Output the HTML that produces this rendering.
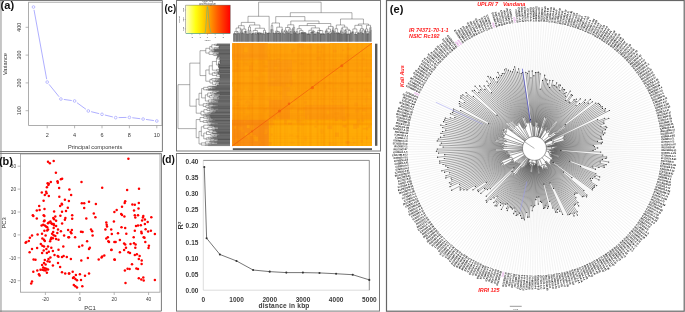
<!DOCTYPE html>
<html><head><meta charset="utf-8"><title>figure</title>
<style>
html,body{margin:0;padding:0;background:#fff;overflow:hidden;}
svg{display:block;will-change:transform;}
text{font-family:"Liberation Sans",sans-serif;}
</style></head>
<body>
<svg width="685" height="312" viewBox="0 0 685 312">
<rect width="685" height="312" fill="#fff"/>
<rect x="28.6" y="2.2" width="133.4" height="123.3" fill="none" stroke="#9a9a9a" stroke-width="0.8"/>
<line x1="25.6" y1="110.7" x2="28.6" y2="110.7" stroke="#9a9a9a" stroke-width="0.7"/>
<text x="0" y="0" transform="translate(20.8 110.7) rotate(-90)" font-size="5.4" fill="#383838" text-anchor="middle">100</text>
<line x1="25.6" y1="82.9" x2="28.6" y2="82.9" stroke="#9a9a9a" stroke-width="0.7"/>
<text x="0" y="0" transform="translate(20.8 82.9) rotate(-90)" font-size="5.4" fill="#383838" text-anchor="middle">200</text>
<line x1="25.6" y1="55.1" x2="28.6" y2="55.1" stroke="#9a9a9a" stroke-width="0.7"/>
<text x="0" y="0" transform="translate(20.8 55.1) rotate(-90)" font-size="5.4" fill="#383838" text-anchor="middle">300</text>
<line x1="25.6" y1="27.3" x2="28.6" y2="27.3" stroke="#9a9a9a" stroke-width="0.7"/>
<text x="0" y="0" transform="translate(20.8 27.3) rotate(-90)" font-size="5.4" fill="#383838" text-anchor="middle">400</text>
<line x1="47.2" y1="125.5" x2="47.2" y2="128.3" stroke="#9a9a9a" stroke-width="0.7"/>
<text x="47.2" y="136.6" font-size="5.5" fill="#383838" text-anchor="middle">2</text>
<line x1="74.6" y1="125.5" x2="74.6" y2="128.3" stroke="#9a9a9a" stroke-width="0.7"/>
<text x="74.6" y="136.6" font-size="5.5" fill="#383838" text-anchor="middle">4</text>
<line x1="102" y1="125.5" x2="102" y2="128.3" stroke="#9a9a9a" stroke-width="0.7"/>
<text x="102" y="136.6" font-size="5.5" fill="#383838" text-anchor="middle">6</text>
<line x1="129.4" y1="125.5" x2="129.4" y2="128.3" stroke="#9a9a9a" stroke-width="0.7"/>
<text x="129.4" y="136.6" font-size="5.5" fill="#383838" text-anchor="middle">8</text>
<line x1="156.8" y1="125.5" x2="156.8" y2="128.3" stroke="#9a9a9a" stroke-width="0.7"/>
<text x="156.8" y="136.6" font-size="5.5" fill="#383838" text-anchor="middle">10</text>
<text x="95.1" y="148.6" font-size="5.7" fill="#383838" text-anchor="middle">Principal components</text>
<text x="0" y="0" transform="translate(7.2 64.1) rotate(-90)" font-size="5.7" fill="#333" text-anchor="middle">Variance</text>
<line x1="34.02" y1="9.86" x2="46.68" y2="79.21" stroke="#8c8cff" stroke-width="0.7"/>
<line x1="49.02" y1="84.32" x2="59.08" y2="96.77" stroke="#8c8cff" stroke-width="0.7"/>
<line x1="63.77" y1="99.43" x2="71.73" y2="100.56" stroke="#8c8cff" stroke-width="0.7"/>
<line x1="76.94" y1="102.68" x2="85.96" y2="109.27" stroke="#8c8cff" stroke-width="0.7"/>
<line x1="91.12" y1="111.66" x2="99.18" y2="113.63" stroke="#8c8cff" stroke-width="0.7"/>
<line x1="104.82" y1="115" x2="112.88" y2="116.96" stroke="#8c8cff" stroke-width="0.7"/>
<line x1="118.6" y1="117.59" x2="126.5" y2="117.43" stroke="#8c8cff" stroke-width="0.7"/>
<line x1="132.28" y1="117.72" x2="140.22" y2="118.69" stroke="#8c8cff" stroke-width="0.7"/>
<line x1="145.97" y1="119.45" x2="153.93" y2="120.58" stroke="#8c8cff" stroke-width="0.7"/>
<circle cx="33.5" cy="7.01" r="1.35" fill="none" stroke="#8c8cff" stroke-width="0.55"/>
<circle cx="47.2" cy="82.07" r="1.35" fill="none" stroke="#8c8cff" stroke-width="0.55"/>
<circle cx="60.9" cy="99.02" r="1.35" fill="none" stroke="#8c8cff" stroke-width="0.55"/>
<circle cx="74.6" cy="100.97" r="1.35" fill="none" stroke="#8c8cff" stroke-width="0.55"/>
<circle cx="88.3" cy="110.98" r="1.35" fill="none" stroke="#8c8cff" stroke-width="0.55"/>
<circle cx="102" cy="114.31" r="1.35" fill="none" stroke="#8c8cff" stroke-width="0.55"/>
<circle cx="115.7" cy="117.65" r="1.35" fill="none" stroke="#8c8cff" stroke-width="0.55"/>
<circle cx="129.4" cy="117.37" r="1.35" fill="none" stroke="#8c8cff" stroke-width="0.55"/>
<circle cx="143.1" cy="119.04" r="1.35" fill="none" stroke="#8c8cff" stroke-width="0.55"/>
<circle cx="156.8" cy="120.99" r="1.35" fill="none" stroke="#8c8cff" stroke-width="0.55"/>
<rect x="20.5" y="154" width="139.5" height="138.2" fill="none" stroke="#9a9a9a" stroke-width="0.8"/>
<line x1="17.6" y1="166.2" x2="20.5" y2="166.2" stroke="#9a9a9a" stroke-width="0.7"/>
<text x="16.2" y="168.2" font-size="4.8" fill="#383838" text-anchor="end">30</text>
<line x1="17.6" y1="189.1" x2="20.5" y2="189.1" stroke="#9a9a9a" stroke-width="0.7"/>
<text x="16.2" y="191.1" font-size="4.8" fill="#383838" text-anchor="end">20</text>
<line x1="17.6" y1="212" x2="20.5" y2="212" stroke="#9a9a9a" stroke-width="0.7"/>
<text x="16.2" y="214" font-size="4.8" fill="#383838" text-anchor="end">10</text>
<line x1="17.6" y1="234.9" x2="20.5" y2="234.9" stroke="#9a9a9a" stroke-width="0.7"/>
<text x="16.2" y="236.9" font-size="4.8" fill="#383838" text-anchor="end">0</text>
<line x1="17.6" y1="257.8" x2="20.5" y2="257.8" stroke="#9a9a9a" stroke-width="0.7"/>
<text x="16.2" y="259.8" font-size="4.8" fill="#383838" text-anchor="end">-10</text>
<line x1="17.6" y1="280.7" x2="20.5" y2="280.7" stroke="#9a9a9a" stroke-width="0.7"/>
<text x="16.2" y="282.7" font-size="4.8" fill="#383838" text-anchor="end">-20</text>
<line x1="45.4" y1="292.2" x2="45.4" y2="295" stroke="#9a9a9a" stroke-width="0.7"/>
<text x="45.4" y="301" font-size="4.8" fill="#383838" text-anchor="middle">-20</text>
<line x1="79.8" y1="292.2" x2="79.8" y2="295" stroke="#9a9a9a" stroke-width="0.7"/>
<text x="79.8" y="301" font-size="4.8" fill="#383838" text-anchor="middle">0</text>
<line x1="114.2" y1="292.2" x2="114.2" y2="295" stroke="#9a9a9a" stroke-width="0.7"/>
<text x="114.2" y="301" font-size="4.8" fill="#383838" text-anchor="middle">20</text>
<line x1="148.6" y1="292.2" x2="148.6" y2="295" stroke="#9a9a9a" stroke-width="0.7"/>
<text x="148.6" y="301" font-size="4.8" fill="#383838" text-anchor="middle">40</text>
<text x="90.1" y="309.6" font-size="5.9" fill="#333" text-anchor="middle">PC1</text>
<text x="0" y="0" transform="translate(6.4 222.9) rotate(-90)" font-size="5.8" fill="#333" text-anchor="middle">PC3</text>
<g fill="#ff0000">
<circle cx="48" cy="161.7" r="1.25"/>
<circle cx="49.8" cy="163.3" r="1.25"/>
<circle cx="53.7" cy="161.1" r="1.25"/>
<circle cx="55.9" cy="172.8" r="1.25"/>
<circle cx="60.9" cy="179.2" r="1.25"/>
<circle cx="62.1" cy="178.8" r="1.25"/>
<circle cx="57.5" cy="181.2" r="1.25"/>
<circle cx="57.8" cy="182.8" r="1.25"/>
<circle cx="50.8" cy="182" r="1.25"/>
<circle cx="47.6" cy="183.2" r="1.25"/>
<circle cx="48.8" cy="183.8" r="1.25"/>
<circle cx="48.4" cy="184.9" r="1.25"/>
<circle cx="46.9" cy="187.2" r="1.25"/>
<circle cx="59.1" cy="188" r="1.25"/>
<circle cx="69.4" cy="189.6" r="1.25"/>
<circle cx="41.8" cy="192.6" r="1.25"/>
<circle cx="46.1" cy="191.8" r="1.25"/>
<circle cx="46.6" cy="193.3" r="1.25"/>
<circle cx="44.8" cy="194.9" r="1.25"/>
<circle cx="48.8" cy="196" r="1.25"/>
<circle cx="59.3" cy="196.8" r="1.25"/>
<circle cx="43.6" cy="200.8" r="1.25"/>
<circle cx="64.9" cy="199.8" r="1.25"/>
<circle cx="68.9" cy="201" r="1.25"/>
<circle cx="61.7" cy="203.7" r="1.25"/>
<circle cx="81.5" cy="181.9" r="1.25"/>
<circle cx="102.2" cy="187.7" r="1.25"/>
<circle cx="71.1" cy="195" r="1.25"/>
<circle cx="81.8" cy="203.2" r="1.25"/>
<circle cx="84.2" cy="203.2" r="1.25"/>
<circle cx="89" cy="201.8" r="1.25"/>
<circle cx="95.9" cy="204" r="1.25"/>
<circle cx="128.4" cy="158.8" r="1.25"/>
<circle cx="127.1" cy="190.1" r="1.25"/>
<circle cx="139" cy="188.8" r="1.25"/>
<circle cx="125.2" cy="201.3" r="1.25"/>
<circle cx="124.7" cy="202.9" r="1.25"/>
<circle cx="132.4" cy="204.5" r="1.25"/>
<circle cx="138.8" cy="202.9" r="1.25"/>
<circle cx="134.8" cy="204.8" r="1.25"/>
<circle cx="39.2" cy="206.1" r="1.25"/>
<circle cx="36.8" cy="210.4" r="1.25"/>
<circle cx="39.6" cy="209.9" r="1.25"/>
<circle cx="44.5" cy="209.1" r="1.25"/>
<circle cx="32.8" cy="215.2" r="1.25"/>
<circle cx="33.3" cy="216" r="1.25"/>
<circle cx="36.8" cy="218.6" r="1.25"/>
<circle cx="43.7" cy="215.2" r="1.25"/>
<circle cx="44.4" cy="216" r="1.25"/>
<circle cx="54.1" cy="211.4" r="1.25"/>
<circle cx="60.1" cy="205.9" r="1.25"/>
<circle cx="62" cy="204.5" r="1.25"/>
<circle cx="67.8" cy="207.7" r="1.25"/>
<circle cx="62" cy="211.7" r="1.25"/>
<circle cx="66" cy="210.9" r="1.25"/>
<circle cx="60.4" cy="215.7" r="1.25"/>
<circle cx="55.3" cy="216.5" r="1.25"/>
<circle cx="53.3" cy="218.1" r="1.25"/>
<circle cx="54.1" cy="219.2" r="1.25"/>
<circle cx="56.1" cy="220.8" r="1.25"/>
<circle cx="65.4" cy="218.1" r="1.25"/>
<circle cx="64.9" cy="219.7" r="1.25"/>
<circle cx="44.5" cy="220.5" r="1.25"/>
<circle cx="44" cy="221.2" r="1.25"/>
<circle cx="50.4" cy="221.6" r="1.25"/>
<circle cx="48.8" cy="222.4" r="1.25"/>
<circle cx="51.3" cy="223.2" r="1.25"/>
<circle cx="52.1" cy="224" r="1.25"/>
<circle cx="48" cy="223.2" r="1.25"/>
<circle cx="53.7" cy="224" r="1.25"/>
<circle cx="62.1" cy="223.6" r="1.25"/>
<circle cx="41.6" cy="225.6" r="1.25"/>
<circle cx="43.2" cy="224.8" r="1.25"/>
<circle cx="44.8" cy="225.6" r="1.25"/>
<circle cx="46.1" cy="226.4" r="1.25"/>
<circle cx="47.2" cy="227.2" r="1.25"/>
<circle cx="54.1" cy="225.3" r="1.25"/>
<circle cx="56.1" cy="226.1" r="1.25"/>
<circle cx="53.7" cy="228" r="1.25"/>
<circle cx="58" cy="229.6" r="1.25"/>
<circle cx="44.4" cy="230.8" r="1.25"/>
<circle cx="47.2" cy="230.4" r="1.25"/>
<circle cx="48" cy="229.6" r="1.25"/>
<circle cx="60.9" cy="231.3" r="1.25"/>
<circle cx="57.3" cy="232.9" r="1.25"/>
<circle cx="53.2" cy="232.1" r="1.25"/>
<circle cx="52.1" cy="233.7" r="1.25"/>
<circle cx="68.1" cy="230.1" r="1.25"/>
<circle cx="37.6" cy="234.5" r="1.25"/>
<circle cx="42" cy="233.7" r="1.25"/>
<circle cx="45.6" cy="235.6" r="1.25"/>
<circle cx="32" cy="235.6" r="1.25"/>
<circle cx="53.7" cy="235.3" r="1.25"/>
<circle cx="55.3" cy="236.1" r="1.25"/>
<circle cx="64.1" cy="235.6" r="1.25"/>
<circle cx="68.4" cy="237.2" r="1.25"/>
<circle cx="29.9" cy="237.7" r="1.25"/>
<circle cx="42.4" cy="238.5" r="1.25"/>
<circle cx="44" cy="239.7" r="1.25"/>
<circle cx="51.3" cy="237.7" r="1.25"/>
<circle cx="52.9" cy="238.2" r="1.25"/>
<circle cx="50.8" cy="239.3" r="1.25"/>
<circle cx="56.1" cy="238.9" r="1.25"/>
<circle cx="58.5" cy="239.7" r="1.25"/>
<circle cx="28.8" cy="240.9" r="1.25"/>
<circle cx="26.4" cy="242.1" r="1.25"/>
<circle cx="25.6" cy="242.8" r="1.25"/>
<circle cx="44.8" cy="240.9" r="1.25"/>
<circle cx="50.1" cy="241.3" r="1.25"/>
<circle cx="40.8" cy="244.1" r="1.25"/>
<circle cx="42.4" cy="245.7" r="1.25"/>
<circle cx="44" cy="246.5" r="1.25"/>
<circle cx="48" cy="246.5" r="1.25"/>
<circle cx="51.3" cy="247.8" r="1.25"/>
<circle cx="63.3" cy="246.5" r="1.25"/>
<circle cx="32" cy="248.9" r="1.25"/>
<circle cx="37.1" cy="248.1" r="1.25"/>
<circle cx="46.4" cy="248.9" r="1.25"/>
<circle cx="58.5" cy="249.7" r="1.25"/>
<circle cx="84.2" cy="208" r="1.25"/>
<circle cx="72.2" cy="215.2" r="1.25"/>
<circle cx="72.2" cy="218.8" r="1.25"/>
<circle cx="93.8" cy="213.6" r="1.25"/>
<circle cx="95.4" cy="217.3" r="1.25"/>
<circle cx="86.3" cy="218.4" r="1.25"/>
<circle cx="114.4" cy="212" r="1.25"/>
<circle cx="106.3" cy="222.4" r="1.25"/>
<circle cx="106.7" cy="224.8" r="1.25"/>
<circle cx="107" cy="226.4" r="1.25"/>
<circle cx="113.9" cy="221.6" r="1.25"/>
<circle cx="71.9" cy="230.1" r="1.25"/>
<circle cx="70.6" cy="232" r="1.25"/>
<circle cx="71.4" cy="233.2" r="1.25"/>
<circle cx="81" cy="231.7" r="1.25"/>
<circle cx="82.6" cy="232" r="1.25"/>
<circle cx="91" cy="229.6" r="1.25"/>
<circle cx="92.2" cy="231.3" r="1.25"/>
<circle cx="105.4" cy="229.6" r="1.25"/>
<circle cx="111.2" cy="229.6" r="1.25"/>
<circle cx="111.8" cy="234" r="1.25"/>
<circle cx="69" cy="237.3" r="1.25"/>
<circle cx="75.1" cy="237.2" r="1.25"/>
<circle cx="92.6" cy="235.6" r="1.25"/>
<circle cx="106.3" cy="238.5" r="1.25"/>
<circle cx="107.8" cy="237.2" r="1.25"/>
<circle cx="108.3" cy="241.3" r="1.25"/>
<circle cx="109" cy="242" r="1.25"/>
<circle cx="114.4" cy="242" r="1.25"/>
<circle cx="87.1" cy="241.2" r="1.25"/>
<circle cx="82.3" cy="245.4" r="1.25"/>
<circle cx="79.1" cy="246.8" r="1.25"/>
<circle cx="89.8" cy="247.8" r="1.25"/>
<circle cx="89" cy="248.9" r="1.25"/>
<circle cx="111.5" cy="249.7" r="1.25"/>
<circle cx="122" cy="206.7" r="1.25"/>
<circle cx="116.7" cy="209.9" r="1.25"/>
<circle cx="134" cy="210.4" r="1.25"/>
<circle cx="138.5" cy="208.5" r="1.25"/>
<circle cx="121.2" cy="214.1" r="1.25"/>
<circle cx="122" cy="214.9" r="1.25"/>
<circle cx="124.4" cy="216.5" r="1.25"/>
<circle cx="134.8" cy="215.2" r="1.25"/>
<circle cx="135.3" cy="217.6" r="1.25"/>
<circle cx="138" cy="215.2" r="1.25"/>
<circle cx="143.3" cy="216" r="1.25"/>
<circle cx="142.9" cy="217.6" r="1.25"/>
<circle cx="151.3" cy="217.3" r="1.25"/>
<circle cx="142.1" cy="220.5" r="1.25"/>
<circle cx="144.9" cy="219.6" r="1.25"/>
<circle cx="147.7" cy="222" r="1.25"/>
<circle cx="144.9" cy="224" r="1.25"/>
<circle cx="136" cy="226" r="1.25"/>
<circle cx="138" cy="225.6" r="1.25"/>
<circle cx="140.8" cy="225.2" r="1.25"/>
<circle cx="121.5" cy="227.2" r="1.25"/>
<circle cx="125.2" cy="228" r="1.25"/>
<circle cx="145.6" cy="229.3" r="1.25"/>
<circle cx="148.1" cy="231.6" r="1.25"/>
<circle cx="150.9" cy="230.8" r="1.25"/>
<circle cx="134.8" cy="230.8" r="1.25"/>
<circle cx="141.3" cy="231.7" r="1.25"/>
<circle cx="141.7" cy="233.2" r="1.25"/>
<circle cx="118" cy="233.2" r="1.25"/>
<circle cx="126.3" cy="233.7" r="1.25"/>
<circle cx="154.9" cy="234" r="1.25"/>
<circle cx="133.7" cy="237.2" r="1.25"/>
<circle cx="143.7" cy="237.2" r="1.25"/>
<circle cx="144.5" cy="237.8" r="1.25"/>
<circle cx="119.9" cy="240.1" r="1.25"/>
<circle cx="115.6" cy="242" r="1.25"/>
<circle cx="145.3" cy="242" r="1.25"/>
<circle cx="124.1" cy="243.6" r="1.25"/>
<circle cx="125.2" cy="244.4" r="1.25"/>
<circle cx="130.5" cy="244.1" r="1.25"/>
<circle cx="134" cy="243.3" r="1.25"/>
<circle cx="135.6" cy="244.6" r="1.25"/>
<circle cx="148.9" cy="245.7" r="1.25"/>
<circle cx="126" cy="247.8" r="1.25"/>
<circle cx="135.3" cy="247.8" r="1.25"/>
<circle cx="148.5" cy="248.1" r="1.25"/>
<circle cx="29.6" cy="252.2" r="1.25"/>
<circle cx="43.7" cy="250.6" r="1.25"/>
<circle cx="42.1" cy="253" r="1.25"/>
<circle cx="46.9" cy="253" r="1.25"/>
<circle cx="48.8" cy="251.7" r="1.25"/>
<circle cx="52.9" cy="251.1" r="1.25"/>
<circle cx="54.5" cy="254.9" r="1.25"/>
<circle cx="57.7" cy="255.9" r="1.25"/>
<circle cx="58.5" cy="256.7" r="1.25"/>
<circle cx="62" cy="257" r="1.25"/>
<circle cx="63.6" cy="255.9" r="1.25"/>
<circle cx="66.8" cy="257" r="1.25"/>
<circle cx="33.6" cy="259.4" r="1.25"/>
<circle cx="35.5" cy="259.7" r="1.25"/>
<circle cx="44.8" cy="259.9" r="1.25"/>
<circle cx="48.5" cy="259.1" r="1.25"/>
<circle cx="50.4" cy="257.5" r="1.25"/>
<circle cx="47.6" cy="261.3" r="1.25"/>
<circle cx="49.6" cy="261.8" r="1.25"/>
<circle cx="58" cy="263" r="1.25"/>
<circle cx="44" cy="263" r="1.25"/>
<circle cx="42.1" cy="265" r="1.25"/>
<circle cx="45.6" cy="264.6" r="1.25"/>
<circle cx="52.9" cy="265.5" r="1.25"/>
<circle cx="60.1" cy="267" r="1.25"/>
<circle cx="43.2" cy="267.4" r="1.25"/>
<circle cx="44.8" cy="268.2" r="1.25"/>
<circle cx="46.4" cy="268.7" r="1.25"/>
<circle cx="48" cy="269.4" r="1.25"/>
<circle cx="40.5" cy="269.8" r="1.25"/>
<circle cx="42.4" cy="269.8" r="1.25"/>
<circle cx="44" cy="270.3" r="1.25"/>
<circle cx="45.6" cy="270.6" r="1.25"/>
<circle cx="37.3" cy="270.6" r="1.25"/>
<circle cx="33.3" cy="271.8" r="1.25"/>
<circle cx="46.9" cy="272.7" r="1.25"/>
<circle cx="62" cy="272.2" r="1.25"/>
<circle cx="65.2" cy="273.5" r="1.25"/>
<circle cx="68.9" cy="273.4" r="1.25"/>
<circle cx="38.9" cy="274.3" r="1.25"/>
<circle cx="39.6" cy="275.4" r="1.25"/>
<circle cx="32" cy="281.5" r="1.25"/>
<circle cx="31.2" cy="283.5" r="1.25"/>
<circle cx="70.9" cy="259.1" r="1.25"/>
<circle cx="81.3" cy="260.5" r="1.25"/>
<circle cx="87.9" cy="258.1" r="1.25"/>
<circle cx="98.7" cy="259.4" r="1.25"/>
<circle cx="101.5" cy="257.5" r="1.25"/>
<circle cx="102.2" cy="256.5" r="1.25"/>
<circle cx="104.3" cy="255.4" r="1.25"/>
<circle cx="114.4" cy="259.4" r="1.25"/>
<circle cx="69.3" cy="273.5" r="1.25"/>
<circle cx="72.7" cy="271.8" r="1.25"/>
<circle cx="75.9" cy="275.1" r="1.25"/>
<circle cx="79.9" cy="274.3" r="1.25"/>
<circle cx="85" cy="275.8" r="1.25"/>
<circle cx="89" cy="273.5" r="1.25"/>
<circle cx="73" cy="277.9" r="1.25"/>
<circle cx="73.8" cy="277.2" r="1.25"/>
<circle cx="75.4" cy="279.1" r="1.25"/>
<circle cx="77" cy="280.3" r="1.25"/>
<circle cx="81" cy="279.9" r="1.25"/>
<circle cx="73.8" cy="285.1" r="1.25"/>
<circle cx="75.4" cy="286.3" r="1.25"/>
<circle cx="77" cy="287.5" r="1.25"/>
<circle cx="82.3" cy="286.3" r="1.25"/>
<circle cx="111.3" cy="250.1" r="1.25"/>
<circle cx="119.9" cy="252.2" r="1.25"/>
<circle cx="124.1" cy="250.1" r="1.25"/>
<circle cx="128.4" cy="252.2" r="1.25"/>
<circle cx="130" cy="253" r="1.25"/>
<circle cx="134.8" cy="254.9" r="1.25"/>
<circle cx="136.9" cy="254.3" r="1.25"/>
<circle cx="139.6" cy="255.9" r="1.25"/>
<circle cx="114.8" cy="259.7" r="1.25"/>
<circle cx="138.8" cy="259.1" r="1.25"/>
<circle cx="141.7" cy="260.5" r="1.25"/>
<circle cx="132" cy="264.2" r="1.25"/>
<circle cx="141.6" cy="263.9" r="1.25"/>
<circle cx="124.9" cy="270.6" r="1.25"/>
<circle cx="127.6" cy="268.7" r="1.25"/>
<circle cx="129.6" cy="269" r="1.25"/>
<circle cx="136.4" cy="268.6" r="1.25"/>
<circle cx="138" cy="269" r="1.25"/>
<circle cx="138.8" cy="278.3" r="1.25"/>
<circle cx="141.3" cy="279.5" r="1.25"/>
<circle cx="143.3" cy="277.5" r="1.25"/>
<circle cx="143.7" cy="280.6" r="1.25"/>
<circle cx="154.9" cy="279.9" r="1.25"/>
<circle cx="125.5" cy="283.1" r="1.25"/>
</g>
<defs><linearGradient id="ck" x1="0" x2="1" y1="0" y2="0"><stop offset="0" stop-color="#ffffc8"/><stop offset="0.22" stop-color="#ffff10"/><stop offset="0.38" stop-color="#ffd400"/><stop offset="0.55" stop-color="#ff9800"/><stop offset="0.72" stop-color="#ff5a00"/><stop offset="1" stop-color="#ff0000"/></linearGradient></defs>
<rect x="185.8" y="5.1" width="44.4" height="28.6" fill="url(#ck)" stroke="#555" stroke-width="0.4"/>
<polyline points="186,33.5 204.8,33.5 205.5,31 206.2,22 206.9,10 207.4,6.6 208,9 208.7,18 209.6,27 210.6,32 212,33.5 230,33.5" fill="none" stroke="#40b8a8" stroke-width="0.5"/>
<line x1="191.9" y1="33.7" x2="191.9" y2="35.2" stroke="#555" stroke-width="0.3"/>
<line x1="199.8" y1="33.7" x2="199.8" y2="35.2" stroke="#555" stroke-width="0.3"/>
<line x1="207.5" y1="33.7" x2="207.5" y2="35.2" stroke="#555" stroke-width="0.3"/>
<line x1="215.2" y1="33.7" x2="215.2" y2="35.2" stroke="#555" stroke-width="0.3"/>
<line x1="223.3" y1="33.7" x2="223.3" y2="35.2" stroke="#555" stroke-width="0.3"/>
<text x="191.9" y="37.8" font-size="2.5" fill="#444" text-anchor="middle">-2</text>
<text x="199.8" y="37.8" font-size="2.5" fill="#444" text-anchor="middle">-1</text>
<text x="207.5" y="37.8" font-size="2.5" fill="#444" text-anchor="middle">0</text>
<text x="215.2" y="37.8" font-size="2.5" fill="#444" text-anchor="middle">1</text>
<text x="223.3" y="37.8" font-size="2.5" fill="#444" text-anchor="middle">2</text>
<text x="207.5" y="40.6" font-size="2.5" fill="#444" text-anchor="middle">Value</text>
<line x1="184.6" y1="10" x2="185.8" y2="10" stroke="#555" stroke-width="0.3"/>
<text x="0" y="0" transform="translate(183.6 10) rotate(-90)" font-size="2.5" fill="#444" text-anchor="middle">300</text>
<line x1="184.6" y1="19.5" x2="185.8" y2="19.5" stroke="#555" stroke-width="0.3"/>
<text x="0" y="0" transform="translate(183.6 19.5) rotate(-90)" font-size="2.5" fill="#444" text-anchor="middle">200</text>
<line x1="184.6" y1="28.9" x2="185.8" y2="28.9" stroke="#555" stroke-width="0.3"/>
<text x="0" y="0" transform="translate(183.6 28.9) rotate(-90)" font-size="2.5" fill="#444" text-anchor="middle">100</text>
<text x="0" y="0" transform="translate(180 19.5) rotate(-90)" font-size="2.5" fill="#444" text-anchor="middle">Count</text>
<text x="207.5" y="2.4" font-size="2.6" fill="#444" text-anchor="middle">Color Key</text>
<text x="207.5" y="4.7" font-size="2.6" fill="#444" text-anchor="middle">and Histogram</text>
<rect x="232.2" y="43.2" width="139.8" height="102.8" fill="#fea10a"/>
<rect x="232.2" y="119.7" width="36.7" height="26.3" fill="#f98e12"/>
<rect x="232.2" y="43.2" width="35.6" height="16.5" fill="#fc9a10"/>
<rect x="267.8" y="59.7" width="24.2" height="26.6" fill="#fc9b10"/>
<rect x="282" y="86.3" width="8.3" height="13.7" fill="#fc9c10"/>
<rect x="268.9" y="100" width="21.1" height="19.7" fill="#fc960f"/>
<rect x="305" y="105" width="40" height="14.7" fill="#fd9c0e"/>
<rect x="268.9" y="119.7" width="103.1" height="26.3" fill="#ffab06"/>
<rect x="330" y="43.2" width="42" height="16.8" fill="#fea40a"/>
<g>
<rect x="276.5" y="58.25" width="3.78" height="1.75" fill="#fb980e" opacity="0.6"/>
<rect x="245.08" y="101.36" width="4.68" height="2.25" fill="#fb9a0c" opacity="0.6"/>
<rect x="291.52" y="50.17" width="1.82" height="2.99" fill="#fb980e" opacity="0.6"/>
<rect x="249.14" y="65.48" width="3.7" height="4.82" fill="#fb980e" opacity="0.6"/>
<rect x="312.3" y="48.15" width="2.27" height="3.45" fill="#fda40a" opacity="0.6"/>
<rect x="271.82" y="57.6" width="1.91" height="2.58" fill="#fda40a" opacity="0.6"/>
<rect x="246.3" y="100.21" width="2.16" height="1.84" fill="#fb9a0c" opacity="0.6"/>
<rect x="309.41" y="104.98" width="3.24" height="3.36" fill="#fc9c0e" opacity="0.6"/>
<rect x="295.89" y="135.36" width="2.77" height="2.37" fill="#fda40a" opacity="0.6"/>
<rect x="327.82" y="67.56" width="3.51" height="3.34" fill="#fc9c0e" opacity="0.6"/>
<rect x="331.99" y="71.94" width="4.93" height="1.91" fill="#fea60a" opacity="0.6"/>
<rect x="254.77" y="77.34" width="4.77" height="2.98" fill="#fb9a0c" opacity="0.6"/>
<rect x="336.79" y="100.39" width="4.56" height="2.6" fill="#fc9c0e" opacity="0.6"/>
<rect x="313.51" y="101.07" width="3.1" height="4.44" fill="#fc9c0e" opacity="0.6"/>
<rect x="297.06" y="109.48" width="1.71" height="3.96" fill="#fb980e" opacity="0.6"/>
<rect x="368.06" y="125.23" width="2.5" height="2.85" fill="#fc9c0e" opacity="0.6"/>
<rect x="235.29" y="89.28" width="2.09" height="1.91" fill="#fb9a0c" opacity="0.6"/>
<rect x="262.05" y="71.89" width="4.08" height="2.89" fill="#fea60a" opacity="0.6"/>
<rect x="243.22" y="88.03" width="3.42" height="4.59" fill="#fea60a" opacity="0.6"/>
<rect x="350.39" y="70.99" width="2.95" height="2.76" fill="#fea60a" opacity="0.6"/>
<rect x="363.22" y="58.26" width="2.12" height="2.31" fill="#fda40a" opacity="0.6"/>
<rect x="233.85" y="126.14" width="2.14" height="2.49" fill="#fda40a" opacity="0.6"/>
<rect x="289.51" y="80.05" width="3.48" height="4.84" fill="#fb980e" opacity="0.6"/>
<rect x="362.19" y="108.57" width="4.09" height="3.1" fill="#fb980e" opacity="0.6"/>
<rect x="285.88" y="83.02" width="1.86" height="3.72" fill="#fb9a0c" opacity="0.6"/>
<rect x="258.28" y="141.47" width="3.04" height="1.88" fill="#fb980e" opacity="0.6"/>
<rect x="239.39" y="43.22" width="2.03" height="1.86" fill="#fc9c0e" opacity="0.6"/>
<rect x="316.16" y="50.22" width="2.23" height="2.82" fill="#fc9c0e" opacity="0.6"/>
<rect x="362.91" y="103.31" width="3.16" height="1.9" fill="#fea60a" opacity="0.6"/>
<rect x="368.06" y="89.71" width="3.19" height="1.8" fill="#fb9a0c" opacity="0.6"/>
<rect x="334.76" y="117.09" width="3.18" height="3.92" fill="#fb980e" opacity="0.6"/>
<rect x="235.36" y="138.11" width="3.35" height="2.01" fill="#fb980e" opacity="0.6"/>
<rect x="357.26" y="118.86" width="2.54" height="3.75" fill="#fb9a0c" opacity="0.6"/>
<rect x="327.44" y="69.26" width="2.78" height="2.08" fill="#fda40a" opacity="0.6"/>
<rect x="305.06" y="120.95" width="2.65" height="2.28" fill="#fda40a" opacity="0.6"/>
<rect x="342.47" y="124.87" width="4.09" height="2.29" fill="#fb980e" opacity="0.6"/>
<rect x="299.61" y="116.15" width="4.96" height="4.27" fill="#fea60a" opacity="0.6"/>
<rect x="267.66" y="112.31" width="4.85" height="3.07" fill="#fc9c0e" opacity="0.6"/>
<rect x="362.84" y="79.59" width="2.27" height="2.29" fill="#fda40a" opacity="0.6"/>
<rect x="278.4" y="91.37" width="4.95" height="3.64" fill="#fb9a0c" opacity="0.6"/>
<rect x="297.79" y="108.37" width="4.3" height="1.8" fill="#fb9a0c" opacity="0.6"/>
<rect x="356.66" y="121.27" width="4.13" height="3.17" fill="#fda40a" opacity="0.6"/>
<rect x="291.56" y="106.66" width="1.8" height="4.81" fill="#fea60a" opacity="0.6"/>
<rect x="295.56" y="117.39" width="1.8" height="2.06" fill="#fda40a" opacity="0.6"/>
<rect x="235.97" y="102.16" width="3.13" height="3.8" fill="#fb980e" opacity="0.6"/>
<rect x="345.27" y="141.03" width="3.8" height="2.73" fill="#fb980e" opacity="0.6"/>
<rect x="307.21" y="45.34" width="4.3" height="4.04" fill="#fb9a0c" opacity="0.6"/>
<rect x="304.24" y="136.38" width="3.02" height="4.55" fill="#fda40a" opacity="0.6"/>
<rect x="236.03" y="64.44" width="3.25" height="4.17" fill="#fc9c0e" opacity="0.6"/>
<rect x="267.68" y="85.02" width="1.96" height="4.69" fill="#fc9c0e" opacity="0.6"/>
<rect x="355.01" y="109.31" width="4.35" height="3.31" fill="#fb980e" opacity="0.6"/>
<rect x="250.09" y="58.35" width="3.29" height="4.55" fill="#fda40a" opacity="0.6"/>
<rect x="315.45" y="120.65" width="2.02" height="2" fill="#fb980e" opacity="0.6"/>
<rect x="331.41" y="98.74" width="2.64" height="3.31" fill="#fb980e" opacity="0.6"/>
<rect x="298.2" y="120.69" width="4.59" height="1.7" fill="#fda40a" opacity="0.6"/>
<rect x="270.08" y="120.27" width="3.28" height="3.47" fill="#fb9a0c" opacity="0.6"/>
<rect x="292.84" y="104.33" width="3.27" height="3.29" fill="#fc9c0e" opacity="0.6"/>
<rect x="294.08" y="96.42" width="3.17" height="4.8" fill="#fb980e" opacity="0.6"/>
<rect x="352.11" y="137.23" width="2.41" height="3.46" fill="#fda40a" opacity="0.6"/>
<rect x="347.11" y="56.89" width="1.93" height="3.05" fill="#fb9a0c" opacity="0.6"/>
<rect x="324.01" y="85.95" width="2.24" height="2.56" fill="#fb9a0c" opacity="0.6"/>
<rect x="354.91" y="58.61" width="4.01" height="3.81" fill="#fda40a" opacity="0.6"/>
<rect x="266.83" y="56.9" width="3.14" height="4.11" fill="#fb9a0c" opacity="0.6"/>
<rect x="286.68" y="91.83" width="4.96" height="4.41" fill="#fda40a" opacity="0.6"/>
<rect x="328.83" y="142.41" width="2.91" height="2.97" fill="#fc9c0e" opacity="0.6"/>
<rect x="275.77" y="115.27" width="1.57" height="3.44" fill="#fea60a" opacity="0.6"/>
<rect x="328.39" y="81.56" width="3.31" height="2.53" fill="#fb9a0c" opacity="0.6"/>
<rect x="247.64" y="134.87" width="2.3" height="4.57" fill="#fb9a0c" opacity="0.6"/>
<rect x="268.53" y="47.15" width="4.23" height="2.45" fill="#fda40a" opacity="0.6"/>
<rect x="344.35" y="127.99" width="3.87" height="4.81" fill="#fea60a" opacity="0.6"/>
<rect x="252.63" y="134.93" width="3.5" height="3.95" fill="#fb9a0c" opacity="0.6"/>
<rect x="270.38" y="123" width="2.14" height="4.63" fill="#fc9c0e" opacity="0.6"/>
<rect x="360.57" y="106.52" width="4.31" height="1.79" fill="#fda40a" opacity="0.6"/>
<rect x="241.31" y="129.3" width="3.09" height="2.69" fill="#fb980e" opacity="0.6"/>
<rect x="289.35" y="134.56" width="3.68" height="1.65" fill="#fda40a" opacity="0.6"/>
<rect x="360.54" y="139.93" width="2.42" height="2.13" fill="#fc9c0e" opacity="0.6"/>
<rect x="318.2" y="96.2" width="2.22" height="3.06" fill="#fda40a" opacity="0.6"/>
<rect x="269.21" y="123.41" width="4.98" height="1.63" fill="#fb9a0c" opacity="0.6"/>
<rect x="332.49" y="98.19" width="2.16" height="3.16" fill="#fea60a" opacity="0.6"/>
<rect x="246.74" y="124.93" width="3.01" height="3.23" fill="#fea60a" opacity="0.6"/>
<rect x="364.94" y="73.92" width="2.25" height="2.3" fill="#fda40a" opacity="0.6"/>
<rect x="346.06" y="113.73" width="3.73" height="2.92" fill="#fc9c0e" opacity="0.6"/>
<rect x="366.52" y="126.73" width="1.55" height="3.69" fill="#fc9c0e" opacity="0.6"/>
<rect x="291.13" y="48.73" width="3.83" height="2.83" fill="#fb980e" opacity="0.6"/>
<rect x="323.93" y="71.34" width="2.35" height="2.53" fill="#fea60a" opacity="0.6"/>
<rect x="257.56" y="70.05" width="1.51" height="2.77" fill="#fc9c0e" opacity="0.6"/>
<rect x="365.25" y="97.8" width="2.36" height="4.88" fill="#fc9c0e" opacity="0.6"/>
<rect x="262" y="61.46" width="2.67" height="1.79" fill="#fc9c0e" opacity="0.6"/>
<rect x="300.98" y="63.26" width="3.27" height="1.52" fill="#fc9c0e" opacity="0.6"/>
<rect x="343.97" y="57.56" width="3.55" height="2.88" fill="#fc9c0e" opacity="0.6"/>
<rect x="273.82" y="66.43" width="3.55" height="3.35" fill="#fda40a" opacity="0.6"/>
<rect x="322.15" y="114.66" width="4.58" height="2.86" fill="#fc9c0e" opacity="0.6"/>
<rect x="330.79" y="92.52" width="2.49" height="3.67" fill="#fda40a" opacity="0.6"/>
<rect x="238.19" y="126.56" width="4.62" height="3.7" fill="#fb980e" opacity="0.6"/>
<rect x="251.26" y="95.47" width="3.27" height="4.42" fill="#fb9a0c" opacity="0.6"/>
<rect x="345.25" y="101.49" width="4.62" height="3.89" fill="#fda40a" opacity="0.6"/>
<rect x="243.84" y="47.38" width="3.73" height="4.86" fill="#fea60a" opacity="0.6"/>
<rect x="346.54" y="98.94" width="3.7" height="3.69" fill="#fda40a" opacity="0.6"/>
<rect x="299.14" y="43.53" width="4.29" height="4.12" fill="#fb980e" opacity="0.6"/>
<rect x="355.03" y="52.38" width="3.34" height="4.11" fill="#fea60a" opacity="0.6"/>
<rect x="266.7" y="50.63" width="2.43" height="4.05" fill="#fda40a" opacity="0.6"/>
<rect x="263.76" y="108.06" width="3.11" height="4.46" fill="#fb9a0c" opacity="0.6"/>
<rect x="297.73" y="111.43" width="4.18" height="3.66" fill="#fda40a" opacity="0.6"/>
<rect x="242.8" y="57.91" width="2.39" height="4.1" fill="#fc9c0e" opacity="0.6"/>
<rect x="317.17" y="56.52" width="3.19" height="3.2" fill="#fb9a0c" opacity="0.6"/>
<rect x="326.89" y="110.64" width="2.52" height="3.31" fill="#fea60a" opacity="0.6"/>
<rect x="295.93" y="119.76" width="4.98" height="3.42" fill="#fc9c0e" opacity="0.6"/>
<rect x="366.01" y="136.64" width="1.56" height="3.11" fill="#fb980e" opacity="0.6"/>
<rect x="364.64" y="88.06" width="2.44" height="2.23" fill="#fda40a" opacity="0.6"/>
<rect x="242.41" y="52.21" width="4.12" height="2.42" fill="#fc9c0e" opacity="0.6"/>
<rect x="250.34" y="125.06" width="3.28" height="4.6" fill="#fc9c0e" opacity="0.6"/>
<rect x="263.85" y="132.79" width="3.2" height="1.59" fill="#fb9a0c" opacity="0.6"/>
<rect x="362.15" y="111.22" width="2.92" height="4.05" fill="#fea60a" opacity="0.6"/>
<rect x="279.25" y="74.74" width="4.44" height="1.51" fill="#fc9c0e" opacity="0.6"/>
<rect x="346.99" y="55.18" width="4.74" height="4" fill="#fc9c0e" opacity="0.6"/>
<rect x="266.84" y="49.68" width="2.87" height="4.54" fill="#fb9a0c" opacity="0.6"/>
<rect x="281.55" y="85.92" width="2.46" height="1.67" fill="#fb9a0c" opacity="0.6"/>
<rect x="239.26" y="109.27" width="3.72" height="2.02" fill="#fc9c0e" opacity="0.6"/>
<rect x="291.88" y="74.7" width="4.21" height="4.25" fill="#fea60a" opacity="0.6"/>
<rect x="353.17" y="124.23" width="3.71" height="4.7" fill="#fb980e" opacity="0.6"/>
<rect x="307.33" y="115.01" width="1.67" height="4.06" fill="#fea60a" opacity="0.6"/>
<rect x="316.32" y="57.03" width="4.54" height="3.2" fill="#fb980e" opacity="0.6"/>
<rect x="249.62" y="90.32" width="2.7" height="2.54" fill="#fc9c0e" opacity="0.6"/>
<rect x="287.77" y="67.02" width="3.19" height="3.84" fill="#fb9a0c" opacity="0.6"/>
<rect x="255.09" y="59.33" width="2.23" height="4.67" fill="#fea60a" opacity="0.6"/>
<rect x="307.49" y="88.41" width="2.66" height="4.16" fill="#fea60a" opacity="0.6"/>
<rect x="251.3" y="62.4" width="1.82" height="2.7" fill="#fb9a0c" opacity="0.6"/>
<rect x="275.88" y="79.96" width="4.33" height="2.21" fill="#fb9a0c" opacity="0.6"/>
<rect x="334.75" y="84.4" width="2.95" height="3.33" fill="#fea60a" opacity="0.6"/>
<rect x="269.17" y="118.26" width="3.24" height="3.51" fill="#fc9c0e" opacity="0.6"/>
<rect x="249.42" y="93.44" width="3.7" height="4.52" fill="#fda40a" opacity="0.6"/>
<rect x="244.87" y="132.7" width="2.85" height="3.76" fill="#fea60a" opacity="0.6"/>
<rect x="362.7" y="127.9" width="4.56" height="1.58" fill="#fb9a0c" opacity="0.6"/>
<rect x="290.37" y="119.42" width="4.31" height="4.89" fill="#fea60a" opacity="0.6"/>
<rect x="232.22" y="82.27" width="4.74" height="4.39" fill="#fea60a" opacity="0.6"/>
<rect x="365.2" y="68" width="1.88" height="2.04" fill="#fb980e" opacity="0.6"/>
<rect x="365.15" y="54.07" width="4.39" height="3.95" fill="#fea60a" opacity="0.6"/>
<rect x="243.83" y="120.73" width="1.5" height="1.94" fill="#fb980e" opacity="0.6"/>
<rect x="358.05" y="107.62" width="2.56" height="1.95" fill="#fc9c0e" opacity="0.6"/>
<rect x="304.47" y="86.86" width="4.17" height="1.85" fill="#fc9c0e" opacity="0.6"/>
<rect x="303.94" y="101.37" width="2.86" height="2.28" fill="#fb980e" opacity="0.6"/>
<rect x="232.36" y="96.84" width="4.99" height="2.48" fill="#fc9c0e" opacity="0.6"/>
<rect x="320.38" y="131.4" width="3.16" height="2.32" fill="#fda40a" opacity="0.6"/>
<rect x="236.21" y="84.3" width="3.77" height="1.69" fill="#fda40a" opacity="0.6"/>
<rect x="300.37" y="110.51" width="2.97" height="2.4" fill="#fea60a" opacity="0.6"/>
<rect x="358.76" y="65.83" width="1.62" height="2.68" fill="#fea60a" opacity="0.6"/>
<rect x="281.77" y="82.76" width="1.52" height="2.52" fill="#fb980e" opacity="0.6"/>
<rect x="241.42" y="92.67" width="2.2" height="4.18" fill="#fda40a" opacity="0.6"/>
<rect x="263.77" y="65.3" width="4.16" height="2.53" fill="#fb980e" opacity="0.6"/>
<rect x="300.02" y="61.89" width="2.28" height="2.96" fill="#fb9a0c" opacity="0.6"/>
<rect x="361.99" y="57.81" width="2.88" height="2.25" fill="#fb980e" opacity="0.6"/>
<rect x="251.61" y="48.37" width="1.71" height="2.88" fill="#fc9c0e" opacity="0.6"/>
<rect x="332.44" y="142.75" width="4.76" height="2.65" fill="#fda40a" opacity="0.6"/>
<rect x="321.46" y="95.57" width="3.14" height="2.59" fill="#fea60a" opacity="0.6"/>
<rect x="346.99" y="141.5" width="3.05" height="1.88" fill="#fb9a0c" opacity="0.6"/>
<rect x="270.48" y="78.28" width="4.84" height="1.93" fill="#fda40a" opacity="0.6"/>
<rect x="284.2" y="119.92" width="2.58" height="4.31" fill="#fb9a0c" opacity="0.6"/>
<rect x="238.94" y="90.45" width="2.8" height="4.72" fill="#fda40a" opacity="0.6"/>
<rect x="276.43" y="116.78" width="3.16" height="3.71" fill="#fda40a" opacity="0.6"/>
<rect x="343.26" y="119.71" width="1.64" height="1.62" fill="#fb9a0c" opacity="0.6"/>
<rect x="342.1" y="49.39" width="2.18" height="1.72" fill="#fb980e" opacity="0.6"/>
<rect x="278.58" y="70.38" width="4.85" height="3.66" fill="#fc9c0e" opacity="0.6"/>
<rect x="334.31" y="112.02" width="4.73" height="2.54" fill="#fb980e" opacity="0.6"/>
<rect x="357.57" y="106.47" width="4.8" height="1.58" fill="#fda40a" opacity="0.6"/>
<rect x="246.87" y="114.61" width="3.13" height="4.22" fill="#fc9c0e" opacity="0.6"/>
<rect x="357.17" y="124.52" width="1.96" height="3.24" fill="#fb9a0c" opacity="0.6"/>
<rect x="341.99" y="116.9" width="4.38" height="4.2" fill="#fb980e" opacity="0.6"/>
<rect x="264.5" y="129.15" width="3.11" height="4.24" fill="#fb980e" opacity="0.6"/>
<rect x="243.01" y="62.89" width="4.14" height="2.37" fill="#fb9a0c" opacity="0.6"/>
<rect x="321.06" y="91.27" width="3.41" height="2.06" fill="#fea60a" opacity="0.6"/>
<rect x="353.06" y="141.78" width="2.43" height="1.79" fill="#fb9a0c" opacity="0.6"/>
<rect x="289.8" y="141.85" width="4.9" height="2.11" fill="#fda40a" opacity="0.6"/>
<rect x="289.22" y="105.11" width="3.86" height="4.12" fill="#fb9a0c" opacity="0.6"/>
<rect x="338.87" y="72.53" width="2.48" height="2.44" fill="#fc9c0e" opacity="0.6"/>
<rect x="333.17" y="63.08" width="2.37" height="2.36" fill="#fda40a" opacity="0.6"/>
<rect x="270.69" y="133.78" width="2.16" height="1.73" fill="#fc9c0e" opacity="0.6"/>
<rect x="367.97" y="93.83" width="2.31" height="4.33" fill="#fea60a" opacity="0.6"/>
<rect x="367.76" y="53.41" width="3.16" height="4.37" fill="#fea60a" opacity="0.6"/>
<rect x="357.29" y="47.23" width="2.53" height="1.92" fill="#fda40a" opacity="0.6"/>
<rect x="314.35" y="125.83" width="2.18" height="1.76" fill="#fb980e" opacity="0.6"/>
<rect x="350.69" y="88.02" width="2.41" height="4.22" fill="#fb9a0c" opacity="0.6"/>
<rect x="246.67" y="102.7" width="3.67" height="2.26" fill="#fc9c0e" opacity="0.6"/>
<rect x="278.71" y="47.61" width="5" height="1.63" fill="#fda40a" opacity="0.6"/>
<rect x="343.66" y="124.92" width="2.93" height="2.8" fill="#fb980e" opacity="0.6"/>
<rect x="274.91" y="63.5" width="4.28" height="3.42" fill="#fb9a0c" opacity="0.6"/>
<rect x="288.04" y="122.63" width="3.82" height="2.04" fill="#fb980e" opacity="0.6"/>
<rect x="244.67" y="59.54" width="3.93" height="2.93" fill="#fc9c0e" opacity="0.6"/>
<rect x="323.56" y="84.9" width="1.68" height="4.11" fill="#fc9c0e" opacity="0.6"/>
<rect x="288.85" y="45.02" width="4.18" height="4.31" fill="#fda40a" opacity="0.6"/>
<rect x="285.65" y="83.62" width="4.8" height="3.02" fill="#fda40a" opacity="0.6"/>
<rect x="290.17" y="125.07" width="2.92" height="4.59" fill="#fea60a" opacity="0.6"/>
<rect x="337.95" y="56.17" width="1.68" height="2" fill="#fea60a" opacity="0.6"/>
<rect x="244.38" y="105.3" width="2.8" height="3.27" fill="#fda40a" opacity="0.6"/>
<rect x="279.8" y="59.35" width="2.1" height="1.73" fill="#fea60a" opacity="0.6"/>
<rect x="299.3" y="123.52" width="4.88" height="2.19" fill="#fda40a" opacity="0.6"/>
<rect x="346.74" y="47.54" width="4.69" height="2.6" fill="#fb980e" opacity="0.6"/>
<rect x="358.9" y="81.91" width="4.66" height="3.67" fill="#fda40a" opacity="0.6"/>
<rect x="319.8" y="128.69" width="3.67" height="3.65" fill="#fda40a" opacity="0.6"/>
<rect x="345.63" y="61.46" width="2.26" height="2.9" fill="#fb980e" opacity="0.6"/>
<rect x="253.61" y="79.05" width="2.02" height="4.9" fill="#fda40a" opacity="0.6"/>
<rect x="237.82" y="99.32" width="4.15" height="1.63" fill="#fc9c0e" opacity="0.6"/>
<rect x="248.31" y="103.03" width="3.43" height="3.69" fill="#fc9c0e" opacity="0.6"/>
<rect x="320.99" y="73.96" width="2.37" height="2.86" fill="#fc9c0e" opacity="0.6"/>
<rect x="293.32" y="86.95" width="1.58" height="3.67" fill="#fea60a" opacity="0.6"/>
<rect x="295.85" y="87.79" width="3.67" height="4.37" fill="#fda40a" opacity="0.6"/>
<rect x="343.08" y="83.15" width="1.73" height="2.76" fill="#fc9c0e" opacity="0.6"/>
<rect x="244.75" y="87.31" width="3.29" height="1.64" fill="#fda40a" opacity="0.6"/>
<rect x="243.45" y="116.4" width="4.22" height="3.29" fill="#fb9a0c" opacity="0.6"/>
<rect x="335.08" y="132.51" width="3.78" height="4.24" fill="#fb9a0c" opacity="0.6"/>
<rect x="349.45" y="142.61" width="4.06" height="3.39" fill="#fda40a" opacity="0.6"/>
<rect x="250.21" y="131.59" width="2.51" height="4.34" fill="#fda40a" opacity="0.6"/>
<rect x="326.06" y="115.16" width="2.27" height="4.42" fill="#fb980e" opacity="0.6"/>
<rect x="335.65" y="59.04" width="4.64" height="2.46" fill="#fea60a" opacity="0.6"/>
<rect x="251.84" y="93.32" width="4.72" height="2.23" fill="#fc9c0e" opacity="0.6"/>
<rect x="316.45" y="66.89" width="2.8" height="2.2" fill="#fea60a" opacity="0.6"/>
<rect x="254.26" y="136.65" width="3.88" height="4.63" fill="#fda40a" opacity="0.6"/>
<rect x="340.56" y="69.58" width="4.19" height="1.67" fill="#fc9c0e" opacity="0.6"/>
<rect x="364.37" y="88.41" width="3.33" height="3.91" fill="#fb9a0c" opacity="0.6"/>
<rect x="266.68" y="96.66" width="4.5" height="4.08" fill="#fc9c0e" opacity="0.6"/>
<rect x="268.42" y="142.05" width="3.52" height="2.76" fill="#fb9a0c" opacity="0.6"/>
<rect x="292.7" y="60.84" width="4.1" height="1.67" fill="#fb980e" opacity="0.6"/>
<rect x="266.9" y="107" width="4.94" height="3.55" fill="#fc9c0e" opacity="0.6"/>
<rect x="332.48" y="117.76" width="2.28" height="2.52" fill="#fea60a" opacity="0.6"/>
<rect x="289.34" y="79.54" width="1.67" height="3.21" fill="#fb980e" opacity="0.6"/>
<rect x="321.55" y="45.42" width="1.51" height="2.74" fill="#fb9a0c" opacity="0.6"/>
<rect x="303.76" y="96.5" width="2.95" height="2.55" fill="#fda40a" opacity="0.6"/>
<rect x="260.13" y="105.47" width="3.16" height="1.97" fill="#fda40a" opacity="0.6"/>
<rect x="328.98" y="88.2" width="1.72" height="2.01" fill="#fc9c0e" opacity="0.6"/>
<rect x="287.19" y="69.57" width="1.54" height="3.76" fill="#fb980e" opacity="0.6"/>
<rect x="354.32" y="102.55" width="3.52" height="3.61" fill="#fb980e" opacity="0.6"/>
<rect x="332.55" y="68" width="4.66" height="1.65" fill="#fb980e" opacity="0.6"/>
<rect x="235.65" y="61.73" width="2.06" height="4.69" fill="#fb9a0c" opacity="0.6"/>
<rect x="233.89" y="98.18" width="4.79" height="2" fill="#fda40a" opacity="0.6"/>
<rect x="303.1" y="107.34" width="3.77" height="2.95" fill="#fb980e" opacity="0.6"/>
<rect x="256.09" y="74.08" width="2.55" height="1.67" fill="#fea60a" opacity="0.6"/>
<rect x="330.07" y="43.83" width="4.46" height="4.11" fill="#fea60a" opacity="0.6"/>
<rect x="243.21" y="108.62" width="2.11" height="4.99" fill="#fc9c0e" opacity="0.6"/>
<rect x="263.98" y="47.07" width="2.67" height="4.12" fill="#fc9c0e" opacity="0.6"/>
<rect x="329.56" y="69.75" width="3.44" height="3.03" fill="#fb980e" opacity="0.6"/>
<rect x="365.15" y="72.7" width="4.75" height="4.63" fill="#fb9a0c" opacity="0.6"/>
<rect x="352.59" y="44.72" width="2.41" height="2.33" fill="#fda40a" opacity="0.6"/>
<rect x="361.43" y="117.67" width="2.64" height="4.58" fill="#fc9c0e" opacity="0.6"/>
<rect x="314.45" y="81.07" width="4.48" height="4.73" fill="#fb980e" opacity="0.6"/>
<rect x="296.43" y="127" width="3.94" height="4.5" fill="#fea60a" opacity="0.6"/>
<rect x="362.94" y="66.54" width="4.6" height="4.26" fill="#fea60a" opacity="0.6"/>
<rect x="317.37" y="50.96" width="4.69" height="2.01" fill="#fb9a0c" opacity="0.6"/>
<rect x="247.51" y="105.27" width="2.07" height="4.92" fill="#fb9a0c" opacity="0.6"/>
<rect x="236.42" y="57.01" width="3.75" height="1.65" fill="#fb9a0c" opacity="0.6"/>
<rect x="332.99" y="49.76" width="3.57" height="2.77" fill="#fb980e" opacity="0.6"/>
<rect x="354.13" y="49.78" width="4.54" height="4.7" fill="#fea60a" opacity="0.6"/>
<rect x="246.85" y="63.73" width="1.89" height="1.62" fill="#fb9a0c" opacity="0.6"/>
<rect x="345.07" y="106.23" width="2.51" height="1.85" fill="#fb9a0c" opacity="0.6"/>
<rect x="340.54" y="107.7" width="2.53" height="2.68" fill="#fc9c0e" opacity="0.6"/>
<rect x="235.06" y="68.82" width="2.49" height="4.01" fill="#fc9c0e" opacity="0.6"/>
<rect x="356.73" y="119.97" width="3.61" height="3.17" fill="#fc9c0e" opacity="0.6"/>
<rect x="316.78" y="46.29" width="2.95" height="3.03" fill="#fb9a0c" opacity="0.6"/>
<rect x="279.64" y="113.53" width="3.38" height="2.26" fill="#fb9a0c" opacity="0.6"/>
<rect x="310.8" y="71.85" width="3.03" height="3.33" fill="#fc9c0e" opacity="0.6"/>
<rect x="336.47" y="140.79" width="1.52" height="3.22" fill="#fea60a" opacity="0.6"/>
<rect x="327.3" y="125.57" width="4.89" height="3.57" fill="#fb980e" opacity="0.6"/>
</g>
<g fill="#f07800">
<rect x="232.2" y="69.73" width="139.8" height="2.1" opacity="0.06"/>
<rect x="232.2" y="65.06" width="139.8" height="1.69" opacity="0.08"/>
<rect x="232.2" y="54.39" width="139.8" height="1.58" opacity="0.05"/>
<rect x="232.2" y="123.41" width="139.8" height="1.69" opacity="0.1"/>
<rect x="232.2" y="107.12" width="139.8" height="1.1" opacity="0.07"/>
<rect x="232.2" y="83.37" width="139.8" height="2.01" opacity="0.05"/>
<rect x="232.2" y="133.64" width="139.8" height="0.54" opacity="0.06"/>
<rect x="232.2" y="69.99" width="139.8" height="2.03" opacity="0.08"/>
<rect x="232.2" y="81.81" width="139.8" height="2" opacity="0.06"/>
<rect x="232.2" y="90.12" width="139.8" height="1.4" opacity="0.1"/>
<rect x="232.2" y="119.85" width="139.8" height="1.6" opacity="0.07"/>
<rect x="232.2" y="76.45" width="139.8" height="0.76" opacity="0.11"/>
<rect x="232.2" y="110.6" width="139.8" height="1.76" opacity="0.05"/>
<rect x="232.2" y="87.87" width="139.8" height="1.81" opacity="0.09"/>
<rect x="232.2" y="56.03" width="139.8" height="1.29" opacity="0.11"/>
<rect x="232.2" y="67.42" width="139.8" height="0.83" opacity="0.06"/>
<rect x="232.2" y="114.78" width="139.8" height="1.93" opacity="0.05"/>
<rect x="232.2" y="59.08" width="139.8" height="0.92" opacity="0.07"/>
<rect x="232.2" y="96.36" width="139.8" height="0.77" opacity="0.07"/>
<rect x="232.2" y="62.47" width="139.8" height="2.16" opacity="0.1"/>
<rect x="232.2" y="53.56" width="139.8" height="2.14" opacity="0.05"/>
<rect x="232.2" y="82.31" width="139.8" height="2.17" opacity="0.1"/>
<rect x="232.2" y="117.85" width="139.8" height="1.24" opacity="0.06"/>
<rect x="232.2" y="108.15" width="139.8" height="0.68" opacity="0.06"/>
<rect x="232.2" y="82.73" width="139.8" height="0.56" opacity="0.07"/>
<rect x="232.2" y="123.72" width="139.8" height="1.68" opacity="0.08"/>
<rect x="232.2" y="107.58" width="139.8" height="1.29" opacity="0.05"/>
<rect x="232.2" y="104.66" width="139.8" height="1.19" opacity="0.1"/>
<rect x="232.2" y="135.63" width="139.8" height="1.23" opacity="0.09"/>
<rect x="232.2" y="119.46" width="139.8" height="1.22" opacity="0.06"/>
<rect x="232.2" y="116.72" width="139.8" height="2" opacity="0.1"/>
<rect x="232.2" y="114.47" width="139.8" height="1.95" opacity="0.09"/>
<rect x="232.2" y="108.51" width="139.8" height="1.27" opacity="0.07"/>
<rect x="232.2" y="107.16" width="139.8" height="0.67" opacity="0.07"/>
<rect x="232.2" y="122.85" width="139.8" height="1.71" opacity="0.09"/>
<rect x="232.2" y="68.66" width="139.8" height="1.22" opacity="0.08"/>
<rect x="232.2" y="106.48" width="139.8" height="1.2" opacity="0.09"/>
<rect x="232.2" y="137.89" width="139.8" height="0.81" opacity="0.09"/>
<rect x="232.2" y="122.42" width="139.8" height="1.16" opacity="0.08"/>
<rect x="232.2" y="142.42" width="139.8" height="0.56" opacity="0.08"/>
<rect x="232.2" y="59.57" width="139.8" height="1.83" opacity="0.12"/>
<rect x="232.2" y="96.06" width="139.8" height="0.67" opacity="0.09"/>
<rect x="232.2" y="98.28" width="139.8" height="1.72" opacity="0.08"/>
<rect x="232.2" y="108.28" width="139.8" height="1.91" opacity="0.08"/>
<rect x="232.2" y="84.97" width="139.8" height="2.11" opacity="0.06"/>
<rect x="232.2" y="112.87" width="139.8" height="1.17" opacity="0.1"/>
<rect x="249.19" y="43.2" width="2.17" height="102.8" opacity="0.07"/>
<rect x="240.06" y="43.2" width="0.97" height="102.8" opacity="0.07"/>
<rect x="234.05" y="43.2" width="1.21" height="102.8" opacity="0.07"/>
<rect x="329.12" y="43.2" width="1.1" height="102.8" opacity="0.06"/>
<rect x="263.35" y="43.2" width="1.76" height="102.8" opacity="0.12"/>
<rect x="305.36" y="43.2" width="0.87" height="102.8" opacity="0.1"/>
<rect x="286.6" y="43.2" width="0.86" height="102.8" opacity="0.05"/>
<rect x="339.99" y="43.2" width="1.88" height="102.8" opacity="0.09"/>
<rect x="297.32" y="43.2" width="1.46" height="102.8" opacity="0.06"/>
<rect x="365.98" y="43.2" width="1.1" height="102.8" opacity="0.09"/>
<rect x="345.84" y="43.2" width="1.89" height="102.8" opacity="0.08"/>
<rect x="273.05" y="43.2" width="1.43" height="102.8" opacity="0.05"/>
<rect x="347.92" y="43.2" width="1.1" height="102.8" opacity="0.11"/>
<rect x="269.32" y="43.2" width="1.14" height="102.8" opacity="0.06"/>
<rect x="291.34" y="43.2" width="0.82" height="102.8" opacity="0.04"/>
<rect x="332.38" y="43.2" width="0.98" height="102.8" opacity="0.06"/>
<rect x="274.09" y="43.2" width="1.32" height="102.8" opacity="0.07"/>
<rect x="320.66" y="43.2" width="1.62" height="102.8" opacity="0.07"/>
<rect x="361.11" y="43.2" width="1.95" height="102.8" opacity="0.04"/>
<rect x="347.11" y="43.2" width="2.04" height="102.8" opacity="0.1"/>
<rect x="251.69" y="43.2" width="1.91" height="102.8" opacity="0.09"/>
<rect x="234.28" y="43.2" width="0.52" height="102.8" opacity="0.12"/>
<rect x="323.25" y="43.2" width="0.93" height="102.8" opacity="0.05"/>
<rect x="252.01" y="43.2" width="0.9" height="102.8" opacity="0.1"/>
<rect x="280.29" y="43.2" width="0.76" height="102.8" opacity="0.11"/>
<rect x="342.08" y="43.2" width="0.79" height="102.8" opacity="0.11"/>
<rect x="316.64" y="43.2" width="1.83" height="102.8" opacity="0.09"/>
<rect x="356.28" y="43.2" width="1.84" height="102.8" opacity="0.11"/>
<rect x="259.6" y="43.2" width="1.68" height="102.8" opacity="0.08"/>
<rect x="335.18" y="43.2" width="1.25" height="102.8" opacity="0.11"/>
<rect x="309.24" y="43.2" width="0.95" height="102.8" opacity="0.06"/>
<rect x="251.54" y="43.2" width="1.34" height="102.8" opacity="0.04"/>
<rect x="297.03" y="43.2" width="0.75" height="102.8" opacity="0.08"/>
<rect x="301.35" y="43.2" width="1.42" height="102.8" opacity="0.11"/>
<rect x="233.12" y="43.2" width="1.93" height="102.8" opacity="0.08"/>
<rect x="310.28" y="43.2" width="1.63" height="102.8" opacity="0.11"/>
<rect x="284.24" y="43.2" width="1.21" height="102.8" opacity="0.12"/>
<rect x="242.67" y="43.2" width="1.58" height="102.8" opacity="0.09"/>
<rect x="236.16" y="43.2" width="1.54" height="102.8" opacity="0.09"/>
<rect x="361.49" y="43.2" width="1.06" height="102.8" opacity="0.12"/>
<rect x="303.07" y="43.2" width="1.32" height="102.8" opacity="0.11"/>
<rect x="236.9" y="43.2" width="1.72" height="102.8" opacity="0.09"/>
<rect x="279.2" y="43.2" width="1.96" height="102.8" opacity="0.07"/>
<rect x="298.07" y="43.2" width="1.39" height="102.8" opacity="0.1"/>
<rect x="261.45" y="43.2" width="1.24" height="102.8" opacity="0.07"/>
<rect x="309.1" y="43.2" width="1.91" height="102.8" opacity="0.06"/>
<rect x="347.09" y="43.2" width="1.19" height="102.8" opacity="0.08"/>
<rect x="269.91" y="43.2" width="1.36" height="102.8" opacity="0.12"/>
<rect x="323.05" y="43.2" width="1.85" height="102.8" opacity="0.07"/>
<rect x="276.21" y="43.2" width="1.01" height="102.8" opacity="0.09"/>
<rect x="320.31" y="43.2" width="1.83" height="102.8" opacity="0.04"/>
<rect x="332.51" y="43.2" width="2.01" height="102.8" opacity="0.08"/>
<rect x="239.1" y="43.2" width="1.01" height="102.8" opacity="0.04"/>
<rect x="258.56" y="43.2" width="2.07" height="102.8" opacity="0.09"/>
<rect x="323.53" y="43.2" width="1.84" height="102.8" opacity="0.11"/>
<rect x="317.11" y="43.2" width="1.55" height="102.8" opacity="0.09"/>
<rect x="328.86" y="43.2" width="1.51" height="102.8" opacity="0.09"/>
<rect x="261.7" y="43.2" width="1.63" height="102.8" opacity="0.08"/>
<rect x="338.06" y="43.2" width="0.67" height="102.8" opacity="0.05"/>
<rect x="237.33" y="43.2" width="1.82" height="102.8" opacity="0.11"/>
</g>
<line x1="232.2" y1="146.0" x2="372.0" y2="43.2" stroke="#f0500a" stroke-width="0.6"/>
<circle cx="279.5" cy="111" r="1.6" fill="#f25a0a" opacity="0.7"/>
<circle cx="312.4" cy="87.7" r="1.6" fill="#f25a0a" opacity="0.7"/>
<circle cx="341.8" cy="65.8" r="1.5" fill="#f25a0a" opacity="0.7"/>
<circle cx="289" cy="103.8" r="1.2" fill="#f25a0a" opacity="0.7"/>
<circle cx="252" cy="131.5" r="1.0" fill="#f25a0a" opacity="0.7"/>
<rect x="232.8" y="148.2" width="139.2" height="1.9" fill="#585858"/>
<rect x="375" y="43.7" width="2.4" height="102.1" fill="#585858"/>
<path d="M233.5 33.74L234.3 33.74M233.5 33.74L233.5 41.7M233.9 33.74L233.9 41.7M234.3 33.74L234.3 41.7M234.72 33.94L234.72 41.7M235.23 34.14L235.79 34.14M235.23 34.14L235.23 41.7M235.79 34.14L235.79 41.7M236.25 34.14L236.25 41.7M235.51 33.94L236.25 33.94M235.51 33.94L235.51 34.14M236.25 33.94L236.25 34.14M234.72 33.74L235.88 33.74M234.72 33.74L234.72 33.94M235.88 33.74L235.88 33.94M233.9 33.54L235.3 33.54M233.9 33.54L233.9 33.74M235.3 33.54L235.3 33.74M236.64 34.08L236.64 41.7M237.04 33.47L237.45 33.47M237.04 33.47L237.04 41.7M237.45 33.47L237.45 41.7M236.64 33.27L237.24 33.27M236.64 33.27L236.64 34.08M237.24 33.27L237.24 33.47M237.86 33.69L237.86 41.7M238.33 33.69L238.87 33.69M238.33 33.69L238.33 41.7M238.87 33.69L238.87 41.7M237.86 33.49L238.6 33.49M237.86 33.49L237.86 33.69M238.6 33.49L238.6 33.69M236.94 31.77L238.23 31.77M236.94 31.77L236.94 33.27M238.23 31.77L238.23 33.49M234.6 31.57L237.59 31.57M234.6 31.57L234.6 33.54M237.59 31.57L237.59 31.77M239.34 33.73L239.72 33.73M239.34 33.73L239.34 41.7M239.72 33.73L239.72 41.7M240.14 33.73L240.14 41.7M239.53 33.53L240.14 33.53M239.53 33.53L239.53 33.73M240.14 33.53L240.14 33.73M240.61 33.93L240.61 41.7M239.83 32.7L240.61 32.7M239.83 32.7L239.83 33.53M240.61 32.7L240.61 33.93M241.16 32.04L241.16 41.7M241.59 32.73L241.59 41.7M241.16 30.6L241.59 30.6M241.16 30.6L241.16 32.04M241.59 30.6L241.59 32.73M240.22 29.36L241.38 29.36M240.22 29.36L240.22 32.7M241.38 29.36L241.38 30.6M236.09 28.01L240.8 28.01M236.09 28.01L236.09 31.57M240.8 28.01L240.8 29.36M241.92 33.27L241.92 41.7M242.35 33.27L242.35 41.7M241.92 33.07L242.35 33.07M241.92 33.07L241.92 33.27M242.35 33.07L242.35 33.27M242.8 33.07L243.24 33.07M242.8 33.07L242.8 41.7M243.24 33.07L243.24 41.7M242.14 32.87L243.02 32.87M242.14 32.87L242.14 33.07M243.02 32.87L243.02 33.07M243.7 33.72L244.68 33.72M243.7 33.72L243.7 41.7M244.19 33.72L244.19 41.7M244.68 33.72L244.68 41.7M245.17 32.05L245.17 41.7M245.61 32.05L245.99 32.05M245.61 32.05L245.61 41.7M245.99 32.05L245.99 41.7M245.17 31.85L245.8 31.85M245.17 31.85L245.17 32.05M245.8 31.85L245.8 32.05M244.19 31.65L245.49 31.65M244.19 31.65L244.19 33.72M245.49 31.65L245.49 31.85M246.46 34.13L246.46 41.7M246.93 34.13L247.31 34.13M246.93 34.13L246.93 41.7M247.31 34.13L247.31 41.7M246.46 33.93L247.12 33.93M246.46 33.93L246.46 34.13M247.12 33.93L247.12 34.13M244.84 31.45L246.79 31.45M244.84 31.45L244.84 31.65M246.79 31.45L246.79 33.93M242.58 29.09L245.81 29.09M242.58 29.09L242.58 32.87M245.81 29.09L245.81 31.45M238.45 25.7L244.19 25.7M238.45 25.7L238.45 28.01M244.19 25.7L244.19 29.09M247.7 33.81L248.5 33.81M247.7 33.81L247.7 41.7M248.1 33.81L248.1 41.7M248.5 33.81L248.5 41.7M248.96 33.65L248.96 41.7M248.1 29.95L248.96 29.95M248.1 29.95L248.1 33.81M248.96 29.95L248.96 33.65M249.48 33.54L250.48 33.54M249.48 33.54L249.48 41.7M249.98 33.54L249.98 41.7M250.48 33.54L250.48 41.7M251.03 30.82L251.03 41.7M249.98 30.62L251.03 30.62M249.98 30.62L249.98 33.54M251.03 30.62L251.03 30.82M248.53 26.99L250.51 26.99M248.53 26.99L248.53 29.95M250.51 26.99L250.51 30.62M251.56 34.16L251.56 41.7M251.91 34.16L251.91 41.7M251.56 33.96L251.91 33.96M251.56 33.96L251.56 34.16M251.91 33.96L251.91 34.16M252.3 34.16L252.3 41.7M252.68 34.16L252.68 41.7M252.3 33.96L252.68 33.96M252.3 33.96L252.3 34.16M252.68 33.96L252.68 34.16M251.73 33.76L252.49 33.76M251.73 33.76L251.73 33.96M252.49 33.76L252.49 33.96M253.02 33.76L253.02 41.7M252.11 33.56L253.02 33.56M252.11 33.56L252.11 33.76M253.02 33.56L253.02 33.76M253.46 33.76L253.46 41.7M253.91 33.76L253.91 41.7M253.46 33.56L253.91 33.56M253.46 33.56L253.46 33.76M253.91 33.56L253.91 33.76M252.57 33.36L253.69 33.36M252.57 33.36L252.57 33.56M253.69 33.36L253.69 33.56M254.5 33.22L254.5 41.7M255.09 34.04L256.15 34.04M255.09 34.04L255.09 41.7M255.62 34.04L255.62 41.7M256.15 34.04L256.15 41.7M254.5 33.02L255.62 33.02M254.5 33.02L254.5 33.22M255.62 33.02L255.62 34.04M256.64 33.62L257.55 33.62M256.64 33.62L256.64 41.7M257.09 33.62L257.09 41.7M257.55 33.62L257.55 41.7M257.95 33.62L258.3 33.62M257.95 33.62L257.95 41.7M258.3 33.62L258.3 41.7M257.09 33.42L258.12 33.42M257.09 33.42L257.09 33.62M258.12 33.42L258.12 33.62M258.56 34.19L258.56 41.7M258.93 34.19L258.93 41.7M258.56 33.99L258.93 33.99M258.56 33.99L258.56 34.19M258.93 33.99L258.93 34.19M259.35 33.99L259.35 41.7M258.74 33.79L259.35 33.79M258.74 33.79L258.74 33.99M259.35 33.79L259.35 33.99M257.61 33.22L259.05 33.22M257.61 33.22L257.61 33.42M259.05 33.22L259.05 33.79M259.78 33.62L259.78 41.7M260.29 33.89L261.19 33.89M260.29 33.89L260.29 41.7M260.74 33.89L260.74 41.7M261.19 33.89L261.19 41.7M259.78 33.42L260.74 33.42M259.78 33.42L259.78 33.62M260.74 33.42L260.74 33.89M261.67 33.82L261.67 41.7M262.12 33.82L262.12 41.7M261.67 33.62L262.12 33.62M261.67 33.62L261.67 33.82M262.12 33.62L262.12 33.82M262.49 33.62L262.49 41.7M261.89 33.42L262.49 33.42M261.89 33.42L261.89 33.62M262.49 33.42L262.49 33.62M260.26 33.22L262.19 33.22M260.26 33.22L260.26 33.42M262.19 33.22L262.19 33.42M258.33 33.02L261.22 33.02M258.33 33.02L258.33 33.22M261.22 33.02L261.22 33.22M255.06 32.82L259.78 32.82M255.06 32.82L255.06 33.02M259.78 32.82L259.78 33.02M253.13 30.49L257.42 30.49M253.13 30.49L253.13 33.36M257.42 30.49L257.42 32.82M262.96 34.02L262.96 41.7M263.5 34.02L264.54 34.02M263.5 34.02L263.5 41.7M264.02 34.02L264.02 41.7M264.54 34.02L264.54 41.7M262.96 33.82L264.02 33.82M262.96 33.82L262.96 34.02M264.02 33.82L264.02 34.02M265.04 34.1L265.04 41.7M265.49 32.64L266.3 32.64M265.49 32.64L265.49 41.7M265.89 32.64L265.89 41.7M266.3 32.64L266.3 41.7M265.04 32.27L265.89 32.27M265.04 32.27L265.04 34.1M265.89 32.27L265.89 32.64M263.49 30.35L265.47 30.35M263.49 30.35L263.49 33.82M265.47 30.35L265.47 32.27M255.27 28.25L264.48 28.25M255.27 28.25L255.27 30.49M264.48 28.25L264.48 30.35M249.52 25L259.87 25M249.52 25L249.52 26.99M259.87 25L259.87 28.25M241.32 22.4L254.7 22.4M241.32 22.4L241.32 25.7M254.7 22.4L254.7 25M266.79 33.8L266.79 41.7M267.3 33.8L267.3 41.7M266.79 33.6L267.3 33.6M266.79 33.6L266.79 33.8M267.3 33.6L267.3 33.8M267.71 33.6L268.49 33.6M267.71 33.6L267.71 41.7M268.1 33.6L268.1 41.7M268.49 33.6L268.49 41.7M267.05 33.4L268.1 33.4M267.05 33.4L267.05 33.6M268.1 33.4L268.1 33.6M268.8 33.6L268.8 41.7M269.22 33.6L269.22 41.7M268.8 33.4L269.22 33.4M268.8 33.4L268.8 33.6M269.22 33.4L269.22 33.6M267.57 33.2L269.01 33.2M267.57 33.2L267.57 33.4M269.01 33.2L269.01 33.4M269.77 33.2L270.26 33.2M269.77 33.2L269.77 41.7M270.26 33.2L270.26 41.7M268.29 33L270.01 33M268.29 33L268.29 33.2M270.01 33L270.01 33.2M248.01 16.3L269.15 16.3M248.01 16.3L248.01 22.4M269.15 16.3L269.15 33M270.74 29.58L271.72 29.58M270.74 29.58L270.74 41.7M271.23 29.58L271.23 41.7M271.72 29.58L271.72 41.7M272.24 33.69L272.24 41.7M272.79 33.21L272.79 41.7M273.27 33.21L274.06 33.21M273.27 33.21L273.27 41.7M273.67 33.21L273.67 41.7M274.06 33.21L274.06 41.7M272.79 33.01L273.67 33.01M272.79 33.01L272.79 33.21M273.67 33.01L273.67 33.21M272.24 29.81L273.23 29.81M272.24 29.81L272.24 33.69M273.23 29.81L273.23 33.01M271.23 25.67L272.73 25.67M271.23 25.67L271.23 29.58M272.73 25.67L272.73 29.81M274.48 33.42L275.37 33.42M274.48 33.42L274.48 41.7M274.92 33.42L274.92 41.7M275.37 33.42L275.37 41.7M275.83 34.07L275.83 41.7M274.92 33.22L275.83 33.22M274.92 33.22L274.92 33.42M275.83 33.22L275.83 34.07M276.19 33.1L276.19 41.7M276.57 33.08L276.57 41.7M276.19 32.88L276.57 32.88M276.19 32.88L276.19 33.1M276.57 32.88L276.57 33.08M277 32.88L277.36 32.88M277 32.88L277 41.7M277.36 32.88L277.36 41.7M276.38 32.68L277.18 32.68M276.38 32.68L276.38 32.88M277.18 32.68L277.18 32.88M277.87 33.34L277.87 41.7M278.45 33.34L279.39 33.34M278.45 33.34L278.45 41.7M278.92 33.34L278.92 41.7M279.39 33.34L279.39 41.7M277.87 33.14L278.92 33.14M277.87 33.14L277.87 33.34M278.92 33.14L278.92 33.34M279.77 33.96L279.77 41.7M280.13 34.08L280.13 41.7M279.77 33.76L280.13 33.76M279.77 33.76L279.77 33.96M280.13 33.76L280.13 34.08M280.51 33.54L280.51 41.7M280.96 33.54L280.96 41.7M280.51 33.34L280.96 33.34M280.51 33.34L280.51 33.54M280.96 33.34L280.96 33.54M279.95 33.14L280.73 33.14M279.95 33.14L279.95 33.76M280.73 33.14L280.73 33.34M278.4 32.94L280.34 32.94M278.4 32.94L278.4 33.14M280.34 32.94L280.34 33.14M276.78 31.47L279.37 31.47M276.78 31.47L276.78 32.68M279.37 31.47L279.37 32.94M275.38 31.15L278.07 31.15M275.38 31.15L275.38 33.22M278.07 31.15L278.07 31.47M281.47 33.45L281.47 41.7M281.96 32.26L281.96 41.7M281.47 30.7L281.96 30.7M281.47 30.7L281.47 33.45M281.96 30.7L281.96 32.26M282.5 33.03L282.5 41.7M282.89 33.03L282.89 41.7M282.5 32.83L282.89 32.83M282.5 32.83L282.5 33.03M282.89 32.83L282.89 33.03M281.72 29.49L282.7 29.49M281.72 29.49L281.72 30.7M282.7 29.49L282.7 32.83M276.73 27.17L282.21 27.17M276.73 27.17L276.73 31.15M282.21 27.17L282.21 29.49M271.98 23L279.47 23M271.98 23L271.98 25.67M279.47 23L279.47 27.17M283.3 33.63L283.3 41.7M283.82 33.96L284.71 33.96M283.82 33.96L283.82 41.7M284.26 33.96L284.26 41.7M284.71 33.96L284.71 41.7M283.3 33.43L284.26 33.43M283.3 33.43L283.3 33.63M284.26 33.43L284.26 33.96M285.2 32.64L285.2 41.7M283.78 31.56L285.2 31.56M283.78 31.56L283.78 33.43M285.2 31.56L285.2 32.64M285.64 31.95L285.64 41.7M286.04 33.08L286.51 33.08M286.04 33.08L286.04 41.7M286.51 33.08L286.51 41.7M285.64 31.75L286.27 31.75M285.64 31.75L285.64 31.95M286.27 31.75L286.27 33.08M286.99 31.75L287.49 31.75M286.99 31.75L286.99 41.7M287.49 31.75L287.49 41.7M285.96 31.55L287.24 31.55M285.96 31.55L285.96 31.75M287.24 31.55L287.24 31.75M284.49 30.29L286.6 30.29M284.49 30.29L284.49 31.56M286.6 30.29L286.6 31.55M287.9 33.42L287.9 41.7M288.26 33.42L288.26 41.7M287.9 33.22L288.26 33.22M287.9 33.22L287.9 33.42M288.26 33.22L288.26 33.42M288.67 33.22L288.67 41.7M288.08 33.02L288.67 33.02M288.08 33.02L288.08 33.22M288.67 33.02L288.67 33.22M289.09 32.9L289.55 32.9M289.09 32.9L289.09 41.7M289.55 32.9L289.55 41.7M288.37 30.68L289.32 30.68M288.37 30.68L288.37 33.02M289.32 30.68L289.32 32.9M290.09 33.97L290.09 41.7M290.49 33.97L290.49 41.7M290.09 33.77L290.49 33.77M290.09 33.77L290.09 33.97M290.49 33.77L290.49 33.97M290.77 33.77L290.77 41.7M290.29 31.47L290.77 31.47M290.29 31.47L290.29 33.77M290.77 31.47L290.77 33.77M291.18 34.07L292.1 34.07M291.18 34.07L291.18 41.7M291.64 34.07L291.64 41.7M292.1 34.07L292.1 41.7M290.53 31.27L291.64 31.27M290.53 31.27L290.53 31.47M291.64 31.27L291.64 34.07M288.85 29.07L291.08 29.07M288.85 29.07L288.85 30.68M291.08 29.07L291.08 31.27M285.55 27.5L289.96 27.5M285.55 27.5L285.55 30.29M289.96 27.5L289.96 29.07M292.56 28.58L293.48 28.58M292.56 28.58L292.56 41.7M293.02 28.58L293.02 41.7M293.48 28.58L293.48 41.7M293.84 33.13L293.84 41.7M294.22 33.13L294.22 41.7M293.84 32.93L294.22 32.93M293.84 32.93L293.84 33.13M294.22 32.93L294.22 33.13M294.61 32.2L294.61 41.7M294.03 31.63L294.61 31.63M294.03 31.63L294.03 32.93M294.61 31.63L294.61 32.2M294.91 34.19L294.91 41.7M294.32 31.43L294.91 31.43M294.32 31.43L294.32 31.63M294.91 31.43L294.91 34.19M293.02 27.32L294.62 27.32M293.02 27.32L293.02 28.58M294.62 27.32L294.62 31.43M287.75 24.82L293.82 24.82M287.75 24.82L287.75 27.5M293.82 24.82L293.82 27.32M295.27 33.01L296.04 33.01M295.27 33.01L295.27 41.7M295.65 33.01L295.65 41.7M296.04 33.01L296.04 41.7M296.44 33.65L297.28 33.65M296.44 33.65L296.44 41.7M296.86 33.65L296.86 41.7M297.28 33.65L297.28 41.7M295.65 32.05L296.86 32.05M295.65 32.05L295.65 33.01M296.86 32.05L296.86 33.65M297.67 34.11L298.03 34.11M297.67 34.11L297.67 41.7M298.03 34.11L298.03 41.7M296.26 31.69L297.85 31.69M296.26 31.69L296.26 32.05M297.85 31.69L297.85 34.11M298.44 33.88L298.44 41.7M298.93 33.88L299.44 33.88M298.93 33.88L298.93 41.7M299.44 33.88L299.44 41.7M298.44 33.68L299.18 33.68M298.44 33.68L298.44 33.88M299.18 33.68L299.18 33.88M300 33.68L300 41.7M298.81 33.48L300 33.48M298.81 33.48L298.81 33.68M300 33.48L300 33.68M300.64 32.9L300.64 41.7M301.18 33.1L302.01 33.1M301.18 33.1L301.18 41.7M301.6 33.1L301.6 41.7M302.01 33.1L302.01 41.7M302.43 33.1L303.28 33.1M302.43 33.1L302.43 41.7M302.85 33.1L302.85 41.7M303.28 33.1L303.28 41.7M301.6 32.9L302.85 32.9M301.6 32.9L301.6 33.1M302.85 32.9L302.85 33.1M300.64 32.7L302.22 32.7M300.64 32.7L300.64 32.9M302.22 32.7L302.22 32.9M303.59 33.1L303.59 41.7M303.95 33.1L303.95 41.7M303.59 32.9L303.95 32.9M303.59 32.9L303.59 33.1M303.95 32.9L303.95 33.1M304.4 33.5L304.4 41.7M304.76 33.5L304.76 41.7M304.4 33.3L304.76 33.3M304.4 33.3L304.4 33.5M304.76 33.3L304.76 33.5M305.14 34.37L305.14 41.7M305.48 34.37L305.48 41.7M305.14 34.17L305.48 34.17M305.14 34.17L305.14 34.37M305.48 34.17L305.48 34.37M304.58 33.1L305.31 33.1M304.58 33.1L304.58 33.3M305.31 33.1L305.31 34.17M305.84 33.3L305.84 41.7M306.3 33.3L306.3 41.7M305.84 33.1L306.3 33.1M305.84 33.1L305.84 33.3M306.3 33.1L306.3 33.3M304.94 32.9L306.07 32.9M304.94 32.9L304.94 33.1M306.07 32.9L306.07 33.1M303.77 32.7L305.51 32.7M303.77 32.7L303.77 32.9M305.51 32.7L305.51 32.9M301.43 32.5L304.64 32.5M301.43 32.5L301.43 32.7M304.64 32.5L304.64 32.7M299.41 30.64L303.04 30.64M299.41 30.64L299.41 33.48M303.04 30.64L303.04 32.5M297.05 28.71L301.22 28.71M297.05 28.71L297.05 31.69M301.22 28.71L301.22 30.64M306.78 34.25L307.21 34.25M306.78 34.25L306.78 41.7M307.21 34.25L307.21 41.7M307.66 34.25L309.08 34.25M307.66 34.25L307.66 41.7M308.13 34.25L308.13 41.7M308.61 34.25L308.61 41.7M309.08 34.25L309.08 41.7M307 34.05L308.37 34.05M307 34.05L307 34.25M308.37 34.05L308.37 34.25M309.52 34.25L309.91 34.25M309.52 34.25L309.52 41.7M309.91 34.25L309.91 41.7M310.28 34.25L310.28 41.7M309.72 34.05L310.28 34.05M309.72 34.05L309.72 34.25M310.28 34.05L310.28 34.25M307.68 33.85L310 33.85M307.68 33.85L307.68 34.05M310 33.85L310 34.05M310.72 32.23L311.27 32.23M310.72 32.23L310.72 41.7M311.27 32.23L311.27 41.7M311.8 32.23L312.33 32.23M311.8 32.23L311.8 41.7M312.33 32.23L312.33 41.7M310.99 32.03L312.06 32.03M310.99 32.03L310.99 32.23M312.06 32.03L312.06 32.23M312.73 32.23L312.73 41.7M313.18 32.43L313.18 41.7M313.58 32.43L313.58 41.7M313.18 32.23L313.58 32.23M313.18 32.23L313.18 32.43M313.58 32.23L313.58 32.43M312.73 32.03L313.38 32.03M312.73 32.03L312.73 32.23M313.38 32.03L313.38 32.23M311.53 31.83L313.06 31.83M311.53 31.83L311.53 32.03M313.06 31.83L313.06 32.03M313.91 34.06L314.86 34.06M313.91 34.06L313.91 41.7M314.39 34.06L314.39 41.7M314.86 34.06L314.86 41.7M315.28 34.26L315.28 41.7M315.7 34.26L316.19 34.26M315.7 34.26L315.7 41.7M316.19 34.26L316.19 41.7M315.28 34.06L315.94 34.06M315.28 34.06L315.28 34.26M315.94 34.06L315.94 34.26M314.39 33.86L315.61 33.86M314.39 33.86L314.39 34.06M315.61 33.86L315.61 34.06M312.29 31.63L315 31.63M312.29 31.63L312.29 31.83M315 31.63L315 33.86M308.84 30.29L313.65 30.29M308.84 30.29L308.84 33.85M313.65 30.29L313.65 31.63M316.65 32.7L317.5 32.7M316.65 32.7L316.65 41.7M317.08 32.7L317.08 41.7M317.5 32.7L317.5 41.7M317.93 32.67L318.76 32.67M317.93 32.67L317.93 41.7M318.34 32.67L318.34 41.7M318.76 32.67L318.76 41.7M317.08 32.47L318.34 32.47M317.08 32.47L317.08 32.7M318.34 32.47L318.34 32.67M319.23 34.17L319.23 41.7M319.75 33.43L319.75 41.7M320.17 33.43L320.17 41.7M319.75 33.23L320.17 33.23M319.75 33.23L319.75 33.43M320.17 33.23L320.17 33.43M319.23 33.03L319.96 33.03M319.23 33.03L319.23 34.17M319.96 33.03L319.96 33.23M320.49 34.34L320.49 41.7M320.83 34.34L321.24 34.34M320.83 34.34L320.83 41.7M321.24 34.34L321.24 41.7M320.49 34.14L321.04 34.14M320.49 34.14L320.49 34.34M321.04 34.14L321.04 34.34M321.66 34.14L322.57 34.14M321.66 34.14L321.66 41.7M322.12 34.14L322.12 41.7M322.57 34.14L322.57 41.7M320.76 33.94L322.12 33.94M320.76 33.94L320.76 34.14M322.12 33.94L322.12 34.14M323.03 34.14L323.99 34.14M323.03 34.14L323.03 41.7M323.51 34.14L323.51 41.7M323.99 34.14L323.99 41.7M324.4 34.34L324.4 41.7M324.82 34.34L324.82 41.7M324.4 34.14L324.82 34.14M324.4 34.14L324.4 34.34M324.82 34.14L324.82 34.34M323.51 33.94L324.61 33.94M323.51 33.94L323.51 34.14M324.61 33.94L324.61 34.14M321.44 33.74L324.06 33.74M321.44 33.74L321.44 33.94M324.06 33.74L324.06 33.94M319.6 30.6L322.75 30.6M319.6 30.6L319.6 33.03M322.75 30.6L322.75 33.74M317.71 30.4L321.17 30.4M317.71 30.4L317.71 32.47M321.17 30.4L321.17 30.6M311.24 27.94L319.44 27.94M311.24 27.94L311.24 30.29M319.44 27.94L319.44 30.4M299.14 25.56L315.34 25.56M299.14 25.56L299.14 28.71M315.34 25.56L315.34 27.94M325.29 31.12L325.74 31.12M325.29 31.12L325.29 41.7M325.74 31.12L325.74 41.7M326.26 34.32L326.26 41.7M326.84 34.32L326.84 41.7M326.26 34.12L326.84 34.12M326.26 34.12L326.26 34.32M326.84 34.12L326.84 34.32M327.26 33.38L327.26 41.7M327.63 33.38L327.63 41.7M327.26 33.18L327.63 33.18M327.26 33.18L327.26 33.38M327.63 33.18L327.63 33.38M328.06 33.18L328.84 33.18M328.06 33.18L328.06 41.7M328.45 33.18L328.45 41.7M328.84 33.18L328.84 41.7M327.45 32.98L328.45 32.98M327.45 32.98L327.45 33.18M328.45 32.98L328.45 33.18M326.55 31.12L327.95 31.12M326.55 31.12L326.55 34.12M327.95 31.12L327.95 32.98M325.52 30.92L327.25 30.92M325.52 30.92L325.52 31.12M327.25 30.92L327.25 31.12M329.24 34.18L330.1 34.18M329.24 34.18L329.24 41.7M329.67 34.18L329.67 41.7M330.1 34.18L330.1 41.7M330.51 33.54L331.29 33.54M330.51 33.54L330.51 41.7M330.9 33.54L330.9 41.7M331.29 33.54L331.29 41.7M331.74 33.54L331.74 41.7M330.9 33.34L331.74 33.34M330.9 33.34L330.9 33.54M331.74 33.34L331.74 33.54M329.67 31.77L331.32 31.77M329.67 31.77L329.67 34.18M331.32 31.77L331.32 33.34M326.38 28.97L330.49 28.97M326.38 28.97L326.38 30.92M330.49 28.97L330.49 31.77M332.2 29.98L333 29.98M332.2 29.98L332.2 41.7M332.6 29.98L332.6 41.7M333 29.98L333 41.7M333.4 31.07L333.8 31.07M333.4 31.07L333.4 41.7M333.8 31.07L333.8 41.7M332.6 27.75L333.6 27.75M332.6 27.75L332.6 29.98M333.6 27.75L333.6 31.07M328.44 26.45L333.1 26.45M328.44 26.45L328.44 28.97M333.1 26.45L333.1 27.75M307.24 23.5L330.77 23.5M307.24 23.5L307.24 25.56M330.77 23.5L330.77 26.45M290.79 21L319 21M290.79 21L290.79 24.82M319 21L319 23.5M275.72 16.6L304.89 16.6M275.72 16.6L275.72 23M304.89 16.6L304.89 21M334.2 32.93L335 32.93M334.2 32.93L334.2 41.7M334.6 32.93L334.6 41.7M335 32.93L335 41.7M335.45 31.43L335.45 41.7M334.6 31.23L335.45 31.23M334.6 31.23L334.6 32.93M335.45 31.23L335.45 31.43M335.94 32.98L336.91 32.98M335.94 32.98L335.94 41.7M336.42 32.98L336.42 41.7M336.91 32.98L336.91 41.7M337.32 33.75L337.32 41.7M337.66 33.75L338.01 33.75M337.66 33.75L337.66 41.7M338.01 33.75L338.01 41.7M337.32 33.55L337.83 33.55M337.32 33.55L337.32 33.75M337.83 33.55L337.83 33.75M338.41 33.75L338.41 41.7M338.83 33.75L338.83 41.7M338.41 33.55L338.83 33.55M338.41 33.55L338.41 33.75M338.83 33.55L338.83 33.75M337.58 33.35L338.62 33.35M337.58 33.35L337.58 33.55M338.62 33.35L338.62 33.55M339.17 33.55L339.17 41.7M339.53 33.55L339.94 33.55M339.53 33.55L339.53 41.7M339.94 33.55L339.94 41.7M339.17 33.35L339.74 33.35M339.17 33.35L339.17 33.55M339.74 33.35L339.74 33.55M338.1 33.15L339.45 33.15M338.1 33.15L338.1 33.35M339.45 33.15L339.45 33.35M336.42 32.78L338.78 32.78M336.42 32.78L336.42 32.98M338.78 32.78L338.78 33.15M335.02 28.71L337.6 28.71M335.02 28.71L335.02 31.23M337.6 28.71L337.6 32.78M340.33 32.56L340.7 32.56M340.33 32.56L340.33 41.7M340.7 32.56L340.7 41.7M341.02 32.25L341.02 41.7M340.51 30.96L341.02 30.96M340.51 30.96L340.51 32.56M341.02 30.96L341.02 32.25M341.43 34.2L341.43 41.7M341.85 34.4L341.85 41.7M342.22 34.4L342.22 41.7M341.85 34.2L342.22 34.2M341.85 34.2L341.85 34.4M342.22 34.2L342.22 34.4M341.43 34L342.04 34M341.43 34L341.43 34.2M342.04 34L342.04 34.2M340.77 30.76L341.73 30.76M340.77 30.76L340.77 30.96M341.73 30.76L341.73 34M342.6 33.43L342.6 41.7M343.01 33.8L343.53 33.8M343.01 33.8L343.01 41.7M343.53 33.8L343.53 41.7M342.6 32.11L343.27 32.11M342.6 32.11L342.6 33.43M343.27 32.11L343.27 33.8M341.25 28.71L342.93 28.71M341.25 28.71L341.25 30.76M342.93 28.71L342.93 32.11M343.99 33.68L344.79 33.68M343.99 33.68L343.99 41.7M344.39 33.68L344.39 41.7M344.79 33.68L344.79 41.7M345.19 32.72L345.98 32.72M345.19 32.72L345.19 41.7M345.58 32.72L345.58 41.7M345.98 32.72L345.98 41.7M346.36 34.01L346.71 34.01M346.36 34.01L346.36 41.7M346.71 34.01L346.71 41.7M345.58 30.76L346.53 30.76M345.58 30.76L345.58 32.72M346.53 30.76L346.53 34.01M344.39 30.56L346.06 30.56M344.39 30.56L344.39 33.68M346.06 30.56L346.06 30.76M347 34.38L347 41.7M347.33 34.38L347.75 34.38M347.33 34.38L347.33 41.7M347.75 34.38L347.75 41.7M347 34.18L347.54 34.18M347 34.18L347 34.38M347.54 34.18L347.54 34.38M348.23 34.38L348.79 34.38M348.23 34.38L348.23 41.7M348.79 34.38L348.79 41.7M349.25 34.38L349.59 34.38M349.25 34.38L349.25 41.7M349.59 34.38L349.59 41.7M348.51 34.18L349.42 34.18M348.51 34.18L348.51 34.38M349.42 34.18L349.42 34.38M347.27 33.98L348.97 33.98M347.27 33.98L347.27 34.18M348.97 33.98L348.97 34.18M349.95 33.32L349.95 41.7M350.32 33.32L350.32 41.7M349.95 33.12L350.32 33.12M349.95 33.12L349.95 33.32M350.32 33.12L350.32 33.32M350.76 33.18L350.76 41.7M350.14 32.92L350.76 32.92M350.14 32.92L350.14 33.12M350.76 32.92L350.76 33.18M348.12 30.45L350.45 30.45M348.12 30.45L348.12 33.98M350.45 30.45L350.45 32.92M345.22 29.24L349.28 29.24M345.22 29.24L345.22 30.56M349.28 29.24L349.28 30.45M342.09 27.13L347.25 27.13M342.09 27.13L342.09 28.71M347.25 27.13L347.25 29.24M336.31 25L344.67 25M336.31 25L336.31 28.71M344.67 25L344.67 27.13M351.2 33.37L351.61 33.37M351.2 33.37L351.2 41.7M351.61 33.37L351.61 41.7M352.07 32.59L353.08 32.59M352.07 32.59L352.07 41.7M352.58 32.59L352.58 41.7M353.08 32.59L353.08 41.7M351.41 31.99L352.58 31.99M351.41 31.99L351.41 33.37M352.58 31.99L352.58 32.59M353.66 33.4L353.66 41.7M351.99 31.79L353.66 31.79M351.99 31.79L351.99 31.99M353.66 31.79L353.66 33.4M354.27 34.38L354.83 34.38M354.27 34.38L354.27 41.7M354.83 34.38L354.83 41.7M355.32 34.38L357.02 34.38M355.32 34.38L355.32 41.7M355.74 34.38L355.74 41.7M356.17 34.38L356.17 41.7M356.59 34.38L356.59 41.7M357.02 34.38L357.02 41.7M354.55 34.18L356.17 34.18M354.55 34.18L354.55 34.38M356.17 34.18L356.17 34.38M357.41 33.66L357.41 41.7M357.79 33.66L357.79 41.7M357.41 33.46L357.79 33.46M357.41 33.46L357.41 33.66M357.79 33.46L357.79 33.66M358.19 33.46L358.19 41.7M357.6 33.26L358.19 33.26M357.6 33.26L357.6 33.46M358.19 33.26L358.19 33.46M358.63 33.26L359.13 33.26M358.63 33.26L358.63 41.7M359.13 33.26L359.13 41.7M357.89 33.06L358.88 33.06M357.89 33.06L357.89 33.26M358.88 33.06L358.88 33.26M355.36 32.27L358.39 32.27M355.36 32.27L355.36 34.18M358.39 32.27L358.39 33.06M352.83 28.95L356.87 28.95M352.83 28.95L352.83 31.79M356.87 28.95L356.87 32.27M359.61 32.78L360.08 32.78M359.61 32.78L359.61 41.7M360.08 32.78L360.08 41.7M360.56 31.88L361.52 31.88M360.56 31.88L360.56 41.7M361.04 31.88L361.04 41.7M361.52 31.88L361.52 41.7M359.85 30.17L361.04 30.17M359.85 30.17L359.85 32.78M361.04 30.17L361.04 31.88M362.03 33.52L362.03 41.7M362.38 33.92L362.38 41.7M362.78 33.92L362.78 41.7M362.38 33.72L362.78 33.72M362.38 33.72L362.38 33.92M362.78 33.72L362.78 33.92M363.3 33.72L363.71 33.72M363.3 33.72L363.3 41.7M363.71 33.72L363.71 41.7M362.58 33.52L363.51 33.52M362.58 33.52L362.58 33.72M363.51 33.52L363.51 33.72M362.03 33.32L363.05 33.32M362.03 33.32L362.03 33.52M363.05 33.32L363.05 33.52M364.19 31.48L364.19 41.7M362.54 29.87L364.19 29.87M362.54 29.87L362.54 33.32M364.19 29.87L364.19 31.48M360.44 28.64L363.37 28.64M360.44 28.64L360.44 30.17M363.37 28.64L363.37 29.87M354.85 25.33L361.91 25.33M354.85 25.33L354.85 28.95M361.91 25.33L361.91 28.64M364.73 30.96L365.24 30.96M364.73 30.96L364.73 41.7M365.24 30.96L365.24 41.7M365.65 32.71L365.65 41.7M366.01 31.64L366.01 41.7M365.65 30.96L366.01 30.96M365.65 30.96L365.65 32.71M366.01 30.96L366.01 31.64M364.99 30.76L365.83 30.76M364.99 30.76L364.99 30.96M365.83 30.76L365.83 30.96M366.5 33.82L366.5 41.7M366.95 34.02L367.33 34.02M366.95 34.02L366.95 41.7M367.33 34.02L367.33 41.7M367.65 34.02L367.65 41.7M367.14 33.82L367.65 33.82M367.14 33.82L367.14 34.02M367.65 33.82L367.65 34.02M366.5 33.62L367.4 33.62M366.5 33.62L366.5 33.82M367.4 33.62L367.4 33.82M367.98 33.76L367.98 41.7M368.43 33.88L368.9 33.88M368.43 33.88L368.43 41.7M368.9 33.88L368.9 41.7M367.98 33.56L368.66 33.56M367.98 33.56L367.98 33.76M368.66 33.56L368.66 33.88M366.95 31.31L368.32 31.31M366.95 31.31L366.95 33.62M368.32 31.31L368.32 33.56M365.41 29L367.64 29M365.41 29L365.41 30.76M367.64 29L367.64 31.31M369.41 31.82L369.94 31.82M369.41 31.82L369.41 41.7M369.94 31.82L369.94 41.7M370.42 30.31L370.42 41.7M369.68 28.26L370.42 28.26M369.68 28.26L369.68 31.82M370.42 28.26L370.42 30.31M370.83 32.46L370.83 41.7M371.26 32.76L371.26 41.7M370.83 30.24L371.26 30.24M370.83 30.24L370.83 32.46M371.26 30.24L371.26 32.76M370.05 27.06L371.05 27.06M370.05 27.06L370.05 28.26M371.05 27.06L371.05 30.24M366.52 25.28L370.55 25.28M366.52 25.28L366.52 29M370.55 25.28L370.55 27.06M358.38 24L368.54 24M358.38 24L358.38 25.33M368.54 24L368.54 25.28M340.49 19L363.46 19M340.49 19L340.49 25M363.46 19L363.46 24M290.31 12.7L351.97 12.7M290.31 12.7L290.31 16.6M351.97 12.7L351.97 19M258.58 2.2L321.14 2.2M258.58 2.2L258.58 16.3M321.14 2.2L321.14 12.7" stroke="#363636" stroke-width="0.4" fill="none"/>
<path d="M217.15 43.89L217.15 44.63M217.15 43.89L230 43.89M217.15 44.26L230 44.26M217.15 44.63L230 44.63M216.36 44.97L216.36 45.61M216.36 44.97L230 44.97M216.36 45.29L230 45.29M216.36 45.61L230 45.61M214.6 44.26L214.6 45.29M214.6 44.26L217.15 44.26M214.6 45.29L216.36 45.29M219.92 45.92L230 45.92M219.92 46.23L230 46.23M219.72 45.92L219.72 46.23M219.72 45.92L219.92 45.92M219.72 46.23L219.92 46.23M219.72 46.63L230 46.63M219.52 46.07L219.52 46.63M219.52 46.07L219.72 46.07M219.52 46.63L219.72 46.63M219.28 47.07L219.28 47.48M219.28 47.07L230 47.07M219.28 47.48L230 47.48M219.08 46.35L219.08 47.28M219.08 46.35L219.52 46.35M219.08 47.28L219.28 47.28M219.28 47.85L230 47.85M219.28 48.23L230 48.23M219.08 47.85L219.08 48.23M219.08 47.85L219.28 47.85M219.08 48.23L219.28 48.23M218.88 46.81L218.88 48.04M218.88 46.81L219.08 46.81M218.88 48.04L219.08 48.04M218.53 48.63L230 48.63M217.97 49L230 49M216.69 48.63L216.69 49M216.69 48.63L218.53 48.63M216.69 49L217.97 49M214.65 47.43L214.65 48.82M214.65 47.43L218.88 47.43M214.65 48.82L216.69 48.82M211.77 44.77L211.77 48.12M211.77 44.77L214.6 44.77M211.77 48.12L214.65 48.12M213.82 49.34L213.82 50M213.82 49.34L230 49.34M213.82 49.67L230 49.67M213.82 50L230 50M214.73 50.31L214.73 50.92M214.73 50.31L230 50.31M214.73 50.62L230 50.62M214.73 50.92L230 50.92M211.56 49.67L211.56 50.62M211.56 49.67L213.82 49.67M211.56 50.62L214.73 50.62M209.78 46.45L209.78 50.14M209.78 46.45L211.77 46.45M209.78 50.14L211.56 50.14M213.8 51.26L213.8 51.62M213.8 51.26L230 51.26M213.8 51.62L230 51.62M213.78 51.95L213.78 52.25M213.78 51.95L230 51.95M213.78 52.25L230 52.25M212.06 51.44L212.06 52.1M212.06 51.44L213.8 51.44M212.06 52.1L213.78 52.1M219.38 52.61L230 52.61M219.38 52.97L219.38 53.25M219.38 52.97L230 52.97M219.38 53.25L230 53.25M219.18 52.61L219.18 53.11M219.18 52.61L219.38 52.61M219.18 53.11L219.38 53.11M219.54 53.52L230 53.52M218.6 52.86L218.6 53.52M218.6 52.86L219.18 52.86M218.6 53.52L219.54 53.52M218.96 53.81L218.96 54.14M218.96 53.81L230 53.81M218.96 54.14L230 54.14M216.75 53.19L216.75 53.98M216.75 53.19L218.6 53.19M216.75 53.98L218.96 53.98M216.79 54.46L216.79 55.09M216.79 54.46L230 54.46M216.79 54.78L230 54.78M216.79 55.09L230 55.09M218.28 55.44L218.28 55.81M218.28 55.44L230 55.44M218.28 55.81L230 55.81M214.65 54.78L214.65 55.62M214.65 54.78L216.79 54.78M214.65 55.62L218.28 55.62M213.11 53.58L213.11 55.2M213.11 53.58L216.75 53.58M213.11 55.2L214.65 55.2M209.02 51.77L209.02 54.39M209.02 51.77L212.06 51.77M209.02 54.39L213.11 54.39M205.8 48.3L205.8 53.08M205.8 48.3L209.78 48.3M205.8 53.08L209.02 53.08M219.3 56.2L230 56.2M219.2 56.53L230 56.53M217.67 56.2L217.67 56.53M217.67 56.2L219.3 56.2M217.67 56.53L219.2 56.53M217.87 56.88L230 56.88M220.13 57.31L230 57.31M220.13 57.65L220.13 58.22M220.13 57.65L230 57.65M220.13 57.93L230 57.93M220.13 58.22L230 58.22M219.93 57.31L219.93 57.93M219.93 57.31L220.13 57.31M219.93 57.93L220.13 57.93M217.67 56.88L217.67 57.62M217.67 56.88L217.87 56.88M217.67 57.62L219.93 57.62M217.47 56.37L217.47 57.25M217.47 56.37L217.67 56.37M217.47 57.25L217.67 57.25M219.3 58.57L219.3 58.99M219.3 58.57L230 58.57M219.3 58.99L230 58.99M219.3 59.4L230 59.4M219.1 58.78L219.1 59.4M219.1 58.78L219.3 58.78M219.1 59.4L219.3 59.4M217.27 56.81L217.27 59.09M217.27 56.81L217.47 56.81M217.27 59.09L219.1 59.09M220.09 59.76L220.09 61.1M220.09 59.76L230 59.76M220.09 60.1L230 60.1M220.09 60.43L230 60.43M220.09 60.77L230 60.77M220.09 61.1L230 61.1M220.09 61.45L220.09 63.56M220.09 61.45L230 61.45M220.09 61.8L230 61.8M220.09 62.15L230 62.15M220.09 62.51L230 62.51M220.09 62.86L230 62.86M220.09 63.21L230 63.21M220.09 63.56L230 63.56M219.89 60.43L219.89 62.51M219.89 60.43L220.09 60.43M219.89 62.51L220.09 62.51M219.2 63.9L219.2 64.22M219.2 63.9L230 63.9M219.2 64.22L230 64.22M219.2 64.55L219.2 64.89M219.2 64.55L230 64.55M219.2 64.89L230 64.89M219 64.06L219 64.72M219 64.06L219.2 64.06M219 64.72L219.2 64.72M219.2 65.22L230 65.22M219.2 65.51L230 65.51M219 65.22L219 65.51M219 65.22L219.2 65.22M219 65.51L219.2 65.51M218.8 64.39L218.8 65.37M218.8 64.39L219 64.39M218.8 65.37L219 65.37M218.6 61.47L218.6 64.88M218.6 61.47L219.89 61.47M218.6 64.88L218.8 64.88M218.8 65.8L218.8 66.43M218.8 65.8L230 65.8M218.8 66.12L230 66.12M218.8 66.43L230 66.43M219.2 66.79L230 66.79M219.93 67.15L230 67.15M219.93 67.42L230 67.42M219.73 67.15L219.73 67.42M219.73 67.15L219.93 67.15M219.73 67.42L219.93 67.42M219.4 67.58L230 67.58M219.2 67.29L219.2 67.58M219.2 67.29L219.73 67.29M219.2 67.58L219.4 67.58M219 66.79L219 67.43M219 66.79L219.2 66.79M219 67.43L219.2 67.43M219 67.8L230 67.8M218.8 67.11L218.8 67.8M218.8 67.11L219 67.11M218.8 67.8L219 67.8M218.6 66.12L218.6 67.45M218.6 66.12L218.8 66.12M218.6 67.45L218.8 67.45M218.4 63.17L218.4 66.79M218.4 63.17L218.6 63.17M218.4 66.79L218.6 66.79M216.46 57.95L216.46 64.98M216.46 57.95L217.27 57.95M216.46 64.98L218.4 64.98M219.48 68.09L219.48 68.71M219.48 68.09L230 68.09M219.48 68.4L230 68.4M219.48 68.71L230 68.71M219.48 69.03L219.48 69.36M219.48 69.03L230 69.03M219.48 69.36L230 69.36M219.28 68.4L219.28 69.2M219.28 68.4L219.48 68.4M219.28 69.2L219.48 69.2M219.28 69.74L219.28 70.15M219.28 69.74L230 69.74M219.28 70.15L230 70.15M219.08 68.8L219.08 69.94M219.08 68.8L219.28 68.8M219.08 69.94L219.28 69.94M219.1 70.49L219.1 70.75M219.1 70.49L230 70.49M219.1 70.75L230 70.75M219.1 71.06L219.1 71.74M219.1 71.06L230 71.06M219.1 71.4L230 71.4M219.1 71.74L230 71.74M218.9 70.62L218.9 71.4M218.9 70.62L219.1 70.62M218.9 71.4L219.1 71.4M216.67 69.37L216.67 71.01M216.67 69.37L219.08 69.37M216.67 71.01L218.9 71.01M212.35 61.46L212.35 70.19M212.35 61.46L216.46 61.46M212.35 70.19L216.67 70.19M216.78 72.05L216.78 72.33M216.78 72.05L230 72.05M216.78 72.33L230 72.33M220 72.59L220 72.85M220 72.59L230 72.59M220 72.85L230 72.85M218.46 73.19L230 73.19M218.26 72.72L218.26 73.19M218.26 72.72L220 72.72M218.26 73.19L218.46 73.19M218.26 73.61L218.26 74.02M218.26 73.61L230 73.61M218.26 74.02L230 74.02M218.06 72.96L218.06 73.82M218.06 72.96L218.26 72.96M218.06 73.82L218.26 73.82M214.38 72.19L214.38 73.39M214.38 72.19L216.78 72.19M214.38 73.39L218.06 73.39M219.82 74.4L230 74.4M219.83 74.66L230 74.66M219.83 74.94L230 74.94M219.63 74.66L219.63 74.94M219.63 74.66L219.83 74.66M219.63 74.94L219.83 74.94M219.43 74.4L219.43 74.8M219.43 74.4L219.82 74.4M219.43 74.8L219.63 74.8M220.12 75.29L220.12 75.89M220.12 75.29L230 75.29M220.12 75.59L230 75.59M220.12 75.89L230 75.89M220.12 76.21L220.12 77.83M220.12 76.21L230 76.21M220.12 76.53L230 76.53M220.12 76.86L230 76.86M220.12 77.18L230 77.18M220.12 77.51L230 77.51M220.12 77.83L230 77.83M219.92 75.59L219.92 77.02M219.92 75.59L220.12 75.59M219.92 77.02L220.12 77.02M216.47 74.6L216.47 76.31M216.47 74.6L219.43 74.6M216.47 76.31L219.92 76.31M212.37 72.79L212.37 75.45M212.37 72.79L214.38 72.79M212.37 75.45L216.47 75.45M209.16 65.83L209.16 74.12M209.16 65.83L212.35 65.83M209.16 74.12L212.37 74.12M219.22 78.14L219.22 78.44M219.22 78.14L230 78.14M219.22 78.44L230 78.44M217.43 78.8L230 78.8M214.95 78.29L214.95 78.8M214.95 78.29L219.22 78.29M214.95 78.8L217.43 78.8M219.54 79.21L219.54 79.61M219.54 79.21L230 79.21M219.54 79.61L230 79.61M220.14 79.91L230 79.91M220.14 80.17L230 80.17M219.94 79.91L219.94 80.17M219.94 79.91L220.14 79.91M219.94 80.17L220.14 80.17M218.3 79.41L218.3 80.04M218.3 79.41L219.54 79.41M218.3 80.04L219.94 80.04M219.55 80.57L230 80.57M217.33 81.02L230 81.02M217.13 80.57L217.13 81.02M217.13 80.57L219.55 80.57M217.13 81.02L217.33 81.02M215.58 79.72L215.58 80.8M215.58 79.72L218.3 79.72M215.58 80.8L217.13 80.8M211.84 78.54L211.84 80.26M211.84 78.54L214.95 78.54M211.84 80.26L215.58 80.26M218.18 81.41L230 81.41M219.27 81.78L230 81.78M219.42 82.22L230 82.22M216.15 81.78L216.15 82.22M216.15 81.78L219.27 81.78M216.15 82.22L219.42 82.22M214.38 81.41L214.38 82M214.38 81.41L218.18 81.41M214.38 82L216.15 82M219.48 82.67L230 82.67M219.48 82.95L230 82.95M219.28 82.67L219.28 82.95M219.28 82.67L219.48 82.67M219.28 82.95L219.48 82.95M219.93 83.15L230 83.15M219.08 82.81L219.08 83.15M219.08 82.81L219.28 82.81M219.08 83.15L219.93 83.15M219.28 83.51L219.28 83.93M219.28 83.51L230 83.51M219.28 83.93L230 83.93M219.28 84.35L230 84.35M219.08 83.72L219.08 84.35M219.08 83.72L219.28 83.72M219.08 84.35L219.28 84.35M218.88 82.98L218.88 84.03M218.88 82.98L219.08 82.98M218.88 84.03L219.08 84.03M218.84 84.76L230 84.76M217.36 85.14L217.36 85.83M217.36 85.14L230 85.14M217.36 85.48L230 85.48M217.36 85.83L230 85.83M217.16 84.76L217.16 85.48M217.16 84.76L218.84 84.76M217.16 85.48L217.36 85.48M215.58 83.51L215.58 85.12M215.58 83.51L218.88 83.51M215.58 85.12L217.16 85.12M212.41 81.7L212.41 84.32M212.41 81.7L214.38 81.7M212.41 84.32L215.58 84.32M209.93 79.4L209.93 83.01M209.93 79.4L211.84 79.4M209.93 83.01L212.41 83.01M205.8 69.97L205.8 81.21M205.8 69.97L209.16 69.97M205.8 81.21L209.93 81.21M200 50.69L200 75.59M200 50.69L205.8 50.69M200 75.59L205.8 75.59M213.93 86.16L230 86.16M216.38 86.44L230 86.44M215.36 86.75L230 86.75M212.48 86.44L212.48 86.75M212.48 86.44L216.38 86.44M212.48 86.75L215.36 86.75M209.48 86.16L209.48 86.6M209.48 86.16L213.93 86.16M209.48 86.6L212.48 86.6M217.98 87.16L230 87.16M219.82 87.52L230 87.52M219.9 87.81L230 87.81M215.56 87.52L215.56 87.81M215.56 87.52L219.82 87.52M215.56 87.81L219.9 87.81M213.88 87.16L213.88 87.67M213.88 87.16L217.98 87.16M213.88 87.67L215.56 87.67M215.57 88.12L215.57 88.41M215.57 88.12L230 88.12M215.57 88.41L230 88.41M212.19 87.41L212.19 88.27M212.19 87.41L213.88 87.41M212.19 88.27L215.57 88.27M212.62 88.7L212.62 88.99M212.62 88.7L230 88.7M212.62 88.99L230 88.99M210.36 87.84L210.36 88.84M210.36 87.84L212.19 87.84M210.36 88.84L212.62 88.84M207.89 86.38L207.89 88.34M207.89 86.38L209.48 86.38M207.89 88.34L210.36 88.34M210.94 89.3L230 89.3M213.02 89.59L230 89.59M208.54 89.3L208.54 89.59M208.54 89.3L210.94 89.3M208.54 89.59L213.02 89.59M212.67 89.89L230 89.89M212.69 90.26L212.69 90.66M212.69 90.26L230 90.26M212.69 90.66L230 90.66M208.58 89.89L208.58 90.46M208.58 89.89L212.67 89.89M208.58 90.46L212.69 90.46M206.43 89.45L206.43 90.17M206.43 89.45L208.54 89.45M206.43 90.17L208.58 90.17M203.63 87.36L203.63 89.81M203.63 87.36L207.89 87.36M203.63 89.81L206.43 89.81M219.37 90.98L230 90.98M219.37 91.33L230 91.33M219.17 90.98L219.17 91.33M219.17 90.98L219.37 90.98M219.17 91.33L219.37 91.33M219.8 91.72L219.8 92.03M219.8 91.72L230 91.72M219.8 92.03L230 92.03M219.92 92.27L230 92.27M217.98 91.88L217.98 92.27M217.98 91.88L219.8 91.88M217.98 92.27L219.92 92.27M215.93 91.15L215.93 92.07M215.93 91.15L219.17 91.15M215.93 92.07L217.98 92.07M216.88 92.5L216.88 93.14M216.88 92.5L230 92.5M216.88 92.82L230 92.82M216.88 93.14L230 93.14M212.64 91.61L212.64 92.82M212.64 91.61L215.93 91.61M212.64 92.82L216.88 92.82M214.36 93.44L214.36 94.02M214.36 93.44L230 93.44M214.36 93.73L230 93.73M214.36 94.02L230 94.02M210.66 92.22L210.66 93.73M210.66 92.22L212.64 92.22M210.66 93.73L214.36 93.73M220.08 94.25L230 94.25M220.08 94.49L220.08 94.79M220.08 94.49L230 94.49M220.08 94.79L230 94.79M219.88 94.25L219.88 94.64M219.88 94.25L220.08 94.25M219.88 94.64L220.08 94.64M217.93 95.17L230 95.17M215.73 94.45L215.73 95.17M215.73 94.45L219.88 94.45M215.73 95.17L217.93 95.17M215.83 95.63L230 95.63M219.04 96L219.04 96.26M219.04 96L230 96M219.04 96.26L230 96.26M218.94 96.59L218.94 97M218.94 96.59L230 96.59M218.94 97L230 97M218.74 96.13L218.74 96.8M218.74 96.13L219.04 96.13M218.74 96.8L218.94 96.8M214.27 95.63L214.27 96.46M214.27 95.63L215.83 95.63M214.27 96.46L218.74 96.46M211.48 94.81L211.48 96.05M211.48 94.81L215.73 94.81M211.48 96.05L214.27 96.05M219.54 97.28L230 97.28M219.96 97.56L230 97.56M216.98 97.28L216.98 97.56M216.98 97.28L219.54 97.28M216.98 97.56L219.96 97.56M219.86 97.97L230 97.97M219.86 98.26L230 98.26M219.66 97.97L219.66 98.26M219.66 97.97L219.86 97.97M219.66 98.26L219.86 98.26M219.22 98.54L219.22 98.94M219.22 98.54L230 98.54M219.22 98.94L230 98.94M217.52 98.11L217.52 98.74M217.52 98.11L219.66 98.11M217.52 98.74L219.22 98.74M213.26 97.42L213.26 98.43M213.26 97.42L216.98 97.42M213.26 98.43L217.52 98.43M209.71 95.43L209.71 97.92M209.71 95.43L211.48 95.43M209.71 97.92L213.26 97.92M207.7 92.97L207.7 96.68M207.7 92.97L210.66 92.97M207.7 96.68L209.71 96.68M216.21 99.35L230 99.35M216.23 99.69L230 99.69M213.08 99.35L213.08 99.69M213.08 99.35L216.21 99.35M213.08 99.69L216.23 99.69M218.77 100L218.77 100.34M218.77 100L230 100M218.77 100.34L230 100.34M217.57 100.64L230 100.64M215.12 100.17L215.12 100.64M215.12 100.17L218.77 100.17M215.12 100.64L217.57 100.64M211.55 99.52L211.55 100.41M211.55 99.52L213.08 99.52M211.55 100.41L215.12 100.41M216.53 100.95L216.53 101.29M216.53 100.95L230 100.95M216.53 101.29L230 101.29M218.29 101.61L218.29 102.21M218.29 101.61L230 101.61M218.29 101.91L230 101.91M218.29 102.21L230 102.21M213.8 101.12L213.8 101.91M213.8 101.12L216.53 101.12M213.8 101.91L218.29 101.91M214.46 102.59L230 102.59M211.14 101.52L211.14 102.59M211.14 101.52L213.8 101.52M211.14 102.59L214.46 102.59M208.38 99.96L208.38 102.05M208.38 99.96L211.55 99.96M208.38 102.05L211.14 102.05M205.35 94.83L205.35 101.01M205.35 94.83L207.7 94.83M205.35 101.01L208.38 101.01M201.6 88.59L201.6 97.92M201.6 88.59L203.63 88.59M201.6 97.92L205.35 97.92M208.83 103L208.83 103.39M208.83 103L230 103M208.83 103.39L230 103.39M212.69 103.76L212.69 104.11M212.69 103.76L230 103.76M212.69 104.11L230 104.11M212.04 104.46L230 104.46M208.46 103.94L208.46 104.46M208.46 103.94L212.69 103.94M208.46 104.46L212.04 104.46M206.61 103.2L206.61 104.2M206.61 103.2L208.83 103.2M206.61 104.2L208.46 104.2M213.31 104.83L213.31 105.21M213.31 104.83L230 104.83M213.31 105.21L230 105.21M218.07 105.63L230 105.63M218.07 105.97L230 105.97M217.87 105.63L217.87 105.97M217.87 105.63L218.07 105.63M217.87 105.97L218.07 105.97M219.01 106.18L230 106.18M215.67 105.8L215.67 106.18M215.67 105.8L217.87 105.8M215.67 106.18L219.01 106.18M216.17 106.44L230 106.44M212.64 105.99L212.64 106.44M212.64 105.99L215.67 105.99M212.64 106.44L216.17 106.44M208.9 105.02L208.9 106.21M208.9 105.02L213.31 105.02M208.9 106.21L212.64 106.21M211.35 106.81L211.35 107.21M211.35 106.81L230 106.81M211.35 107.21L230 107.21M211.56 107.56L211.56 107.85M211.56 107.56L230 107.56M211.56 107.85L230 107.85M208.22 107.01L208.22 107.71M208.22 107.01L211.35 107.01M208.22 107.71L211.56 107.71M205.75 105.62L205.75 107.36M205.75 105.62L208.9 105.62M205.75 107.36L208.22 107.36M203.28 103.7L203.28 106.49M203.28 103.7L206.61 103.7M203.28 106.49L205.75 106.49M199 93.25L199 105.09M199 93.25L201.6 93.25M199 105.09L203.28 105.09M216.51 108.13L230 108.13M217.37 108.4L230 108.4M213.43 108.13L213.43 108.4M213.43 108.13L216.51 108.13M213.43 108.4L217.37 108.4M215.33 108.72L230 108.72M218.63 108.99L230 108.99M219.02 109.31L230 109.31M218.43 108.99L218.43 109.31M218.43 108.99L218.63 108.99M218.43 109.31L219.02 109.31M216.21 109.7L230 109.7M214.25 109.15L214.25 109.7M214.25 109.15L218.43 109.15M214.25 109.7L216.21 109.7M211.37 108.72L211.37 109.42M211.37 108.72L215.33 108.72M211.37 109.42L214.25 109.42M209.15 108.27L209.15 109.07M209.15 108.27L213.43 108.27M209.15 109.07L211.37 109.07M211.81 110.09L230 110.09M216.01 110.53L216.01 110.89M216.01 110.53L230 110.53M216.01 110.89L230 110.89M218.68 111.29L230 111.29M218.77 111.64L230 111.64M215.84 111.29L215.84 111.64M215.84 111.29L218.68 111.29M215.84 111.64L218.77 111.64M213.15 110.71L213.15 111.47M213.15 110.71L216.01 110.71M213.15 111.47L215.84 111.47M209.24 110.09L209.24 111.09M209.24 110.09L211.81 110.09M209.24 111.09L213.15 111.09M206.99 108.67L206.99 110.59M206.99 108.67L209.15 108.67M206.99 110.59L209.24 110.59M214.98 111.92L230 111.92M214.89 112.22L214.89 112.5M214.89 112.22L230 112.22M214.89 112.5L230 112.5M212.37 111.92L212.37 112.36M212.37 111.92L214.98 111.92M212.37 112.36L214.89 112.36M211.32 112.79L211.32 113.07M211.32 112.79L230 112.79M211.32 113.07L230 113.07M209.76 112.14L209.76 112.93M209.76 112.14L212.37 112.14M209.76 112.93L211.32 112.93M211.03 113.4L211.03 113.77M211.03 113.4L230 113.4M211.03 113.77L230 113.77M207.81 112.53L207.81 113.58M207.81 112.53L209.76 112.53M207.81 113.58L211.03 113.58M203.92 109.63L203.92 113.06M203.92 109.63L206.99 109.63M203.92 113.06L207.81 113.06M207.58 114.22L230 114.22M209.36 114.66L209.36 115.05M209.36 114.66L230 114.66M209.36 115.05L230 115.05M205.36 114.22L205.36 114.86M205.36 114.22L207.58 114.22M205.36 114.86L209.36 114.86M209.21 115.37L230 115.37M211.95 115.6L230 115.6M213.15 115.85L230 115.85M210.32 115.6L210.32 115.85M210.32 115.6L211.95 115.6M210.32 115.85L213.15 115.85M206.44 115.37L206.44 115.72M206.44 115.37L209.21 115.37M206.44 115.72L210.32 115.72M203.04 114.54L203.04 115.55M203.04 114.54L205.36 114.54M203.04 115.55L206.44 115.55M201 111.34L201 115.04M201 111.34L203.92 111.34M201 115.04L203.04 115.04M196.2 99.17L196.2 113.19M196.2 99.17L199 99.17M196.2 113.19L201 113.19M189.8 63.14L189.8 106.18M189.8 63.14L200 63.14M189.8 106.18L196.2 106.18M210.29 116.19L210.29 116.56M210.29 116.19L230 116.19M210.29 116.56L230 116.56M211.09 116.94L230 116.94M213.43 117.2L230 117.2M209.02 116.94L209.02 117.2M209.02 116.94L211.09 116.94M209.02 117.2L213.43 117.2M206.36 116.37L206.36 117.07M206.36 116.37L210.29 116.37M206.36 117.07L209.02 117.07M210.77 117.42L210.77 118.01M210.77 117.42L230 117.42M210.77 117.71L230 117.71M210.77 118.01L230 118.01M215.83 118.35L230 118.35M215.39 118.75L230 118.75M211.62 118.35L211.62 118.75M211.62 118.35L215.83 118.35M211.62 118.75L215.39 118.75M210.56 119.15L230 119.15M208.99 118.55L208.99 119.15M208.99 118.55L211.62 118.55M208.99 119.15L210.56 119.15M207.27 117.71L207.27 118.85M207.27 117.71L210.77 117.71M207.27 118.85L208.99 118.85M203.64 116.72L203.64 118.28M203.64 116.72L206.36 116.72M203.64 118.28L207.27 118.28M213.08 119.55L213.08 119.93M213.08 119.55L230 119.55M213.08 119.93L230 119.93M217.02 120.24L230 120.24M218.93 120.52L230 120.52M215.39 120.24L215.39 120.52M215.39 120.24L217.02 120.24M215.39 120.52L218.93 120.52M215.04 120.8L230 120.8M211.88 120.38L211.88 120.8M211.88 120.38L215.39 120.38M211.88 120.8L215.04 120.8M208.91 119.74L208.91 120.59M208.91 119.74L213.08 119.74M208.91 120.59L211.88 120.59M212.13 121.01L230 121.01M211.7 121.34L230 121.34M209.97 121.01L209.97 121.34M209.97 121.01L212.13 121.01M209.97 121.34L211.7 121.34M206.16 120.16L206.16 121.17M206.16 120.16L208.91 120.16M206.16 121.17L209.97 121.17M210.66 121.75L230 121.75M212.54 122.06L230 122.06M209 121.75L209 122.06M209 121.75L210.66 121.75M209 122.06L212.54 122.06M215.78 122.41L230 122.41M217.02 122.85L230 122.85M212.53 122.41L212.53 122.85M212.53 122.41L215.78 122.41M212.53 122.85L217.02 122.85M217.32 123.22L230 123.22M217.87 123.51L217.87 123.84M217.87 123.51L230 123.51M217.87 123.84L230 123.84M214.81 123.22L214.81 123.67M214.81 123.22L217.32 123.22M214.81 123.67L217.87 123.67M210.86 122.63L210.86 123.45M210.86 122.63L212.53 122.63M210.86 123.45L214.81 123.45M207.23 121.91L207.23 123.04M207.23 121.91L209 121.91M207.23 123.04L210.86 123.04M203.28 120.67L203.28 122.47M203.28 120.67L206.16 120.67M203.28 122.47L207.23 122.47M200 117.5L200 121.57M200 117.5L203.64 117.5M200 121.57L203.28 121.57M210.87 124.19L210.87 124.97M210.87 124.19L230 124.19M210.87 124.58L230 124.58M210.87 124.97L230 124.97M209.49 125.33L209.49 126.01M209.49 125.33L230 125.33M209.49 125.67L230 125.67M209.49 126.01L230 126.01M207.84 124.58L207.84 125.67M207.84 124.58L210.87 124.58M207.84 125.67L209.49 125.67M214.04 126.34L214.04 126.99M214.04 126.34L230 126.34M214.04 126.66L230 126.66M214.04 126.99L230 126.99M217.94 127.33L217.94 127.71M217.94 127.33L230 127.33M217.94 127.71L230 127.71M218.3 128.06L218.3 128.74M218.3 128.06L230 128.06M218.3 128.4L230 128.4M218.3 128.74L230 128.74M215.04 127.52L215.04 128.4M215.04 127.52L217.94 127.52M215.04 128.4L218.3 128.4M211.93 126.66L211.93 127.96M211.93 126.66L214.04 126.66M211.93 127.96L215.04 127.96M216.03 129.11L230 129.11M214.94 129.46L214.94 130.04M214.94 129.46L230 129.46M214.94 129.75L230 129.75M214.94 130.04L230 130.04M211.77 129.11L211.77 129.75M211.77 129.11L216.03 129.11M211.77 129.75L214.94 129.75M207.86 127.31L207.86 129.43M207.86 127.31L211.93 127.31M207.86 129.43L211.77 129.43M203.76 125.13L203.76 128.37M203.76 125.13L207.84 125.13M203.76 128.37L207.86 128.37M212.85 130.37L212.85 131.12M212.85 130.37L230 130.37M212.85 130.75L230 130.75M212.85 131.12L230 131.12M219.24 131.39L230 131.39M219.86 131.71L230 131.71M216.44 131.39L216.44 131.71M216.44 131.39L219.24 131.39M216.44 131.71L219.86 131.71M218.56 132.04L230 132.04M217.92 132.26L230 132.26M218.31 132.53L230 132.53M217.72 132.26L217.72 132.53M217.72 132.26L217.92 132.26M217.72 132.53L218.31 132.53M217.52 132.04L217.52 132.39M217.52 132.04L218.56 132.04M217.52 132.39L217.72 132.39M215.87 131.55L215.87 132.22M215.87 131.55L216.44 131.55M215.87 132.22L217.52 132.22M216.61 132.82L216.61 133.14M216.61 132.82L230 132.82M216.61 133.14L230 133.14M212.6 131.88L212.6 132.98M212.6 131.88L215.87 131.88M212.6 132.98L216.61 132.98M208.96 130.75L208.96 132.43M208.96 130.75L212.85 130.75M208.96 132.43L212.6 132.43M212.55 133.44L212.55 134.01M212.55 133.44L230 133.44M212.55 133.73L230 133.73M212.55 134.01L230 134.01M219.82 134.41L230 134.41M219.82 134.82L230 134.82M219.62 134.41L219.62 134.82M219.62 134.41L219.82 134.41M219.62 134.82L219.82 134.82M217.65 135.12L217.65 135.4M217.65 135.12L230 135.12M217.65 135.4L230 135.4M217.34 134.62L217.34 135.26M217.34 134.62L219.62 134.62M217.34 135.26L217.65 135.26M217.85 135.75L230 135.75M214.6 134.94L214.6 135.75M214.6 134.94L217.34 134.94M214.6 135.75L217.85 135.75M210.75 133.73L210.75 135.34M210.75 133.73L212.55 133.73M210.75 135.34L214.6 135.34M206.49 131.59L206.49 134.53M206.49 131.59L208.96 131.59M206.49 134.53L210.75 134.53M217.05 136.13L217.05 136.81M217.05 136.13L230 136.13M217.05 136.47L230 136.47M217.05 136.81L230 136.81M214.21 137.22L230 137.22M212.61 136.47L212.61 137.22M212.61 136.47L217.05 136.47M212.61 137.22L214.21 137.22M216.44 137.57L230 137.57M215.08 137.88L230 137.88M213.3 137.57L213.3 137.88M213.3 137.57L216.44 137.57M213.3 137.88L215.08 137.88M210.66 136.85L210.66 137.73M210.66 136.85L212.61 136.85M210.66 137.73L213.3 137.73M214.62 138.26L230 138.26M212.92 138.62L230 138.62M211.08 138.26L211.08 138.62M211.08 138.26L214.62 138.26M211.08 138.62L212.92 138.62M208.18 137.29L208.18 138.44M208.18 137.29L210.66 137.29M208.18 138.44L211.08 138.44M217.56 138.95L217.56 139.21M217.56 138.95L230 138.95M217.56 139.21L230 139.21M217.02 139.41L230 139.41M214.48 139.08L214.48 139.41M214.48 139.08L217.56 139.08M214.48 139.41L217.02 139.41M218.25 139.64L218.25 140.24M218.25 139.64L230 139.64M218.25 139.94L230 139.94M218.25 140.24L230 140.24M219.29 140.64L230 140.64M218.83 141.09L230 141.09M216.91 140.64L216.91 141.09M216.91 140.64L219.29 140.64M216.91 141.09L218.83 141.09M213.96 139.94L213.96 140.87M213.96 139.94L218.25 139.94M213.96 140.87L216.91 140.87M210.21 139.25L210.21 140.4M210.21 139.25L214.48 139.25M210.21 140.4L213.96 140.4M206.22 137.86L206.22 139.82M206.22 137.86L208.18 137.86M206.22 139.82L210.21 139.82M203.77 133.06L203.77 138.84M203.77 133.06L206.49 133.06M203.77 138.84L206.22 138.84M201.32 126.75L201.32 135.95M201.32 126.75L203.76 126.75M201.32 135.95L203.77 135.95M209.62 141.48L209.62 142.22M209.62 141.48L230 141.48M209.62 141.85L230 141.85M209.62 142.22L230 142.22M217.15 142.56L230 142.56M217.5 142.88L217.5 143.56M217.5 142.88L230 142.88M217.5 143.22L230 143.22M217.5 143.56L230 143.56M214.65 142.56L214.65 143.22M214.65 142.56L217.15 142.56M214.65 143.22L217.5 143.22M214.91 143.93L230 143.93M211.18 142.89L211.18 143.93M211.18 142.89L214.65 142.89M211.18 143.93L214.91 143.93M210.68 144.37L230 144.37M208.65 143.41L208.65 144.37M208.65 143.41L211.18 143.41M208.65 144.37L210.68 144.37M205.35 141.85L205.35 143.89M205.35 141.85L209.62 141.85M205.35 143.89L208.65 143.89M206.88 144.83L230 144.83M208.35 145.25L208.35 145.62M208.35 145.25L230 145.25M208.35 145.62L230 145.62M205.18 144.83L205.18 145.43M205.18 144.83L206.88 144.83M205.18 145.43L208.35 145.43M201.31 142.87L201.31 145.13M201.31 142.87L205.35 142.87M201.31 145.13L205.18 145.13M199 131.35L199 144M199 131.35L201.32 131.35M199 144L201.31 144M196.2 119.54L196.2 137.68M196.2 119.54L200 119.54M196.2 137.68L199 137.68M178 84.66L178 128.61M178 84.66L189.8 84.66M178 128.61L196.2 128.61" stroke="#363636" stroke-width="0.4" fill="none"/>
<path d="M203.3 160.4V290.2H369.3" fill="none" stroke="#d4d4d4" stroke-width="0.8"/>
<path d="M203.3 160.4H369.3V290.2" fill="none" stroke="#6a6a6a" stroke-width="0.75"/>
<text x="198.6" y="293.2" font-size="6.5" font-weight="bold" letter-spacing="0.1" fill="#3a3a3a" text-anchor="end">0.00</text>
<text x="198.6" y="277" font-size="6.5" font-weight="bold" letter-spacing="0.1" fill="#3a3a3a" text-anchor="end">0.05</text>
<text x="198.6" y="260.8" font-size="6.5" font-weight="bold" letter-spacing="0.1" fill="#3a3a3a" text-anchor="end">0.10</text>
<text x="198.6" y="244.6" font-size="6.5" font-weight="bold" letter-spacing="0.1" fill="#3a3a3a" text-anchor="end">0.15</text>
<text x="198.6" y="228.4" font-size="6.5" font-weight="bold" letter-spacing="0.1" fill="#3a3a3a" text-anchor="end">0.20</text>
<text x="198.6" y="212.2" font-size="6.5" font-weight="bold" letter-spacing="0.1" fill="#3a3a3a" text-anchor="end">0.25</text>
<text x="198.6" y="196" font-size="6.5" font-weight="bold" letter-spacing="0.1" fill="#3a3a3a" text-anchor="end">0.30</text>
<text x="198.6" y="179.8" font-size="6.5" font-weight="bold" letter-spacing="0.1" fill="#3a3a3a" text-anchor="end">0.35</text>
<text x="198.6" y="163.6" font-size="6.5" font-weight="bold" letter-spacing="0.1" fill="#3a3a3a" text-anchor="end">0.40</text>
<text x="203.4" y="302.1" font-size="6.5" font-weight="bold" letter-spacing="0.05" fill="#3a3a3a" text-anchor="middle">0</text>
<text x="236.6" y="302.1" font-size="6.5" font-weight="bold" letter-spacing="0.05" fill="#3a3a3a" text-anchor="middle">1000</text>
<text x="269.8" y="302.1" font-size="6.5" font-weight="bold" letter-spacing="0.05" fill="#3a3a3a" text-anchor="middle">2000</text>
<text x="303" y="302.1" font-size="6.5" font-weight="bold" letter-spacing="0.05" fill="#3a3a3a" text-anchor="middle">3000</text>
<text x="336.2" y="302.1" font-size="6.5" font-weight="bold" letter-spacing="0.05" fill="#3a3a3a" text-anchor="middle">4000</text>
<text x="369.4" y="302.1" font-size="6.5" font-weight="bold" letter-spacing="0.05" fill="#3a3a3a" text-anchor="middle">5000</text>
<text x="284.1" y="308.3" font-size="6.6" fill="#3a3a3a" text-anchor="middle" font-weight="bold" letter-spacing="0.2">distance in kbp</text>
<text x="0" y="0" transform="translate(183.3 225.5) rotate(-90)" font-size="7.4" fill="#3a3a3a" text-anchor="middle" font-weight="bold">R<tspan font-size="4.4" dy="-2.6">2</tspan></text>
<polyline points="204.3,166.98 206.62,238.26 219.9,254.46 236.5,260.94 253.1,270.01 269.7,271.63 286.3,272.6 302.9,272.6 319.5,272.93 336.1,273.74 352.7,274.71 369.3,279.89" fill="none" stroke="#3a3a3a" stroke-width="0.7"/>
<circle cx="204.3" cy="166.98" r="1.05" fill="#333"/>
<circle cx="206.62" cy="238.26" r="1.05" fill="#333"/>
<circle cx="219.9" cy="254.46" r="1.05" fill="#333"/>
<circle cx="236.5" cy="260.94" r="1.05" fill="#333"/>
<circle cx="253.1" cy="270.01" r="1.05" fill="#333"/>
<circle cx="269.7" cy="271.63" r="1.05" fill="#333"/>
<circle cx="286.3" cy="272.6" r="1.05" fill="#333"/>
<circle cx="302.9" cy="272.6" r="1.05" fill="#333"/>
<circle cx="319.5" cy="272.93" r="1.05" fill="#333"/>
<circle cx="336.1" cy="273.74" r="1.05" fill="#333"/>
<circle cx="352.7" cy="274.71" r="1.05" fill="#333"/>
<circle cx="369.3" cy="279.89" r="1.05" fill="#333"/>
<path d="M533.89 75.14L533.52 22M535.47 72.07L536.16 22.01M537.08 71.77L538.81 22.08M538.69 71.66L541.46 22.2M540.18 73.28L544.1 22.37M540.27 88.56L546.73 22.6M542.57 79.91L549.37 22.89M544.77 74.64L551.99 23.23M545.74 78.37L554.61 23.63M547.05 79.48L557.22 24.08M547.73 83.44L559.82 24.58M549.97 79.85L562.4 25.14M549.72 86.95L564.98 25.75M552.96 80.09L567.54 26.42M553.19 84.54L570.09 27.14M554.48 85.11L572.62 27.92M556.87 82.4L575.13 28.74M556.94 86.48L577.63 29.62M559.2 84.46L580.11 30.55M560.69 84.61L582.57 31.54M559.96 89.89L585 32.57M562.64 87.28L587.42 33.66M563.47 88.79L589.81 34.79M564.81 89.23L592.18 35.98M564.41 92.89L594.52 37.21M566.41 92.04L596.83 38.5M565.84 95.65L599.12 39.83M570.54 90.57L601.38 41.21M566.05 100.04L603.61 42.63M571.54 94.16L605.81 44.11M572.59 95.06L607.98 45.62M569.44 101.57L610.12 47.19M570.33 102.41L612.22 48.8M574.44 99.3L614.29 50.45M576.73 98.66L616.32 52.14M576.34 101.16L618.32 53.88M580.67 98.43L620.28 55.66M576.41 104.9L622.2 57.48M579.93 103.19L624.09 59.33M585.7 99.55L625.94 61.23M584.93 102.26L627.74 63.17M590.71 99.1L629.51 65.14M588.66 102.87L631.23 67.15M592.79 101.45L632.91 69.2M565.69 124.31L634.55 71.28M596.23 102.81L636.14 73.39M598.68 103.05L637.69 75.54M600.04 104.12L639.19 77.72M600.95 105.51L640.65 79.93M602.63 106.43L642.06 82.17M602.95 108.18L643.42 84.44M605.91 108.43L644.74 86.73M605.33 110.68L646 89.06M609.87 110.28L647.22 91.41M551.82 140.05L648.39 93.78M598.13 119.49L649.51 96.18M605.16 118.07L650.58 98.61M609.27 118.15L651.6 101.05M604.34 121.83L652.56 103.51M604.45 123.46L653.48 106M601.45 126.1L654.34 108.5M606.44 126.1L655.15 111.02M607.35 127.48L655.9 113.56M605.84 129.53L656.61 116.11M602.91 131.83L657.26 118.68M605.39 132.79L657.85 121.26M603.96 134.63L658.39 123.85M601.37 136.59L658.88 126.45M601.8 137.97L659.31 129.06M602.47 139.32L659.69 131.68M598.04 141.26L660.01 134.31M602.84 142.17L660.28 136.94M601.81 143.69L660.49 139.58M593.81 145.49L660.65 142.23M594.9 146.71L660.75 144.87M598.21 147.95L660.8 147.52M595.76 149.26L660.79 150.16M593.62 150.47L660.72 152.81M601.27 152.14L660.6 155.46M561.44 150.48L660.43 158.1M603.3 155.16L660.2 160.73M607.17 157.08L659.91 163.37M606.49 158.53L659.57 165.99M602.88 159.49L659.17 168.61M609.22 162.13L658.72 171.22M600.72 162.01L658.22 173.82M606.65 164.81L657.66 176.4M604.59 165.9L657.05 178.98M604.69 167.5L656.38 181.54M599.46 167.55L655.66 184.09M593.35 167.1L654.88 186.62M595.91 169.34L654.06 189.13M570.25 161.45L653.18 191.63M581.11 166.52L652.25 194.11M596.35 173.94L651.26 196.57M600.17 177.13L650.23 199M595.44 176.61L649.14 201.42M599.45 180.13L648.01 203.81M593.03 178.53L646.82 206.18M590.91 178.95L645.59 208.52M591.79 181L644.3 210.83M597.12 185.79L642.97 213.12M594.82 186.15L641.59 215.38M594.52 187.74L640.17 217.61M593.22 188.68L638.69 219.81M592.7 190.14L637.18 221.98M553.61 162.77L635.61 224.12M572.28 177.99L634 226.22M563.82 172.39L632.35 228.29M584.29 190.86L630.66 230.32M587.3 195.36L628.92 232.32M587.01 197.12L627.14 234.28M584.28 196.56L625.32 236.2M582.7 197.04L623.47 238.09M577.36 193.51L621.57 239.94M575.51 193.42L619.63 241.74M574.93 194.7L617.66 243.51M576.23 198.25L615.65 245.23M578.3 203L613.6 246.91M579.02 206.35L611.52 248.55M575.71 204.44L609.41 250.14M574.7 205.53L607.26 251.69M577.48 212.27L605.08 253.19M577.66 215.53L602.87 254.65M574.51 213.61L600.63 256.06M574.26 216.33L598.36 257.42M571.06 214L596.07 258.74M569.69 214.77L593.74 260M568.14 215.19L591.39 261.22M553.74 188.77L589.02 262.39M550.25 183.34L586.62 263.51M562.84 214.76L584.19 264.58M560.02 211.8L581.75 265.6M557.73 209.82L579.29 266.56M557.33 212.8L576.8 267.48M555.75 212.59L574.3 268.34M553.03 208.57L571.78 269.15M549.76 201.97L569.24 269.9M543.98 184.66L566.69 270.61M548.62 207.18L564.12 271.26M547.72 209L561.54 271.85M545.86 206.27L558.95 272.39M544.94 208.18L556.35 272.88M543.77 208.95L553.74 273.31M541.67 202.86L551.12 273.69M540.4 201.93L548.49 274.01M538.86 197.45L545.86 274.28M538.33 204.57L543.22 274.49M536.81 197.72L540.57 274.65M535.85 200.2L537.93 274.75M534.8 205.83L535.28 274.8M533.58 207.29L532.64 274.79M532.21 211.23L529.99 274.72M531.17 206.23L527.34 274.6M529.08 217.49L524.7 274.43M527.61 217.67L522.07 274.2M526.69 213.02L519.43 273.91M524.3 220.3L516.81 273.57M523.01 218.71L514.19 273.17M521.49 218.74L511.58 272.72M520.48 216.21L508.98 272.22M519.57 213.68L506.4 271.66M517.73 215.25L503.82 271.05M516.07 215.87L501.26 270.38M515.64 212.13L498.71 269.66M513.54 214.14L496.18 268.88M513.91 208.6L493.67 268.06M512.16 209.51L491.17 267.18M511.16 208.32L488.69 266.25M510.1 207.35L486.23 265.26M507.04 211.03L483.8 264.23M506.49 208.8L481.38 263.14M507.16 204.25L478.99 262.01M505.51 204.61L476.62 260.82M501.12 209.96L474.28 259.59M502.67 204.26L471.97 258.3M500.22 205.74L469.68 256.97M500.3 202.98L467.42 255.59M496.49 206.33L465.19 254.17M494.77 206.28L462.99 252.69M495.9 202.18L460.82 251.18M493.57 202.98L458.68 249.61M496.7 196.66L456.58 248M493.72 198.27L454.51 246.35M490.58 199.88L452.48 244.66M486.32 202.56L450.48 242.92M485.8 200.89L448.52 241.14M511.68 171.92L446.6 239.32M485.92 196.54L444.71 237.47M513.52 168.28L442.86 235.57M489.86 189.07L441.06 233.63M486.96 189.93L439.29 231.66M480.47 193.66L437.57 229.65M484.28 188.7L435.89 227.6M477.94 191.88L434.25 225.52M477.38 190.44L432.66 223.41M485.81 182.68L431.11 221.26M472.53 190.13L429.61 219.08M474.91 186.74L428.15 216.87M466.5 190.17L426.74 214.63M463.41 190.05L425.38 212.36M459.71 190.14L424.06 210.07M459.66 188.14L422.8 207.74M451.23 190.41L421.58 205.39M459.12 184.47L420.41 203.02M449.54 186.89L419.29 200.62M450.44 184.38L418.22 198.19M448.9 182.94L417.2 195.75M451.31 179.96L416.24 193.29M450.57 178.25L415.32 190.8M445.3 178.04L414.46 188.3M445.52 175.91L413.65 185.78M448.99 172.89L412.9 183.24M444.05 172.27L412.19 180.69M441.31 170.92L411.54 178.12M447.36 167.54L410.95 175.54M445.27 166.05L410.41 172.95M442.47 164.61L409.92 170.35M439.24 163.13L409.49 167.74M439.15 161.11L409.11 165.12M443.78 158.56L408.79 162.49M437.06 157.26L408.52 159.86M444.22 154.71L408.31 157.22M437.99 153.12L408.15 154.57M435.91 151.15L408.05 151.93M436.75 149.08L408 149.28M442.57 147.12L408.01 146.64M439.48 145.09L408.08 143.99M440.8 143.17L408.2 141.34M436.72 140.88L408.37 138.7M437.79 138.93L408.6 136.07M439.99 137.14L408.89 133.43M443.46 135.62L409.23 130.81M440.36 133.17L409.63 128.19M441.98 131.44L410.08 125.58M445.28 130.11L410.58 122.98M442.26 127.47L411.14 120.4M440.3 124.94L411.75 117.82M445.55 124.26L412.42 115.26M443.03 121.51L413.14 112.71M444.13 119.77L413.92 110.18M444.76 117.89L414.74 107.67M449.76 117.59L415.62 105.17M454.37 117.36L416.55 102.69M449.93 113.58L417.54 100.23M451.93 112.37L418.57 97.8M452.81 110.7L419.66 95.38M453.12 108.76L420.79 92.99M460.23 110.28L421.98 90.62M488.23 123.44L423.21 88.28M459.56 105.89L424.5 85.97M458.88 103.38L425.83 83.68M458.96 101.26L427.21 81.42M463.84 102.23L428.63 79.19M460.3 97.66L430.11 76.99M460.49 95.49L431.62 74.82M462.36 94.5L433.19 72.68M466.59 95.42L434.8 70.58M465.64 92.32L436.45 68.51M472.99 96.14L438.14 66.48M496.58 114.82L439.88 64.48M471.87 90.5L441.66 62.52M473.98 90.06L443.48 60.6M478.5 92.11L445.33 58.71M474.67 85.68L447.23 56.86M480.4 89.26L449.17 55.06M479.34 85.5L451.14 53.29M484.57 89.02L453.15 51.57M483.82 85.49L455.2 49.89M491.15 92.24L457.28 48.25M487.82 85.23L459.39 46.66M486.63 80.68L461.54 45.11M490.17 82.83L463.72 43.61M487.76 76.03L465.93 42.15M490.33 76.76L468.17 40.74M493.19 78.16L470.44 39.38M497 81.48L472.73 38.06M496.25 76.64L475.06 36.8M498.3 76.93L477.41 35.58M497.74 71.88L479.78 34.41M501.08 74.94L482.18 33.29M502.11 73.05L484.61 32.22M503.86 72.82L487.05 31.2M504.34 69.26L489.51 30.24M505.87 68.27L492 29.32M508.18 69.58L494.5 28.46M510.33 70.64L497.02 27.65M512.3 71.34L499.56 26.9M513.36 68.76L502.11 26.19M514.54 66.31L504.68 25.54M517.54 71.7L507.26 24.95M518.55 68.37L509.85 24.41M521.08 72.86L512.45 23.92M522.56 71.93L515.06 23.49M530.47 118.92L517.68 23.11M525.81 71.86L520.31 22.79M527.52 72.77L522.94 22.52M528.96 70.63L525.58 22.31M530.92 77.25L528.23 22.15M532.22 70.47L530.87 22.05" stroke="#d4d4d4" stroke-width="0.28" fill="none"/>
<path d="M534.24 126L533.89 75.64M534.71 126L535.46 72.57M534.44 136.4L534.48 126M534.82 136.41L537.06 72.27M535.9 121.55L538.66 72.15M536.46 121.59L540.14 73.78M536.15 122.12L536.18 121.57M536.97 122.19L540.22 89.06M536.53 122.45L536.56 122.15M537.48 122.55L542.51 80.4M536.55 127.02L537.01 122.5M537.59 125.68L544.7 75.13M538.07 125.75L545.66 78.86M537.79 126.01L537.83 125.71M538.49 126.13L546.96 79.97M537.95 127.21L538.14 126.07M538.86 126.67L547.63 83.93M539.31 126.77L549.86 80.34M538.94 127.4L539.09 126.72M536.27 136.55L537.75 127.17M538.31 132.71L549.6 87.43M538.64 132.79L552.83 80.57M537.42 136.79L538.48 132.75M537.79 136.89L553.05 85.02M538.03 136.96L554.33 85.59M545.06 117.08L556.71 82.87M545.72 117.31L556.77 86.95M545.29 117.49L545.39 117.19M546.25 117.84L559.02 84.92M542.21 127.28L545.77 117.66M543.34 126.7L560.5 85.07M543.8 126.9L559.76 90.35M543.2 127.67L543.57 126.8M542.44 128.13L542.71 127.47M543.55 128.61L562.43 87.73M539.13 137.37L543 128.36M539.66 137.61L563.25 89.24M539.89 137.73L564.58 89.67M544.67 129.41L564.18 93.33M546.58 126.96L566.17 92.48M547.02 127.22L565.59 96.08M545.26 129.74L546.8 127.09M540.27 137.94L544.96 129.57M546.21 129.51L570.27 90.99M546.6 129.76L565.77 100.46M545.8 130.58L546.4 129.63M546.67 130.48L571.26 94.57M547.04 130.74L572.3 95.46M546.54 131.07L546.85 130.61M546 131.07L546.17 130.82M547.86 130.41L569.14 101.97M549.48 129.09L570.03 102.8M556.86 120.86L574.13 99.69M557.43 121.34L576.41 99.04M550.08 129.58L557.14 121.1M549.25 129.99L549.79 129.33M550.1 130.71L576.01 101.54M548.92 131.25L549.68 130.35M548.02 131.29L548.4 130.82M549.54 132.05L580.33 98.8M549.88 132.37L576.06 105.26M549.42 132.51L549.71 132.21M548.07 132.65L548.74 131.89M541.69 138.86L547.06 131.83M548.49 134.41L579.57 103.54M549.8 133.73L585.34 99.89M550.11 134.06L584.56 102.6M549.3 134.51L549.95 133.9M550.7 134.13L590.34 99.43M551 134.47L588.27 103.2M549.87 135.14L550.85 134.3M549.2 135.16L549.59 134.82M548.35 135.25L548.85 134.78M555.09 131.76L592.4 101.77M555.44 132.2L565.29 124.61M554.46 132.61L555.27 131.98M564.73 126.04L595.83 103.11M565.19 126.68L598.27 103.34M555.35 133.29L564.96 126.36M555.81 133.96L599.63 104.4M555.34 133.79L555.58 133.62M549.8 136.98L554.91 133.2M543.6 140.7L549.1 136.1M544.49 141.9L600.53 105.78M547.17 140.54L602.2 106.69M547.33 140.81L602.51 108.44M544.69 142.22L547.25 140.68M544.88 142.55L605.47 108.68M550.38 139.9L604.89 110.92M550.56 140.24L609.42 110.5M545.05 142.88L550.47 140.07M545.22 143.21L551.37 140.27M552.74 140.08L597.67 119.7M564.31 135.58L604.71 118.27M564.57 136.21L608.81 118.34M564.17 136.01L564.44 135.89M564.54 136.95L603.87 122.01M563.79 136.7L564.36 136.48M564.2 137.79L603.98 123.62M562.93 137.65L564 137.24M563.79 138.62L600.98 126.25M564.32 139.14L605.97 126.25M564.51 139.77L606.87 127.62M564.08 139.55L564.42 139.45M563.48 139.23L563.94 139.09M553.43 141.82L563.21 138.44M552.79 141.07L553.11 140.94M554.35 143.13L605.35 129.65M554.78 143.47L602.42 131.94M554.88 143.9L604.91 132.9M554.51 143.76L554.83 143.68M553.61 143.65L554.43 143.44M552.17 142.69L553.24 142.34M552.71 144.77L603.47 134.72M546.02 145.39L552.47 143.72M548 146L600.88 136.68M548.04 146.29L601.3 138.04M546.93 146.33L548.02 146.15M548.21 146.56L601.97 139.38M548.25 146.85L597.54 141.32M547 146.85L548.23 146.7M546.28 146.69L546.97 146.59M551.53 146.84L602.34 142.22M557.38 146.79L601.31 143.72M557.41 147.27L593.31 145.52M556.11 147.11L557.39 147.03M556.14 147.79L594.4 146.72M554.86 147.51L556.13 147.45M554.88 148.26L597.71 147.96M553.75 147.91L554.87 147.88M554.12 148.68L595.26 149.25M554.11 149.09L593.12 150.45M553.75 148.87L554.12 148.88M552.79 148.39L553.76 148.39M552.76 149.43L600.77 152.11M551.59 148.88L552.78 148.91M546.39 148.02L551.59 147.86M546.36 149.32L560.94 150.44M549.96 149.93L602.8 155.11M550.6 150.33L606.67 157.02M554.55 151.23L605.99 158.46M554.49 151.65L602.39 159.41M550.53 150.84L554.52 151.44M549.9 150.5L550.57 150.59M549.16 150.12L549.93 150.21M552.24 151.68L608.73 162.04M552.17 152.05L600.23 161.91M551.21 151.67L552.21 151.86M551.1 152.19L606.16 164.7M550.85 151.87L551.16 151.93M551.24 152.6L604.1 165.78M552.14 153.22L604.21 167.37M552.04 153.59L598.98 167.41M551.1 153.12L552.09 153.41M550.65 152.72L551.17 152.86M550.05 152.13L550.76 152.3M559.28 156.29L592.87 166.95M559.11 156.81L595.43 169.18M551.1 153.89L559.2 156.55M550.92 154.41L569.78 161.28M550.68 154.04L551.01 154.15M551.24 154.93L580.64 166.34M551.75 155.55L595.89 173.74M551.6 155.91L599.71 176.93M551.02 155.46L551.68 155.73M550.37 154.88L551.13 155.19M551.45 156.28L594.99 176.4M551.28 156.64L599 179.91M550.6 156.09L551.37 156.46M550.35 156.6L592.59 178.3M549.85 156.04L550.48 156.35M549.24 154.61L550.3 155.05M548.53 153L549.7 153.39M546.12 150.97L548.92 151.58M553.04 158.48L590.47 178.72M552.82 158.87L591.35 180.75M552.52 158.44L552.93 158.67M552.19 159.01L596.69 185.53M551.97 158.5L552.36 158.73M552.54 159.74L594.39 185.89M552.55 160.28L594.1 187.46M552.3 160.65L592.81 188.39M552.17 160.3L552.42 160.47M551.92 159.74L552.36 160.02M551.61 160.72L592.3 189.85M551.59 161.26L553.21 162.47M551.32 161.62L571.88 177.68M551.22 161.26L551.46 161.44M551.18 160.81L551.42 160.99M551.31 160.11L551.56 160.28M550.82 161.79L563.43 172.08M550.53 162.13L583.91 190.54M550.45 161.77L550.68 161.96M550.33 162.54L586.92 195.03M550.53 163.34L586.64 196.78M550.22 163.68L583.92 196.22M549.88 163.04L550.38 163.51M549.8 162.51L550.1 162.79M549.89 161.94L550.13 162.14M550.39 160.86L550.63 161.04M544.36 155.1L551.22 159.71M550.72 164.84L582.35 196.68M550.38 165.18L577.02 193.15M549.8 164.24L550.55 165.01M549.3 164.71L575.17 193.05M546.42 161.16L549.55 164.48M547.04 162.84L574.6 194.32M546.74 163.1L575.91 197.87M546.08 162.03L546.89 162.97M545.65 162.39L577.99 202.62M545.6 161.88L545.87 162.21M545.78 161.26L546.01 161.53M544.88 162.01L578.72 205.95M542.04 157.65L545.34 161.64M546.61 164.97L575.42 204.04M546.26 165.22L574.41 205.12M545.91 164.36L546.44 165.09M547.5 167.82L577.2 211.86M547.79 169.18L577.39 215.11M547.35 169.46L574.25 213.18M547.12 168.6L547.57 169.32M546.48 168.99L574 215.9M546.57 168.42L546.8 168.8M546.69 167.59L547.04 168.12M545.52 168.29L570.82 213.56M545.54 167L546.11 167.95M544.58 167.55L569.46 214.33M544.69 166.62L545.07 167.28M544.7 168.79L567.91 214.74M544.27 169.01L553.53 188.32M543.98 167.87L544.49 168.9M543.5 168.45L550.04 182.89M543.52 169.67L562.64 214.3M543.07 169.86L559.83 211.34M542.86 168.73L543.29 169.77M543.05 168.3L543.18 168.59M543.19 167.39L543.52 168.09M543.38 165.9L543.95 167.02M544.04 164.15L544.67 165.18M541.54 167.19L557.55 209.35M541.14 167.33L557.16 212.33M541.18 166.83L541.34 167.26M540.6 167.03L555.6 212.12M540.5 165.83L540.89 166.93M539.55 159.24L542.32 165.08M539.83 165.94L552.88 208.09M539.57 166.42L549.62 201.49M539.19 166.52L543.85 184.18M539.28 166.1L539.38 166.47M537.77 159.92L539.55 166.02M538.78 166.52L548.5 206.7M538.4 166.6L547.62 208.51M538.44 165.91L538.59 166.56M539.41 173.71L545.76 205.78M538.88 173.81L544.85 207.68M537.71 166.07L539.15 173.76M536.85 160.15L538.08 165.99M536.24 160.26L543.7 208.46M536.46 163.88L541.6 202.37M536.14 163.92L540.35 201.43M535.86 160.31L536.3 163.9M535.84 164.25L538.82 196.95M535.53 164.58L538.29 204.07M535.24 165.57L536.79 197.22M534.88 165.58L535.83 199.7M535.02 164.6L535.06 165.57M535.26 164.29L535.28 164.59M535.49 163.38L535.55 164.27M534.52 165.46L534.8 205.33M534.15 166.58L533.58 206.79M533.77 166.57L532.22 210.73M533.98 165.46L533.96 166.58M534.26 164.86L534.25 165.46M533.48 164.83L531.19 205.73M533.08 165.6L529.12 216.99M532.72 165.57L527.66 217.17M532.97 164.79L532.9 165.59M533.65 163.92L533.61 164.84M531.5 172.68L526.75 212.52M531 172.62L524.36 219.81M531.31 172.15L531.25 172.65M530.57 172.05L523.09 218.22M531.88 165.69L530.94 172.1M531.19 165.9L521.58 218.25M530.63 166.76L520.58 215.72M530.25 166.67L519.68 213.19M530.64 165.79L530.44 166.72M530.98 165.53L530.91 165.84M531.59 164.7L531.43 165.61M530.29 164.9L517.85 214.77M529.86 165.12L516.2 215.38M529.51 165.02L515.78 211.65M529.77 164.77L529.68 165.07M530.15 164.38L530.03 164.84M531.08 163.58L530.86 164.55M532.43 163.29L532.36 163.81M533.97 162.86L533.95 163.42M529.85 162.73L513.7 213.67M529.35 163.25L514.07 208.12M529.04 163.14L512.33 209.04M529.31 162.87L529.19 163.19M528.55 163.47L511.34 207.85M528.24 163.35L510.29 206.89M528.7 162.64L528.4 163.41M529.11 162.48L529 162.76M529.67 162.07L529.48 162.61M532.23 160.2L531.79 162.63M529.6 159.4L507.24 210.58M529.37 159.29L506.7 208.35M525.98 165.66L507.38 203.8M525.62 165.48L505.74 204.17M529.03 159.13L525.8 165.57M528.69 158.96L501.35 209.52M523.78 167.09L502.91 203.82M522.75 167.94L500.48 205.31M521.68 168.76L500.56 202.55M521.26 168.49L496.76 205.91M522.14 167.57L521.47 168.62M523.11 166.69L522.44 167.76M528.28 158.72L523.44 166.89M527.62 158.3L495.05 205.87M521.02 167.09L496.19 201.77M515.16 174.12L493.87 202.58M513.58 175.05L497 196.27M513.03 174.61L494.04 197.89M513.88 174.1L513.3 174.83M513.09 173.44L490.91 199.5M513.97 173.18L513.48 173.78M520.2 166.48L514.56 173.66M527.2 158L520.6 166.79M526.43 157.37L486.65 202.18M520.02 163.93L486.14 200.52M519.7 163.63L512.03 171.56M520.27 163.35L519.86 163.78M519.8 162.89L486.28 196.19M526.02 156.99L520.03 163.12M518.39 163.65L513.88 167.94M517.61 163.73L490.23 188.74M517.29 163.38L487.34 189.6M517.92 163.13L517.45 163.56M525.58 156.54L518.15 163.39M525.21 156.11L480.85 193.33M516.01 163.18L484.67 188.39M515.71 162.79L478.34 191.58M516.41 162.56L515.86 162.99M515.97 161.99L477.78 190.14M524.85 155.67L516.19 162.27M513.97 162.81L486.21 182.39M513.67 162.38L472.94 189.85M524.52 155.21L513.82 162.6M513.17 162.08L475.33 186.47M512.89 161.64L466.93 189.91M513.54 161.54L513.03 161.86M513.13 160.88L463.84 189.8M513.62 161.03L513.33 161.21M512.11 160.86L460.15 189.9M503.58 164.79L460.1 187.9M501.29 165.12L451.68 190.19M500.95 164.43L459.57 184.25M502.09 164.3L501.12 164.78M501.31 163.41L450 186.69M501 162.71L450.9 184.19M501.45 162.93L501.16 163.06M502.76 163.15L501.76 163.62M502.03 161.48L449.37 182.76M511.26 159.19L502.76 163.15M512.75 159.48L511.67 160.03M511.67 157.04L451.78 179.78M523.62 153.67L512.55 159.08M509.41 157.3L451.04 178.08M508.95 156.87L445.78 177.88M508.78 156.33L446 175.76M509.15 156.51L508.86 156.6M510 156.66L509.28 156.9M509.08 155.66L449.47 172.75M508.94 155.13L444.53 172.14M509.56 155.24L509.01 155.39M508.33 154.71L441.8 170.8M508.2 154.16L447.85 167.43M509.3 154.19L508.26 154.43M522.86 151.68L509.62 155.44M505.94 154.03L445.76 165.95M505.83 153.44L442.97 164.52M522.6 150.61L505.88 153.74M508.01 152.48L439.74 163.05M507.02 152.05L439.65 161.04M506.95 151.48L444.28 158.51M507.9 151.65L506.99 151.77M522.51 150.05L507.95 152.07M504.53 151.12L437.56 157.21M504.48 150.49L444.72 154.67M522.44 149.36L504.5 150.81M495.52 150.3L438.49 153.09M495.49 149.49L436.41 151.14M502.21 149.64L495.5 149.89M502.19 148.62L437.25 149.08M503.37 149.1L502.2 149.13M502.55 147.96L443.07 147.12M502.56 147.29L439.98 145.1M503.37 147.64L502.55 147.62M522.4 148.39L503.36 148.37M506.52 146.84L441.3 143.2M506.56 146.26L437.22 140.92M522.43 147.6L506.54 146.55M503.95 145.41L438.29 138.98M501.21 144.44L440.48 137.2M501.3 143.75L443.96 135.69M502.2 144.22L501.25 144.09M502.35 143.21L440.85 133.25M502.93 143.81L502.27 143.71M495.3 141.22L442.47 131.53M495.46 140.41L445.77 130.21M503.18 142.33L495.38 140.81M504.24 143.27L503.04 143.07M522.51 146.81L504.07 144.34M506.49 142.06L442.75 127.58M505.51 141.2L440.78 125.06M497.92 138.49L446.03 124.39M498.14 137.73L443.51 121.65M505.75 140.29L498.03 138.11M506.75 141.04L505.63 140.74M522.75 145.53L506.62 141.55M503.95 138.74L444.61 119.92M504.16 138.11L445.24 118.05M523 144.65L504.06 138.42M503.47 137.14L450.23 117.77M503.06 136.24L454.83 117.54M501.91 135.01L450.39 113.77M502.19 134.33L452.39 112.57M502.69 134.94L502.05 134.67M503.13 133.95L453.26 110.91M503.67 134.78L502.9 134.44M504 135.78L503.36 135.51M504.14 136.62L503.73 136.46M503.4 133.28L453.57 108.98M502.96 132.24L460.67 110.51M501.64 130.69L488.67 123.67M502.02 130L460 106.13M502.96 130.97L501.83 130.34M503.09 129.74L459.31 103.64M503.49 129.08L459.38 101.52M503.72 129.67L503.29 129.41M503.59 130.47L503.33 130.32M504.57 128.88L464.26 102.5M504.33 129.83L504.07 129.67M504.37 131.44L503.62 131.02M504.78 132.83L503.87 132.36M505.96 128.93L460.71 97.95M506.37 128.34L460.9 95.78M506.99 129.21L506.17 128.63M506.67 131.5L505.83 130.98M523.64 143.08L505.29 134M524.79 141.21L462.76 94.8M512.44 131.24L466.98 95.73M512.81 130.79L466.03 92.64M525.02 140.91L512.62 131.01M509.33 127.06L473.37 96.46M506.05 123.23L496.95 115.15M506.58 122.64L472.24 90.84M510.01 126.28L506.31 122.93M525.38 140.48L509.66 126.67M513.56 128.27L474.34 90.4M508.95 122.77L478.86 92.47M509.49 122.24L475.02 86.04M514.2 127.63L509.22 122.51M525.9 139.93L513.88 127.95M514.46 126.57L480.74 89.63M510.98 121.64L479.67 85.88M511.54 121.16L484.89 89.4M515.16 125.95L511.26 121.4M526.45 139.41L514.81 126.26M516 125.52L484.13 85.88M515.89 124.37L491.46 92.63M516.4 123.98L488.12 85.63M516.73 124.95L516.14 124.17M516.69 125.65L516.36 125.23M517.22 124.05L486.92 81.09M517.04 122.66L490.45 83.24M517.58 122.3L488.03 76.45M517.6 122.92L517.31 122.48M518.41 122.41L490.59 77.19M518.39 123.27L518 122.66M518.34 124.46L517.8 123.65M527.37 138.68L517.51 125.04M522.31 127.79L493.44 78.59M522.74 127.54L497.24 81.91M528.44 137.99L522.53 127.67M523.81 128.49L496.48 77.09M524.23 128.27L498.52 77.38M524.27 128.86L524.02 128.38M524.36 127.45L497.95 72.33M524.06 125.61L501.28 75.4M524.54 125.4L502.3 73.51M524.71 126.44L524.3 125.5M525.41 126.14L504.05 73.28M525.24 126.73L525.06 126.29M522.55 117.19L504.51 69.73M523.2 116.95L506.04 68.74M523.09 117.67L522.87 117.07M524.06 117.33L508.34 70.06M526.62 126.19L523.58 117.49M526.04 126.73L525.93 126.45M525.67 128.19L525.19 127.08M529.26 137.56L524.97 128.51M526.31 122.28L510.48 71.12M526.86 122.12L512.44 71.82M526.81 122.93L526.59 122.2M527.3 121.54L513.49 69.24M527.87 121.4L514.66 66.8M527.88 122.64L527.59 121.47M527.43 123.1L527.34 122.78M528.59 121.97L517.64 72.19M529.05 121.4L518.65 68.86M529.57 120.99L521.17 73.35M530.14 120.9L522.64 72.43M529.9 121.24L529.85 120.95M529.56 121.77L529.48 121.31M529.24 122.67L529.07 121.87M530.93 122.39L530.53 119.41M532.01 136.64L529.17 122.68M531.75 124.79L525.87 72.36M532.25 124.74L527.56 73.27M533.19 136.46L532 124.77M532.87 126.46L529 71.13M533.3 125.85L530.94 77.75M533.77 125.83L532.24 70.97M533.56 126.43L533.53 125.84M533.75 136.42L533.21 126.44M534.24 126A22.4 22.4 0 0 1 534.71 126M535.9 121.55A26.89 26.89 0 0 1 536.46 121.59M536.15 122.12A26.33 26.33 0 0 1 536.97 122.19M536.53 122.45A26.03 26.03 0 0 1 537.48 122.55M537.59 125.68A22.94 22.94 0 0 1 538.07 125.75M537.79 126.01A22.64 22.64 0 0 1 538.49 126.13M538.86 126.67A22.18 22.18 0 0 1 539.31 126.77M536.55 127.02A21.49 21.49 0 0 1 538.94 127.4M538.31 132.71A16.17 16.17 0 0 1 538.64 132.79M545.06 117.08A33.09 33.09 0 0 1 545.72 117.31M545.29 117.49A32.78 32.78 0 0 1 546.25 117.84M543.34 126.7A23.47 23.47 0 0 1 543.8 126.9M542.21 127.28A22.52 22.52 0 0 1 543.2 127.67M542.44 128.13A21.8 21.8 0 0 1 543.55 128.61M546.58 126.96A24.66 24.66 0 0 1 547.02 127.22M544.67 129.41A21.59 21.59 0 0 1 545.26 129.74M546.21 129.51A22.28 22.28 0 0 1 546.6 129.76M546.67 130.48A21.71 21.71 0 0 1 547.04 130.74M545.8 130.58A21.16 21.16 0 0 1 546.54 131.07M556.86 120.86A35.53 35.53 0 0 1 557.43 121.34M549.48 129.09A24.5 24.5 0 0 1 550.08 129.58M549.25 129.99A23.65 23.65 0 0 1 550.1 130.71M547.86 130.41A22.47 22.47 0 0 1 548.92 131.25M549.54 132.05A22.28 22.28 0 0 1 549.88 132.37M548.02 131.29A21.87 21.87 0 0 1 549.42 132.51M546 131.07A20.86 20.86 0 0 1 548.07 132.65M549.8 133.73A21.27 21.27 0 0 1 550.11 134.06M550.7 134.13A21.67 21.67 0 0 1 551 134.47M549.3 134.51A20.37 20.37 0 0 1 549.87 135.14M548.49 134.41A19.86 19.86 0 0 1 549.2 135.16M555.09 131.76A26.55 26.55 0 0 1 555.44 132.2M564.73 126.04A37.68 37.68 0 0 1 565.19 126.68M555.35 133.29A25.83 25.83 0 0 1 555.81 133.96M554.46 132.61A25.53 25.53 0 0 1 555.34 133.79M548.35 135.25A19.17 19.17 0 0 1 549.8 136.98M547.17 140.54A15 15 0 0 1 547.33 140.81M550.38 139.9A18.1 18.1 0 0 1 550.56 140.24M564.31 135.58A32.54 32.54 0 0 1 564.57 136.21M564.17 136.01A32.24 32.24 0 0 1 564.54 136.95M563.79 136.7A31.63 31.63 0 0 1 564.2 137.79M564.32 139.14A31.32 31.32 0 0 1 564.51 139.77M563.79 138.62A30.97 30.97 0 0 1 564.08 139.55M562.93 137.65A30.49 30.49 0 0 1 563.48 139.23M552.74 140.08A20.14 20.14 0 0 1 553.43 141.82M554.78 143.47A20.97 20.97 0 0 1 554.88 143.9M554.35 143.13A20.64 20.64 0 0 1 554.51 143.76M552.79 141.07A19.79 19.79 0 0 1 553.61 143.65M552.17 142.69A18.67 18.67 0 0 1 552.71 144.77M548 146A13.81 13.81 0 0 1 548.04 146.29M548.21 146.56A13.93 13.93 0 0 1 548.25 146.85M546.93 146.33A12.7 12.7 0 0 1 547 146.85M557.38 146.79A23.03 23.03 0 0 1 557.41 147.27M556.11 147.11A21.75 21.75 0 0 1 556.14 147.79M554.86 147.51A20.48 20.48 0 0 1 554.88 148.26M554.12 148.68A19.72 19.72 0 0 1 554.11 149.09M553.75 147.91A19.36 19.36 0 0 1 553.75 148.87M552.79 148.39A18.39 18.39 0 0 1 552.76 149.43M551.53 146.84A17.2 17.2 0 0 1 551.59 148.88M554.55 151.23A20.35 20.35 0 0 1 554.49 151.65M550.6 150.33A16.31 16.31 0 0 1 550.53 150.84M549.96 149.93A15.64 15.64 0 0 1 549.9 150.5M552.24 151.68A18.14 18.14 0 0 1 552.17 152.05M551.21 151.67A17.13 17.13 0 0 1 551.1 152.19M552.14 153.22A18.38 18.38 0 0 1 552.04 153.59M551.24 152.6A17.35 17.35 0 0 1 551.1 153.12M550.85 151.87A16.82 16.82 0 0 1 550.65 152.72M559.28 156.29A26.11 26.11 0 0 1 559.11 156.81M551.1 153.89A17.58 17.58 0 0 1 550.92 154.41M551.75 155.55A18.77 18.77 0 0 1 551.6 155.91M551.24 154.93A18.06 18.06 0 0 1 551.02 155.46M551.45 156.28A18.79 18.79 0 0 1 551.28 156.64M550.6 156.09A17.94 17.94 0 0 1 550.35 156.6M550.68 154.04A17.23 17.23 0 0 1 549.85 156.04M550.05 152.13A16.09 16.09 0 0 1 549.24 154.61M549.16 150.12A14.86 14.86 0 0 1 548.53 153M553.04 158.48A21.19 21.19 0 0 1 552.82 158.87M552.52 158.44A20.71 20.71 0 0 1 552.19 159.01M552.55 160.28A21.69 21.69 0 0 1 552.3 160.65M552.54 159.74A21.39 21.39 0 0 1 552.17 160.3M551.59 161.26A21.47 21.47 0 0 1 551.32 161.62M551.61 160.72A21.17 21.17 0 0 1 551.22 161.26M551.92 159.74A20.87 20.87 0 0 1 551.18 160.81M550.82 161.79A21.18 21.18 0 0 1 550.53 162.13M550.53 163.34A21.99 21.99 0 0 1 550.22 163.68M550.33 162.54A21.3 21.3 0 0 1 549.88 163.04M550.45 161.77A20.88 20.88 0 0 1 549.8 162.51M551.31 160.11A20.57 20.57 0 0 1 549.89 161.94M551.97 158.5A20.27 20.27 0 0 1 550.39 160.86M550.72 164.84A23.17 23.17 0 0 1 550.38 165.18M549.8 164.24A22.09 22.09 0 0 1 549.3 164.71M547.04 162.84A19.2 19.2 0 0 1 546.74 163.1M546.08 162.03A17.95 17.95 0 0 1 545.65 162.39M546.42 161.16A17.53 17.53 0 0 1 545.6 161.88M545.78 161.26A17.17 17.17 0 0 1 544.88 162.01M546.61 164.97A20.58 20.58 0 0 1 546.26 165.22M547.79 169.18A24.72 24.72 0 0 1 547.35 169.46M547.12 168.6A23.87 23.87 0 0 1 546.48 168.99M547.5 167.82A23.42 23.42 0 0 1 546.57 168.42M546.69 167.59A22.79 22.79 0 0 1 545.52 168.29M545.54 167A21.69 21.69 0 0 1 544.58 167.55M544.7 168.79A22.85 22.85 0 0 1 544.27 169.01M543.52 169.67A23.14 23.14 0 0 1 543.07 169.86M543.5 168.45A22.02 22.02 0 0 1 542.86 168.73M543.98 167.87A21.7 21.7 0 0 1 543.05 168.3M544.69 166.62A20.93 20.93 0 0 1 543.19 167.39M545.91 164.36A19.67 19.67 0 0 1 543.38 165.9M541.54 167.19A20.1 20.1 0 0 1 541.14 167.33M541.18 166.83A19.64 19.64 0 0 1 540.6 167.03M544.04 164.15A18.47 18.47 0 0 1 540.5 165.83M539.57 166.42A18.74 18.74 0 0 1 539.19 166.52M539.83 165.94A18.36 18.36 0 0 1 539.28 166.1M538.78 166.52A18.64 18.64 0 0 1 538.4 166.6M539.41 173.71A25.8 25.8 0 0 1 538.88 173.81M538.44 165.91A17.97 17.97 0 0 1 537.71 166.07M536.46 163.88A15.61 15.61 0 0 1 536.14 163.92M535.24 165.57A17.19 17.19 0 0 1 534.88 165.58M535.53 164.58A16.22 16.22 0 0 1 535.02 164.6M535.84 164.25A15.92 15.92 0 0 1 535.26 164.29M534.15 166.58A18.18 18.18 0 0 1 533.77 166.57M534.52 165.46A17.06 17.06 0 0 1 533.98 165.46M533.08 165.6A17.25 17.25 0 0 1 532.72 165.57M534.26 164.86A16.46 16.46 0 0 1 532.97 164.79M531.5 172.68A24.46 24.46 0 0 1 531 172.62M531.31 172.15A23.95 23.95 0 0 1 530.57 172.05M530.63 166.76A18.74 18.74 0 0 1 530.25 166.67M531.19 165.9A17.79 17.79 0 0 1 530.64 165.79M531.88 165.69A17.47 17.47 0 0 1 530.98 165.53M529.86 165.12A17.33 17.33 0 0 1 529.51 165.02M530.29 164.9A17.01 17.01 0 0 1 529.77 164.77M531.59 164.7A16.54 16.54 0 0 1 530.15 164.38M533.65 163.92A15.54 15.54 0 0 1 531.08 163.58M535.49 163.38A15.02 15.02 0 0 1 532.43 163.29M529.35 163.25A15.68 15.68 0 0 1 529.04 163.14M528.55 163.47A16.17 16.17 0 0 1 528.24 163.35M529.31 162.87A15.34 15.34 0 0 1 528.7 162.64M529.85 162.73A15.04 15.04 0 0 1 529.11 162.48M533.97 162.86A14.47 14.47 0 0 1 529.67 162.07M525.98 165.66A19.2 19.2 0 0 1 525.62 165.48M521.68 168.76A24 24 0 0 1 521.26 168.49M522.75 167.94A22.75 22.75 0 0 1 522.14 167.57M523.78 167.09A21.49 21.49 0 0 1 523.11 166.69M513.58 175.05A33.82 33.82 0 0 1 513.03 174.61M513.88 174.1A32.89 32.89 0 0 1 513.09 173.44M515.16 174.12A32.12 32.12 0 0 1 513.97 173.18M521.02 167.09A22.99 22.99 0 0 1 520.2 166.48M520.02 163.93A21.17 21.17 0 0 1 519.7 163.63M520.27 163.35A20.57 20.57 0 0 1 519.8 162.89M517.61 163.73A22.74 22.74 0 0 1 517.29 163.38M518.39 163.65A22.11 22.11 0 0 1 517.92 163.13M516.01 163.18A23.59 23.59 0 0 1 515.71 162.79M516.41 162.56A22.89 22.89 0 0 1 515.97 161.99M513.97 162.81A25 25 0 0 1 513.67 162.38M513.17 162.08A25.26 25.26 0 0 1 512.89 161.64M513.54 161.54A24.66 24.66 0 0 1 513.13 160.88M501.29 165.12A37.09 37.09 0 0 1 500.95 164.43M501.31 163.41A36.33 36.33 0 0 1 501 162.71M502.09 164.3A36.01 36.01 0 0 1 501.45 162.93M503.58 164.79A34.91 34.91 0 0 1 502.03 161.48M512.11 160.86A25.53 25.53 0 0 1 511.26 159.19M513.62 161.03A24.32 24.32 0 0 1 511.67 157.04M508.95 156.87A26.82 26.82 0 0 1 508.78 156.33M509.41 157.3A26.52 26.52 0 0 1 509.15 156.51M509.08 155.66A26.34 26.34 0 0 1 508.94 155.13M508.33 154.71A26.83 26.83 0 0 1 508.2 154.16M510 156.66A25.76 25.76 0 0 1 509.3 154.19M505.94 154.03A29.01 29.01 0 0 1 505.83 153.44M507.02 152.05A27.62 27.62 0 0 1 506.95 151.48M508.01 152.48A26.7 26.7 0 0 1 507.9 151.65M504.53 151.12A29.99 29.99 0 0 1 504.48 150.49M495.52 150.3A38.93 38.93 0 0 1 495.49 149.49M502.21 149.64A32.21 32.21 0 0 1 502.19 148.62M502.55 147.96A31.86 31.86 0 0 1 502.56 147.29M503.37 149.1A31.04 31.04 0 0 1 503.37 147.64M506.52 146.84A27.92 27.92 0 0 1 506.56 146.26M501.21 144.44A33.43 33.43 0 0 1 501.3 143.75M502.2 144.22A32.47 32.47 0 0 1 502.35 143.21M495.3 141.22A39.76 39.76 0 0 1 495.46 140.41M502.93 143.81A31.81 31.81 0 0 1 503.18 142.33M503.95 145.41A30.6 30.6 0 0 1 504.24 143.27M497.92 138.49A37.8 37.8 0 0 1 498.14 137.73M505.51 141.2A29.78 29.78 0 0 1 505.75 140.29M506.49 142.06A28.62 28.62 0 0 1 506.75 141.04M503.95 138.74A31.94 31.94 0 0 1 504.16 138.11M501.91 135.01A35.15 35.15 0 0 1 502.19 134.33M502.69 134.94A34.45 34.45 0 0 1 503.13 133.95M503.06 136.24A33.61 33.61 0 0 1 503.67 134.78M503.47 137.14A32.91 32.91 0 0 1 504 135.78M501.64 130.69A37.24 37.24 0 0 1 502.02 130M503.09 129.74A36.45 36.45 0 0 1 503.49 129.08M502.96 130.97A35.95 35.95 0 0 1 503.72 129.67M503.59 130.47A35.65 35.65 0 0 1 504.57 128.88M502.96 132.24A35.35 35.35 0 0 1 504.33 129.83M503.4 133.28A34.49 34.49 0 0 1 504.37 131.44M505.96 128.93A34.47 34.47 0 0 1 506.37 128.34M504.78 132.83A33.46 33.46 0 0 1 506.99 129.21M504.14 136.62A32.48 32.48 0 0 1 506.67 131.5M512.44 131.24A27.87 27.87 0 0 1 512.81 130.79M506.05 123.23A37.92 37.92 0 0 1 506.58 122.64M509.33 127.06A32.93 32.93 0 0 1 510.01 126.28M508.95 122.77A36.12 36.12 0 0 1 509.49 122.24M513.56 128.27A28.98 28.98 0 0 1 514.2 127.63M510.98 121.64A35.56 35.56 0 0 1 511.54 121.16M514.46 126.57A29.57 29.57 0 0 1 515.16 125.95M515.89 124.37A30.33 30.33 0 0 1 516.4 123.98M516 125.52A29.36 29.36 0 0 1 516.73 124.95M517.04 122.66A31.05 31.05 0 0 1 517.58 122.3M517.6 122.92A30.52 30.52 0 0 1 518.41 122.41M517.22 124.05A29.8 29.8 0 0 1 518.39 123.27M516.69 125.65A28.83 28.83 0 0 1 518.34 124.46M522.31 127.79A23.89 23.89 0 0 1 522.74 127.54M523.81 128.49A22.55 22.55 0 0 1 524.23 128.27M524.06 125.61A25.02 25.02 0 0 1 524.54 125.4M524.71 126.44A24 24 0 0 1 525.41 126.14M522.55 117.19A33.38 33.38 0 0 1 523.2 116.95M523.09 117.67A32.75 32.75 0 0 1 524.06 117.33M525.24 126.73A23.53 23.53 0 0 1 526.62 126.19M524.36 127.45A23.23 23.23 0 0 1 526.04 126.73M524.27 128.86A22.01 22.01 0 0 1 525.67 128.19M526.31 122.28A27.34 27.34 0 0 1 526.86 122.12M527.3 121.54A27.78 27.78 0 0 1 527.87 121.4M526.81 122.93A26.57 26.57 0 0 1 527.88 122.64M529.57 120.99A27.83 27.83 0 0 1 530.14 120.9M529.05 121.4A27.53 27.53 0 0 1 529.9 121.24M528.59 121.97A27.06 27.06 0 0 1 529.56 121.77M527.43 123.1A26.24 26.24 0 0 1 530.93 122.39M531.75 124.79A23.75 23.75 0 0 1 532.25 124.74M533.3 125.85A22.58 22.58 0 0 1 533.77 125.83M532.87 126.46A21.99 21.99 0 0 1 533.56 126.43M534.44 136.4A12 12 0 1 1 533.75 136.42" stroke="#2c2c2c" stroke-width="0.45" fill="none"/>
<line x1="534.4" y1="148.4" x2="524.45" y2="141.69" stroke="#444" stroke-width="0.4"/>
<path d="M533.29 75.64a0.6 0.6 0 1 0 1.2 0a0.6 0.6 0 1 0 -1.2 0M534.86 72.57a0.6 0.6 0 1 0 1.2 0a0.6 0.6 0 1 0 -1.2 0M536.46 72.27a0.6 0.6 0 1 0 1.2 0a0.6 0.6 0 1 0 -1.2 0M538.06 72.15a0.6 0.6 0 1 0 1.2 0a0.6 0.6 0 1 0 -1.2 0M539.54 73.78a0.6 0.6 0 1 0 1.2 0a0.6 0.6 0 1 0 -1.2 0M539.62 89.06a0.6 0.6 0 1 0 1.2 0a0.6 0.6 0 1 0 -1.2 0M541.91 80.4a0.6 0.6 0 1 0 1.2 0a0.6 0.6 0 1 0 -1.2 0M544.1 75.13a0.6 0.6 0 1 0 1.2 0a0.6 0.6 0 1 0 -1.2 0M545.06 78.86a0.6 0.6 0 1 0 1.2 0a0.6 0.6 0 1 0 -1.2 0M546.36 79.97a0.6 0.6 0 1 0 1.2 0a0.6 0.6 0 1 0 -1.2 0M547.03 83.93a0.6 0.6 0 1 0 1.2 0a0.6 0.6 0 1 0 -1.2 0M549.26 80.34a0.6 0.6 0 1 0 1.2 0a0.6 0.6 0 1 0 -1.2 0M549 87.43a0.6 0.6 0 1 0 1.2 0a0.6 0.6 0 1 0 -1.2 0M552.23 80.57a0.6 0.6 0 1 0 1.2 0a0.6 0.6 0 1 0 -1.2 0M552.45 85.02a0.6 0.6 0 1 0 1.2 0a0.6 0.6 0 1 0 -1.2 0M553.73 85.59a0.6 0.6 0 1 0 1.2 0a0.6 0.6 0 1 0 -1.2 0M556.11 82.87a0.6 0.6 0 1 0 1.2 0a0.6 0.6 0 1 0 -1.2 0M556.17 86.95a0.6 0.6 0 1 0 1.2 0a0.6 0.6 0 1 0 -1.2 0M558.42 84.92a0.6 0.6 0 1 0 1.2 0a0.6 0.6 0 1 0 -1.2 0M559.9 85.07a0.6 0.6 0 1 0 1.2 0a0.6 0.6 0 1 0 -1.2 0M559.16 90.35a0.6 0.6 0 1 0 1.2 0a0.6 0.6 0 1 0 -1.2 0M561.83 87.73a0.6 0.6 0 1 0 1.2 0a0.6 0.6 0 1 0 -1.2 0M562.65 89.24a0.6 0.6 0 1 0 1.2 0a0.6 0.6 0 1 0 -1.2 0M563.98 89.67a0.6 0.6 0 1 0 1.2 0a0.6 0.6 0 1 0 -1.2 0M563.58 93.33a0.6 0.6 0 1 0 1.2 0a0.6 0.6 0 1 0 -1.2 0M565.57 92.48a0.6 0.6 0 1 0 1.2 0a0.6 0.6 0 1 0 -1.2 0M564.99 96.08a0.6 0.6 0 1 0 1.2 0a0.6 0.6 0 1 0 -1.2 0M569.67 90.99a0.6 0.6 0 1 0 1.2 0a0.6 0.6 0 1 0 -1.2 0M565.17 100.46a0.6 0.6 0 1 0 1.2 0a0.6 0.6 0 1 0 -1.2 0M570.66 94.57a0.6 0.6 0 1 0 1.2 0a0.6 0.6 0 1 0 -1.2 0M571.7 95.46a0.6 0.6 0 1 0 1.2 0a0.6 0.6 0 1 0 -1.2 0M568.54 101.97a0.6 0.6 0 1 0 1.2 0a0.6 0.6 0 1 0 -1.2 0M569.43 102.8a0.6 0.6 0 1 0 1.2 0a0.6 0.6 0 1 0 -1.2 0M573.53 99.69a0.6 0.6 0 1 0 1.2 0a0.6 0.6 0 1 0 -1.2 0M575.81 99.04a0.6 0.6 0 1 0 1.2 0a0.6 0.6 0 1 0 -1.2 0M575.41 101.54a0.6 0.6 0 1 0 1.2 0a0.6 0.6 0 1 0 -1.2 0M579.73 98.8a0.6 0.6 0 1 0 1.2 0a0.6 0.6 0 1 0 -1.2 0M575.46 105.26a0.6 0.6 0 1 0 1.2 0a0.6 0.6 0 1 0 -1.2 0M578.97 103.54a0.6 0.6 0 1 0 1.2 0a0.6 0.6 0 1 0 -1.2 0M584.74 99.89a0.6 0.6 0 1 0 1.2 0a0.6 0.6 0 1 0 -1.2 0M583.96 102.6a0.6 0.6 0 1 0 1.2 0a0.6 0.6 0 1 0 -1.2 0M589.74 99.43a0.6 0.6 0 1 0 1.2 0a0.6 0.6 0 1 0 -1.2 0M587.67 103.2a0.6 0.6 0 1 0 1.2 0a0.6 0.6 0 1 0 -1.2 0M591.8 101.77a0.6 0.6 0 1 0 1.2 0a0.6 0.6 0 1 0 -1.2 0M564.69 124.61a0.6 0.6 0 1 0 1.2 0a0.6 0.6 0 1 0 -1.2 0M595.23 103.11a0.6 0.6 0 1 0 1.2 0a0.6 0.6 0 1 0 -1.2 0M597.67 103.34a0.6 0.6 0 1 0 1.2 0a0.6 0.6 0 1 0 -1.2 0M599.03 104.4a0.6 0.6 0 1 0 1.2 0a0.6 0.6 0 1 0 -1.2 0M599.93 105.78a0.6 0.6 0 1 0 1.2 0a0.6 0.6 0 1 0 -1.2 0M601.6 106.69a0.6 0.6 0 1 0 1.2 0a0.6 0.6 0 1 0 -1.2 0M601.91 108.44a0.6 0.6 0 1 0 1.2 0a0.6 0.6 0 1 0 -1.2 0M604.87 108.68a0.6 0.6 0 1 0 1.2 0a0.6 0.6 0 1 0 -1.2 0M604.29 110.92a0.6 0.6 0 1 0 1.2 0a0.6 0.6 0 1 0 -1.2 0M608.82 110.5a0.6 0.6 0 1 0 1.2 0a0.6 0.6 0 1 0 -1.2 0M550.77 140.27a0.6 0.6 0 1 0 1.2 0a0.6 0.6 0 1 0 -1.2 0M597.07 119.7a0.6 0.6 0 1 0 1.2 0a0.6 0.6 0 1 0 -1.2 0M604.11 118.27a0.6 0.6 0 1 0 1.2 0a0.6 0.6 0 1 0 -1.2 0M608.21 118.34a0.6 0.6 0 1 0 1.2 0a0.6 0.6 0 1 0 -1.2 0M603.27 122.01a0.6 0.6 0 1 0 1.2 0a0.6 0.6 0 1 0 -1.2 0M603.38 123.62a0.6 0.6 0 1 0 1.2 0a0.6 0.6 0 1 0 -1.2 0M600.38 126.25a0.6 0.6 0 1 0 1.2 0a0.6 0.6 0 1 0 -1.2 0M605.37 126.25a0.6 0.6 0 1 0 1.2 0a0.6 0.6 0 1 0 -1.2 0M606.27 127.62a0.6 0.6 0 1 0 1.2 0a0.6 0.6 0 1 0 -1.2 0M604.75 129.65a0.6 0.6 0 1 0 1.2 0a0.6 0.6 0 1 0 -1.2 0M601.82 131.94a0.6 0.6 0 1 0 1.2 0a0.6 0.6 0 1 0 -1.2 0M604.31 132.9a0.6 0.6 0 1 0 1.2 0a0.6 0.6 0 1 0 -1.2 0M602.87 134.72a0.6 0.6 0 1 0 1.2 0a0.6 0.6 0 1 0 -1.2 0M600.28 136.68a0.6 0.6 0 1 0 1.2 0a0.6 0.6 0 1 0 -1.2 0M600.7 138.04a0.6 0.6 0 1 0 1.2 0a0.6 0.6 0 1 0 -1.2 0M601.37 139.38a0.6 0.6 0 1 0 1.2 0a0.6 0.6 0 1 0 -1.2 0M596.94 141.32a0.6 0.6 0 1 0 1.2 0a0.6 0.6 0 1 0 -1.2 0M601.74 142.22a0.6 0.6 0 1 0 1.2 0a0.6 0.6 0 1 0 -1.2 0M600.71 143.72a0.6 0.6 0 1 0 1.2 0a0.6 0.6 0 1 0 -1.2 0M592.71 145.52a0.6 0.6 0 1 0 1.2 0a0.6 0.6 0 1 0 -1.2 0M593.8 146.72a0.6 0.6 0 1 0 1.2 0a0.6 0.6 0 1 0 -1.2 0M597.11 147.96a0.6 0.6 0 1 0 1.2 0a0.6 0.6 0 1 0 -1.2 0M594.66 149.25a0.6 0.6 0 1 0 1.2 0a0.6 0.6 0 1 0 -1.2 0M592.52 150.45a0.6 0.6 0 1 0 1.2 0a0.6 0.6 0 1 0 -1.2 0M600.17 152.11a0.6 0.6 0 1 0 1.2 0a0.6 0.6 0 1 0 -1.2 0M560.34 150.44a0.6 0.6 0 1 0 1.2 0a0.6 0.6 0 1 0 -1.2 0M602.2 155.11a0.6 0.6 0 1 0 1.2 0a0.6 0.6 0 1 0 -1.2 0M606.07 157.02a0.6 0.6 0 1 0 1.2 0a0.6 0.6 0 1 0 -1.2 0M605.39 158.46a0.6 0.6 0 1 0 1.2 0a0.6 0.6 0 1 0 -1.2 0M601.79 159.41a0.6 0.6 0 1 0 1.2 0a0.6 0.6 0 1 0 -1.2 0M608.13 162.04a0.6 0.6 0 1 0 1.2 0a0.6 0.6 0 1 0 -1.2 0M599.63 161.91a0.6 0.6 0 1 0 1.2 0a0.6 0.6 0 1 0 -1.2 0M605.56 164.7a0.6 0.6 0 1 0 1.2 0a0.6 0.6 0 1 0 -1.2 0M603.5 165.78a0.6 0.6 0 1 0 1.2 0a0.6 0.6 0 1 0 -1.2 0M603.61 167.37a0.6 0.6 0 1 0 1.2 0a0.6 0.6 0 1 0 -1.2 0M598.38 167.41a0.6 0.6 0 1 0 1.2 0a0.6 0.6 0 1 0 -1.2 0M592.27 166.95a0.6 0.6 0 1 0 1.2 0a0.6 0.6 0 1 0 -1.2 0M594.83 169.18a0.6 0.6 0 1 0 1.2 0a0.6 0.6 0 1 0 -1.2 0M569.18 161.28a0.6 0.6 0 1 0 1.2 0a0.6 0.6 0 1 0 -1.2 0M580.04 166.34a0.6 0.6 0 1 0 1.2 0a0.6 0.6 0 1 0 -1.2 0M595.29 173.74a0.6 0.6 0 1 0 1.2 0a0.6 0.6 0 1 0 -1.2 0M599.11 176.93a0.6 0.6 0 1 0 1.2 0a0.6 0.6 0 1 0 -1.2 0M594.39 176.4a0.6 0.6 0 1 0 1.2 0a0.6 0.6 0 1 0 -1.2 0M598.4 179.91a0.6 0.6 0 1 0 1.2 0a0.6 0.6 0 1 0 -1.2 0M591.99 178.3a0.6 0.6 0 1 0 1.2 0a0.6 0.6 0 1 0 -1.2 0M589.87 178.72a0.6 0.6 0 1 0 1.2 0a0.6 0.6 0 1 0 -1.2 0M590.75 180.75a0.6 0.6 0 1 0 1.2 0a0.6 0.6 0 1 0 -1.2 0M596.09 185.53a0.6 0.6 0 1 0 1.2 0a0.6 0.6 0 1 0 -1.2 0M593.79 185.89a0.6 0.6 0 1 0 1.2 0a0.6 0.6 0 1 0 -1.2 0M593.5 187.46a0.6 0.6 0 1 0 1.2 0a0.6 0.6 0 1 0 -1.2 0M592.21 188.39a0.6 0.6 0 1 0 1.2 0a0.6 0.6 0 1 0 -1.2 0M591.7 189.85a0.6 0.6 0 1 0 1.2 0a0.6 0.6 0 1 0 -1.2 0M552.61 162.47a0.6 0.6 0 1 0 1.2 0a0.6 0.6 0 1 0 -1.2 0M571.28 177.68a0.6 0.6 0 1 0 1.2 0a0.6 0.6 0 1 0 -1.2 0M562.83 172.08a0.6 0.6 0 1 0 1.2 0a0.6 0.6 0 1 0 -1.2 0M583.31 190.54a0.6 0.6 0 1 0 1.2 0a0.6 0.6 0 1 0 -1.2 0M586.32 195.03a0.6 0.6 0 1 0 1.2 0a0.6 0.6 0 1 0 -1.2 0M586.04 196.78a0.6 0.6 0 1 0 1.2 0a0.6 0.6 0 1 0 -1.2 0M583.32 196.22a0.6 0.6 0 1 0 1.2 0a0.6 0.6 0 1 0 -1.2 0M581.75 196.68a0.6 0.6 0 1 0 1.2 0a0.6 0.6 0 1 0 -1.2 0M576.42 193.15a0.6 0.6 0 1 0 1.2 0a0.6 0.6 0 1 0 -1.2 0M574.57 193.05a0.6 0.6 0 1 0 1.2 0a0.6 0.6 0 1 0 -1.2 0M574 194.32a0.6 0.6 0 1 0 1.2 0a0.6 0.6 0 1 0 -1.2 0M575.31 197.87a0.6 0.6 0 1 0 1.2 0a0.6 0.6 0 1 0 -1.2 0M577.39 202.62a0.6 0.6 0 1 0 1.2 0a0.6 0.6 0 1 0 -1.2 0M578.12 205.95a0.6 0.6 0 1 0 1.2 0a0.6 0.6 0 1 0 -1.2 0M574.82 204.04a0.6 0.6 0 1 0 1.2 0a0.6 0.6 0 1 0 -1.2 0M573.81 205.12a0.6 0.6 0 1 0 1.2 0a0.6 0.6 0 1 0 -1.2 0M576.6 211.86a0.6 0.6 0 1 0 1.2 0a0.6 0.6 0 1 0 -1.2 0M576.79 215.11a0.6 0.6 0 1 0 1.2 0a0.6 0.6 0 1 0 -1.2 0M573.65 213.18a0.6 0.6 0 1 0 1.2 0a0.6 0.6 0 1 0 -1.2 0M573.4 215.9a0.6 0.6 0 1 0 1.2 0a0.6 0.6 0 1 0 -1.2 0M570.22 213.56a0.6 0.6 0 1 0 1.2 0a0.6 0.6 0 1 0 -1.2 0M568.86 214.33a0.6 0.6 0 1 0 1.2 0a0.6 0.6 0 1 0 -1.2 0M567.31 214.74a0.6 0.6 0 1 0 1.2 0a0.6 0.6 0 1 0 -1.2 0M552.93 188.32a0.6 0.6 0 1 0 1.2 0a0.6 0.6 0 1 0 -1.2 0M549.44 182.89a0.6 0.6 0 1 0 1.2 0a0.6 0.6 0 1 0 -1.2 0M562.04 214.3a0.6 0.6 0 1 0 1.2 0a0.6 0.6 0 1 0 -1.2 0M559.23 211.34a0.6 0.6 0 1 0 1.2 0a0.6 0.6 0 1 0 -1.2 0M556.95 209.35a0.6 0.6 0 1 0 1.2 0a0.6 0.6 0 1 0 -1.2 0M556.56 212.33a0.6 0.6 0 1 0 1.2 0a0.6 0.6 0 1 0 -1.2 0M555 212.12a0.6 0.6 0 1 0 1.2 0a0.6 0.6 0 1 0 -1.2 0M552.28 208.09a0.6 0.6 0 1 0 1.2 0a0.6 0.6 0 1 0 -1.2 0M549.02 201.49a0.6 0.6 0 1 0 1.2 0a0.6 0.6 0 1 0 -1.2 0M543.25 184.18a0.6 0.6 0 1 0 1.2 0a0.6 0.6 0 1 0 -1.2 0M547.9 206.7a0.6 0.6 0 1 0 1.2 0a0.6 0.6 0 1 0 -1.2 0M547.02 208.51a0.6 0.6 0 1 0 1.2 0a0.6 0.6 0 1 0 -1.2 0M545.16 205.78a0.6 0.6 0 1 0 1.2 0a0.6 0.6 0 1 0 -1.2 0M544.25 207.68a0.6 0.6 0 1 0 1.2 0a0.6 0.6 0 1 0 -1.2 0M543.1 208.46a0.6 0.6 0 1 0 1.2 0a0.6 0.6 0 1 0 -1.2 0M541 202.37a0.6 0.6 0 1 0 1.2 0a0.6 0.6 0 1 0 -1.2 0M539.75 201.43a0.6 0.6 0 1 0 1.2 0a0.6 0.6 0 1 0 -1.2 0M538.22 196.95a0.6 0.6 0 1 0 1.2 0a0.6 0.6 0 1 0 -1.2 0M537.69 204.07a0.6 0.6 0 1 0 1.2 0a0.6 0.6 0 1 0 -1.2 0M536.19 197.22a0.6 0.6 0 1 0 1.2 0a0.6 0.6 0 1 0 -1.2 0M535.23 199.7a0.6 0.6 0 1 0 1.2 0a0.6 0.6 0 1 0 -1.2 0M534.2 205.33a0.6 0.6 0 1 0 1.2 0a0.6 0.6 0 1 0 -1.2 0M532.98 206.79a0.6 0.6 0 1 0 1.2 0a0.6 0.6 0 1 0 -1.2 0M531.62 210.73a0.6 0.6 0 1 0 1.2 0a0.6 0.6 0 1 0 -1.2 0M530.59 205.73a0.6 0.6 0 1 0 1.2 0a0.6 0.6 0 1 0 -1.2 0M528.52 216.99a0.6 0.6 0 1 0 1.2 0a0.6 0.6 0 1 0 -1.2 0M527.06 217.17a0.6 0.6 0 1 0 1.2 0a0.6 0.6 0 1 0 -1.2 0M526.15 212.52a0.6 0.6 0 1 0 1.2 0a0.6 0.6 0 1 0 -1.2 0M523.76 219.81a0.6 0.6 0 1 0 1.2 0a0.6 0.6 0 1 0 -1.2 0M522.49 218.22a0.6 0.6 0 1 0 1.2 0a0.6 0.6 0 1 0 -1.2 0M520.98 218.25a0.6 0.6 0 1 0 1.2 0a0.6 0.6 0 1 0 -1.2 0M519.98 215.72a0.6 0.6 0 1 0 1.2 0a0.6 0.6 0 1 0 -1.2 0M519.08 213.19a0.6 0.6 0 1 0 1.2 0a0.6 0.6 0 1 0 -1.2 0M517.25 214.77a0.6 0.6 0 1 0 1.2 0a0.6 0.6 0 1 0 -1.2 0M515.6 215.38a0.6 0.6 0 1 0 1.2 0a0.6 0.6 0 1 0 -1.2 0M515.18 211.65a0.6 0.6 0 1 0 1.2 0a0.6 0.6 0 1 0 -1.2 0M513.1 213.67a0.6 0.6 0 1 0 1.2 0a0.6 0.6 0 1 0 -1.2 0M513.47 208.12a0.6 0.6 0 1 0 1.2 0a0.6 0.6 0 1 0 -1.2 0M511.73 209.04a0.6 0.6 0 1 0 1.2 0a0.6 0.6 0 1 0 -1.2 0M510.74 207.85a0.6 0.6 0 1 0 1.2 0a0.6 0.6 0 1 0 -1.2 0M509.69 206.89a0.6 0.6 0 1 0 1.2 0a0.6 0.6 0 1 0 -1.2 0M506.64 210.58a0.6 0.6 0 1 0 1.2 0a0.6 0.6 0 1 0 -1.2 0M506.1 208.35a0.6 0.6 0 1 0 1.2 0a0.6 0.6 0 1 0 -1.2 0M506.78 203.8a0.6 0.6 0 1 0 1.2 0a0.6 0.6 0 1 0 -1.2 0M505.14 204.17a0.6 0.6 0 1 0 1.2 0a0.6 0.6 0 1 0 -1.2 0M500.75 209.52a0.6 0.6 0 1 0 1.2 0a0.6 0.6 0 1 0 -1.2 0M502.31 203.82a0.6 0.6 0 1 0 1.2 0a0.6 0.6 0 1 0 -1.2 0M499.88 205.31a0.6 0.6 0 1 0 1.2 0a0.6 0.6 0 1 0 -1.2 0M499.96 202.55a0.6 0.6 0 1 0 1.2 0a0.6 0.6 0 1 0 -1.2 0M496.16 205.91a0.6 0.6 0 1 0 1.2 0a0.6 0.6 0 1 0 -1.2 0M494.45 205.87a0.6 0.6 0 1 0 1.2 0a0.6 0.6 0 1 0 -1.2 0M495.59 201.77a0.6 0.6 0 1 0 1.2 0a0.6 0.6 0 1 0 -1.2 0M493.27 202.58a0.6 0.6 0 1 0 1.2 0a0.6 0.6 0 1 0 -1.2 0M496.4 196.27a0.6 0.6 0 1 0 1.2 0a0.6 0.6 0 1 0 -1.2 0M493.44 197.89a0.6 0.6 0 1 0 1.2 0a0.6 0.6 0 1 0 -1.2 0M490.31 199.5a0.6 0.6 0 1 0 1.2 0a0.6 0.6 0 1 0 -1.2 0M486.05 202.18a0.6 0.6 0 1 0 1.2 0a0.6 0.6 0 1 0 -1.2 0M485.54 200.52a0.6 0.6 0 1 0 1.2 0a0.6 0.6 0 1 0 -1.2 0M511.43 171.56a0.6 0.6 0 1 0 1.2 0a0.6 0.6 0 1 0 -1.2 0M485.68 196.19a0.6 0.6 0 1 0 1.2 0a0.6 0.6 0 1 0 -1.2 0M513.28 167.94a0.6 0.6 0 1 0 1.2 0a0.6 0.6 0 1 0 -1.2 0M489.63 188.74a0.6 0.6 0 1 0 1.2 0a0.6 0.6 0 1 0 -1.2 0M486.74 189.6a0.6 0.6 0 1 0 1.2 0a0.6 0.6 0 1 0 -1.2 0M480.25 193.33a0.6 0.6 0 1 0 1.2 0a0.6 0.6 0 1 0 -1.2 0M484.07 188.39a0.6 0.6 0 1 0 1.2 0a0.6 0.6 0 1 0 -1.2 0M477.74 191.58a0.6 0.6 0 1 0 1.2 0a0.6 0.6 0 1 0 -1.2 0M477.18 190.14a0.6 0.6 0 1 0 1.2 0a0.6 0.6 0 1 0 -1.2 0M485.61 182.39a0.6 0.6 0 1 0 1.2 0a0.6 0.6 0 1 0 -1.2 0M472.34 189.85a0.6 0.6 0 1 0 1.2 0a0.6 0.6 0 1 0 -1.2 0M474.73 186.47a0.6 0.6 0 1 0 1.2 0a0.6 0.6 0 1 0 -1.2 0M466.33 189.91a0.6 0.6 0 1 0 1.2 0a0.6 0.6 0 1 0 -1.2 0M463.24 189.8a0.6 0.6 0 1 0 1.2 0a0.6 0.6 0 1 0 -1.2 0M459.55 189.9a0.6 0.6 0 1 0 1.2 0a0.6 0.6 0 1 0 -1.2 0M459.5 187.9a0.6 0.6 0 1 0 1.2 0a0.6 0.6 0 1 0 -1.2 0M451.08 190.19a0.6 0.6 0 1 0 1.2 0a0.6 0.6 0 1 0 -1.2 0M458.97 184.25a0.6 0.6 0 1 0 1.2 0a0.6 0.6 0 1 0 -1.2 0M449.4 186.69a0.6 0.6 0 1 0 1.2 0a0.6 0.6 0 1 0 -1.2 0M450.3 184.19a0.6 0.6 0 1 0 1.2 0a0.6 0.6 0 1 0 -1.2 0M448.77 182.76a0.6 0.6 0 1 0 1.2 0a0.6 0.6 0 1 0 -1.2 0M451.18 179.78a0.6 0.6 0 1 0 1.2 0a0.6 0.6 0 1 0 -1.2 0M450.44 178.08a0.6 0.6 0 1 0 1.2 0a0.6 0.6 0 1 0 -1.2 0M445.18 177.88a0.6 0.6 0 1 0 1.2 0a0.6 0.6 0 1 0 -1.2 0M445.4 175.76a0.6 0.6 0 1 0 1.2 0a0.6 0.6 0 1 0 -1.2 0M448.87 172.75a0.6 0.6 0 1 0 1.2 0a0.6 0.6 0 1 0 -1.2 0M443.93 172.14a0.6 0.6 0 1 0 1.2 0a0.6 0.6 0 1 0 -1.2 0M441.2 170.8a0.6 0.6 0 1 0 1.2 0a0.6 0.6 0 1 0 -1.2 0M447.25 167.43a0.6 0.6 0 1 0 1.2 0a0.6 0.6 0 1 0 -1.2 0M445.16 165.95a0.6 0.6 0 1 0 1.2 0a0.6 0.6 0 1 0 -1.2 0M442.37 164.52a0.6 0.6 0 1 0 1.2 0a0.6 0.6 0 1 0 -1.2 0M439.14 163.05a0.6 0.6 0 1 0 1.2 0a0.6 0.6 0 1 0 -1.2 0M439.05 161.04a0.6 0.6 0 1 0 1.2 0a0.6 0.6 0 1 0 -1.2 0M443.68 158.51a0.6 0.6 0 1 0 1.2 0a0.6 0.6 0 1 0 -1.2 0M436.96 157.21a0.6 0.6 0 1 0 1.2 0a0.6 0.6 0 1 0 -1.2 0M444.12 154.67a0.6 0.6 0 1 0 1.2 0a0.6 0.6 0 1 0 -1.2 0M437.89 153.09a0.6 0.6 0 1 0 1.2 0a0.6 0.6 0 1 0 -1.2 0M435.81 151.14a0.6 0.6 0 1 0 1.2 0a0.6 0.6 0 1 0 -1.2 0M436.65 149.08a0.6 0.6 0 1 0 1.2 0a0.6 0.6 0 1 0 -1.2 0M442.47 147.12a0.6 0.6 0 1 0 1.2 0a0.6 0.6 0 1 0 -1.2 0M439.38 145.1a0.6 0.6 0 1 0 1.2 0a0.6 0.6 0 1 0 -1.2 0M440.7 143.2a0.6 0.6 0 1 0 1.2 0a0.6 0.6 0 1 0 -1.2 0M436.62 140.92a0.6 0.6 0 1 0 1.2 0a0.6 0.6 0 1 0 -1.2 0M437.69 138.98a0.6 0.6 0 1 0 1.2 0a0.6 0.6 0 1 0 -1.2 0M439.88 137.2a0.6 0.6 0 1 0 1.2 0a0.6 0.6 0 1 0 -1.2 0M443.36 135.69a0.6 0.6 0 1 0 1.2 0a0.6 0.6 0 1 0 -1.2 0M440.25 133.25a0.6 0.6 0 1 0 1.2 0a0.6 0.6 0 1 0 -1.2 0M441.87 131.53a0.6 0.6 0 1 0 1.2 0a0.6 0.6 0 1 0 -1.2 0M445.17 130.21a0.6 0.6 0 1 0 1.2 0a0.6 0.6 0 1 0 -1.2 0M442.15 127.58a0.6 0.6 0 1 0 1.2 0a0.6 0.6 0 1 0 -1.2 0M440.18 125.06a0.6 0.6 0 1 0 1.2 0a0.6 0.6 0 1 0 -1.2 0M445.43 124.39a0.6 0.6 0 1 0 1.2 0a0.6 0.6 0 1 0 -1.2 0M442.91 121.65a0.6 0.6 0 1 0 1.2 0a0.6 0.6 0 1 0 -1.2 0M444.01 119.92a0.6 0.6 0 1 0 1.2 0a0.6 0.6 0 1 0 -1.2 0M444.64 118.05a0.6 0.6 0 1 0 1.2 0a0.6 0.6 0 1 0 -1.2 0M449.63 117.77a0.6 0.6 0 1 0 1.2 0a0.6 0.6 0 1 0 -1.2 0M454.23 117.54a0.6 0.6 0 1 0 1.2 0a0.6 0.6 0 1 0 -1.2 0M449.79 113.77a0.6 0.6 0 1 0 1.2 0a0.6 0.6 0 1 0 -1.2 0M451.79 112.57a0.6 0.6 0 1 0 1.2 0a0.6 0.6 0 1 0 -1.2 0M452.66 110.91a0.6 0.6 0 1 0 1.2 0a0.6 0.6 0 1 0 -1.2 0M452.97 108.98a0.6 0.6 0 1 0 1.2 0a0.6 0.6 0 1 0 -1.2 0M460.07 110.51a0.6 0.6 0 1 0 1.2 0a0.6 0.6 0 1 0 -1.2 0M488.07 123.67a0.6 0.6 0 1 0 1.2 0a0.6 0.6 0 1 0 -1.2 0M459.4 106.13a0.6 0.6 0 1 0 1.2 0a0.6 0.6 0 1 0 -1.2 0M458.71 103.64a0.6 0.6 0 1 0 1.2 0a0.6 0.6 0 1 0 -1.2 0M458.78 101.52a0.6 0.6 0 1 0 1.2 0a0.6 0.6 0 1 0 -1.2 0M463.66 102.5a0.6 0.6 0 1 0 1.2 0a0.6 0.6 0 1 0 -1.2 0M460.11 97.95a0.6 0.6 0 1 0 1.2 0a0.6 0.6 0 1 0 -1.2 0M460.3 95.78a0.6 0.6 0 1 0 1.2 0a0.6 0.6 0 1 0 -1.2 0M462.16 94.8a0.6 0.6 0 1 0 1.2 0a0.6 0.6 0 1 0 -1.2 0M466.38 95.73a0.6 0.6 0 1 0 1.2 0a0.6 0.6 0 1 0 -1.2 0M465.43 92.64a0.6 0.6 0 1 0 1.2 0a0.6 0.6 0 1 0 -1.2 0M472.77 96.46a0.6 0.6 0 1 0 1.2 0a0.6 0.6 0 1 0 -1.2 0M496.35 115.15a0.6 0.6 0 1 0 1.2 0a0.6 0.6 0 1 0 -1.2 0M471.64 90.84a0.6 0.6 0 1 0 1.2 0a0.6 0.6 0 1 0 -1.2 0M473.74 90.4a0.6 0.6 0 1 0 1.2 0a0.6 0.6 0 1 0 -1.2 0M478.26 92.47a0.6 0.6 0 1 0 1.2 0a0.6 0.6 0 1 0 -1.2 0M474.42 86.04a0.6 0.6 0 1 0 1.2 0a0.6 0.6 0 1 0 -1.2 0M480.14 89.63a0.6 0.6 0 1 0 1.2 0a0.6 0.6 0 1 0 -1.2 0M479.07 85.88a0.6 0.6 0 1 0 1.2 0a0.6 0.6 0 1 0 -1.2 0M484.29 89.4a0.6 0.6 0 1 0 1.2 0a0.6 0.6 0 1 0 -1.2 0M483.53 85.88a0.6 0.6 0 1 0 1.2 0a0.6 0.6 0 1 0 -1.2 0M490.86 92.63a0.6 0.6 0 1 0 1.2 0a0.6 0.6 0 1 0 -1.2 0M487.52 85.63a0.6 0.6 0 1 0 1.2 0a0.6 0.6 0 1 0 -1.2 0M486.32 81.09a0.6 0.6 0 1 0 1.2 0a0.6 0.6 0 1 0 -1.2 0M489.85 83.24a0.6 0.6 0 1 0 1.2 0a0.6 0.6 0 1 0 -1.2 0M487.43 76.45a0.6 0.6 0 1 0 1.2 0a0.6 0.6 0 1 0 -1.2 0M489.99 77.19a0.6 0.6 0 1 0 1.2 0a0.6 0.6 0 1 0 -1.2 0M492.84 78.59a0.6 0.6 0 1 0 1.2 0a0.6 0.6 0 1 0 -1.2 0M496.64 81.91a0.6 0.6 0 1 0 1.2 0a0.6 0.6 0 1 0 -1.2 0M495.88 77.09a0.6 0.6 0 1 0 1.2 0a0.6 0.6 0 1 0 -1.2 0M497.92 77.38a0.6 0.6 0 1 0 1.2 0a0.6 0.6 0 1 0 -1.2 0M497.35 72.33a0.6 0.6 0 1 0 1.2 0a0.6 0.6 0 1 0 -1.2 0M500.68 75.4a0.6 0.6 0 1 0 1.2 0a0.6 0.6 0 1 0 -1.2 0M501.7 73.51a0.6 0.6 0 1 0 1.2 0a0.6 0.6 0 1 0 -1.2 0M503.45 73.28a0.6 0.6 0 1 0 1.2 0a0.6 0.6 0 1 0 -1.2 0M503.91 69.73a0.6 0.6 0 1 0 1.2 0a0.6 0.6 0 1 0 -1.2 0M505.44 68.74a0.6 0.6 0 1 0 1.2 0a0.6 0.6 0 1 0 -1.2 0M507.74 70.06a0.6 0.6 0 1 0 1.2 0a0.6 0.6 0 1 0 -1.2 0M509.88 71.12a0.6 0.6 0 1 0 1.2 0a0.6 0.6 0 1 0 -1.2 0M511.84 71.82a0.6 0.6 0 1 0 1.2 0a0.6 0.6 0 1 0 -1.2 0M512.89 69.24a0.6 0.6 0 1 0 1.2 0a0.6 0.6 0 1 0 -1.2 0M514.06 66.8a0.6 0.6 0 1 0 1.2 0a0.6 0.6 0 1 0 -1.2 0M517.04 72.19a0.6 0.6 0 1 0 1.2 0a0.6 0.6 0 1 0 -1.2 0M518.05 68.86a0.6 0.6 0 1 0 1.2 0a0.6 0.6 0 1 0 -1.2 0M520.57 73.35a0.6 0.6 0 1 0 1.2 0a0.6 0.6 0 1 0 -1.2 0M522.04 72.43a0.6 0.6 0 1 0 1.2 0a0.6 0.6 0 1 0 -1.2 0M529.93 119.41a0.6 0.6 0 1 0 1.2 0a0.6 0.6 0 1 0 -1.2 0M525.27 72.36a0.6 0.6 0 1 0 1.2 0a0.6 0.6 0 1 0 -1.2 0M526.96 73.27a0.6 0.6 0 1 0 1.2 0a0.6 0.6 0 1 0 -1.2 0M528.4 71.13a0.6 0.6 0 1 0 1.2 0a0.6 0.6 0 1 0 -1.2 0M530.34 77.75a0.6 0.6 0 1 0 1.2 0a0.6 0.6 0 1 0 -1.2 0M531.64 70.97a0.6 0.6 0 1 0 1.2 0a0.6 0.6 0 1 0 -1.2 0" fill="#262626"/>
<g font-size="2.65" font-weight="bold" fill="#0a0a0a">
<text transform="translate(533.41 7.23) rotate(89.6)" textLength="14.17" lengthAdjust="spacingAndGlyphs" dy="0.8">IC607609-A-4</text>
<text transform="translate(536.17 21.41) rotate(-89.2)" textLength="15.37" lengthAdjust="spacingAndGlyphs" dy="0.8">IC021606-A-631</text>
<text transform="translate(538.83 21.48) rotate(-88)" textLength="14" lengthAdjust="spacingAndGlyphs" dy="0.8">IC452656-A-039</text>
<text transform="translate(541.49 21.6) rotate(-86.8)" textLength="14.02" lengthAdjust="spacingAndGlyphs" dy="0.8">IRGC65549-23</text>
<text transform="translate(544.14 21.77) rotate(-85.6)" textLength="15.44" lengthAdjust="spacingAndGlyphs" dy="0.8">IRGC32743-29</text>
<text transform="translate(546.79 22.01) rotate(-84.4)" textLength="14.1" lengthAdjust="spacingAndGlyphs" dy="0.8">EC897264-B-69</text>
<text transform="translate(549.44 22.29) rotate(-83.2)" textLength="15.17" lengthAdjust="spacingAndGlyphs" dy="0.8">IC139554-A-68</text>
<text transform="translate(552.07 22.64) rotate(-82)" textLength="15.05" lengthAdjust="spacingAndGlyphs" dy="0.8">IC581459-A-33</text>
<text transform="translate(554.7 23.03) rotate(-80.8)" textLength="13.69" lengthAdjust="spacingAndGlyphs" dy="0.8">EC338359-B-47</text>
<text transform="translate(557.33 23.49) rotate(-79.6)" textLength="15.67" lengthAdjust="spacingAndGlyphs" dy="0.8">EC118909-B-60</text>
<text transform="translate(559.94 23.99) rotate(-78.4)" textLength="13.37" lengthAdjust="spacingAndGlyphs" dy="0.8">EC894495-B-28</text>
<text transform="translate(562.54 24.56) rotate(-77.2)" textLength="15.14" lengthAdjust="spacingAndGlyphs" dy="0.8">EC276483-B-29</text>
<text transform="translate(565.12 25.17) rotate(-76)" textLength="14.56" lengthAdjust="spacingAndGlyphs" dy="0.8">IRGC13509-70</text>
<text transform="translate(567.7 25.84) rotate(-74.8)" textLength="15.4" lengthAdjust="spacingAndGlyphs" dy="0.8">IC196564-A-96</text>
<text transform="translate(570.26 26.57) rotate(-73.6)" textLength="14.51" lengthAdjust="spacingAndGlyphs" dy="0.8">IC314714-A-139</text>
<text transform="translate(572.8 27.34) rotate(-72.4)" textLength="14.75" lengthAdjust="spacingAndGlyphs" dy="0.8">IC395601-A-023</text>
<text transform="translate(575.33 28.18) rotate(-71.2)" textLength="14.11" lengthAdjust="spacingAndGlyphs" dy="0.8">IRGC13528-12</text>
<text transform="translate(577.84 29.06) rotate(-70)" textLength="13.31" lengthAdjust="spacingAndGlyphs" dy="0.8">IRGC01536-63</text>
<text transform="translate(580.33 29.99) rotate(-68.8)" textLength="14.93" lengthAdjust="spacingAndGlyphs" dy="0.8">IC184327-A-1</text>
<text transform="translate(582.8 30.98) rotate(-67.6)" textLength="15.48" lengthAdjust="spacingAndGlyphs" dy="0.8">IC782233-A-746</text>
<text transform="translate(585.24 32.02) rotate(-66.4)" textLength="13.07" lengthAdjust="spacingAndGlyphs" dy="0.8">IC394512-A-9</text>
<text transform="translate(587.67 33.11) rotate(-65.2)" textLength="15.62" lengthAdjust="spacingAndGlyphs" dy="0.8">IC312285-A-386</text>
<text transform="translate(590.07 34.25) rotate(-64)" textLength="15.5" lengthAdjust="spacingAndGlyphs" dy="0.8">IC738731-A-99</text>
<text transform="translate(592.45 35.44) rotate(-62.8)" textLength="14.08" lengthAdjust="spacingAndGlyphs" dy="0.8">IC841276-A-9</text>
<text transform="translate(594.8 36.68) rotate(-61.6)" textLength="13.66" lengthAdjust="spacingAndGlyphs" dy="0.8">EC862117-B-02</text>
<text transform="translate(597.13 37.97) rotate(-60.4)" textLength="14.6" lengthAdjust="spacingAndGlyphs" dy="0.8">EC577411-B-59</text>
<text transform="translate(599.43 39.31) rotate(-59.2)" textLength="15.41" lengthAdjust="spacingAndGlyphs" dy="0.8">IC550124-A-0</text>
<text transform="translate(601.7 40.7) rotate(-58)" textLength="13.96" lengthAdjust="spacingAndGlyphs" dy="0.8">IRGC97066-04</text>
<text transform="translate(603.94 42.13) rotate(-56.8)" textLength="13.43" lengthAdjust="spacingAndGlyphs" dy="0.8">EC531594-B-86</text>
<text transform="translate(606.15 43.61) rotate(-55.6)" textLength="15.45" lengthAdjust="spacingAndGlyphs" dy="0.8">IC937816-A-19</text>
<text transform="translate(608.33 45.14) rotate(-54.4)" textLength="14.1" lengthAdjust="spacingAndGlyphs" dy="0.8">IRGC85333-89</text>
<text transform="translate(610.48 46.71) rotate(-53.2)" textLength="15.73" lengthAdjust="spacingAndGlyphs" dy="0.8">EC422903-B-28</text>
<text transform="translate(612.59 48.32) rotate(-52)" textLength="14.07" lengthAdjust="spacingAndGlyphs" dy="0.8">IC696788-A-68</text>
<text transform="translate(614.67 49.98) rotate(-50.8)" textLength="14.18" lengthAdjust="spacingAndGlyphs" dy="0.8">EC199511-B-69</text>
<text transform="translate(616.71 51.68) rotate(-49.6)" textLength="13.45" lengthAdjust="spacingAndGlyphs" dy="0.8">IRGC41379-97</text>
<text transform="translate(618.72 53.43) rotate(-48.4)" textLength="13.21" lengthAdjust="spacingAndGlyphs" dy="0.8">IC673740-A-944</text>
<text transform="translate(620.69 55.22) rotate(-47.2)" textLength="14.72" lengthAdjust="spacingAndGlyphs" dy="0.8">IRGC30076-86</text>
<text transform="translate(622.62 57.04) rotate(-46)" textLength="13.5" lengthAdjust="spacingAndGlyphs" dy="0.8">IC602066-A-13</text>
<text transform="translate(624.52 58.91) rotate(-44.8)" textLength="13.87" lengthAdjust="spacingAndGlyphs" dy="0.8">IRGC25195-50</text>
<text transform="translate(626.37 60.82) rotate(-43.6)" textLength="15" lengthAdjust="spacingAndGlyphs" dy="0.8">IRGC94750-36</text>
<text transform="translate(628.18 62.76) rotate(-42.4)" textLength="13.19" lengthAdjust="spacingAndGlyphs" dy="0.8">EC040135-B-97</text>
<text transform="translate(629.96 64.75) rotate(-41.2)" textLength="14.87" lengthAdjust="spacingAndGlyphs" dy="0.8">IRGC06047-82</text>
<text transform="translate(631.69 66.77) rotate(-40)" textLength="13.69" lengthAdjust="spacingAndGlyphs" dy="0.8">IC681111-A-0</text>
<text transform="translate(633.38 68.82) rotate(-38.8)" textLength="14.83" lengthAdjust="spacingAndGlyphs" dy="0.8">IC780631-A-17</text>
<text transform="translate(635.02 70.91) rotate(-37.6)" textLength="13.93" lengthAdjust="spacingAndGlyphs" dy="0.8">IRGC62525-58</text>
<text transform="translate(636.62 73.04) rotate(-36.4)" textLength="15.45" lengthAdjust="spacingAndGlyphs" dy="0.8">IC271525-A-1</text>
<text transform="translate(638.18 75.19) rotate(-35.2)" textLength="13.54" lengthAdjust="spacingAndGlyphs" dy="0.8">IC849784-A-161</text>
<text transform="translate(639.69 77.38) rotate(-34)" textLength="14.47" lengthAdjust="spacingAndGlyphs" dy="0.8">EC934532-B-29</text>
<text transform="translate(641.15 79.6) rotate(-32.8)" textLength="14.12" lengthAdjust="spacingAndGlyphs" dy="0.8">IRGC23553-12</text>
<text transform="translate(642.57 81.85) rotate(-31.6)" textLength="13.94" lengthAdjust="spacingAndGlyphs" dy="0.8">IC440575-A-84</text>
<text transform="translate(643.94 84.13) rotate(-30.4)" textLength="13.63" lengthAdjust="spacingAndGlyphs" dy="0.8">IRGC91534-97</text>
<text transform="translate(645.26 86.44) rotate(-29.2)" textLength="14.86" lengthAdjust="spacingAndGlyphs" dy="0.8">IC351718-A-25</text>
<text transform="translate(646.53 88.78) rotate(-28)" textLength="14.69" lengthAdjust="spacingAndGlyphs" dy="0.8">IC094034-A-42</text>
<text transform="translate(647.76 91.14) rotate(-26.8)" textLength="13.61" lengthAdjust="spacingAndGlyphs" dy="0.8">IRGC25859-88</text>
<text transform="translate(648.93 93.53) rotate(-25.6)" textLength="14.59" lengthAdjust="spacingAndGlyphs" dy="0.8">IC561639-A-4</text>
<text transform="translate(650.06 95.94) rotate(-24.4)" textLength="13.79" lengthAdjust="spacingAndGlyphs" dy="0.8">IRGC28077-45</text>
<text transform="translate(651.13 98.37) rotate(-23.2)" textLength="13.45" lengthAdjust="spacingAndGlyphs" dy="0.8">IC101618-A-9</text>
<text transform="translate(652.15 100.82) rotate(-22)" textLength="13.67" lengthAdjust="spacingAndGlyphs" dy="0.8">IRGC34596-06</text>
<text transform="translate(653.12 103.3) rotate(-20.8)" textLength="15.07" lengthAdjust="spacingAndGlyphs" dy="0.8">IC884442-A-03</text>
<text transform="translate(654.04 105.8) rotate(-19.6)" textLength="13.67" lengthAdjust="spacingAndGlyphs" dy="0.8">IC391607-A-87</text>
<text transform="translate(654.91 108.31) rotate(-18.4)" textLength="14.66" lengthAdjust="spacingAndGlyphs" dy="0.8">IC848503-A-389</text>
<text transform="translate(655.72 110.85) rotate(-17.2)" textLength="15.12" lengthAdjust="spacingAndGlyphs" dy="0.8">IRGC90775-25</text>
<text transform="translate(656.48 113.39) rotate(-16)" textLength="13.08" lengthAdjust="spacingAndGlyphs" dy="0.8">IC046875-A-91</text>
<text transform="translate(657.19 115.96) rotate(-14.8)" textLength="14.37" lengthAdjust="spacingAndGlyphs" dy="0.8">IRGC28147-47</text>
<text transform="translate(657.84 118.54) rotate(-13.6)" textLength="13.43" lengthAdjust="spacingAndGlyphs" dy="0.8">IRGC40564-35</text>
<text transform="translate(658.44 121.13) rotate(-12.4)" textLength="13.79" lengthAdjust="spacingAndGlyphs" dy="0.8">IC385100-A-796</text>
<text transform="translate(658.98 123.73) rotate(-11.2)" textLength="13.15" lengthAdjust="spacingAndGlyphs" dy="0.8">IRGC69645-79</text>
<text transform="translate(659.47 126.35) rotate(-10)" textLength="13.98" lengthAdjust="spacingAndGlyphs" dy="0.8">IRGC81293-25</text>
<text transform="translate(659.91 128.97) rotate(-8.8)" textLength="14.41" lengthAdjust="spacingAndGlyphs" dy="0.8">IC488645-A-30</text>
<text transform="translate(660.28 131.6) rotate(-7.6)" textLength="14.62" lengthAdjust="spacingAndGlyphs" dy="0.8">IRGC15946-12</text>
<text transform="translate(660.61 134.24) rotate(-6.4)" textLength="13.85" lengthAdjust="spacingAndGlyphs" dy="0.8">IC122993-A-377</text>
<text transform="translate(660.88 136.89) rotate(-5.2)" textLength="14.05" lengthAdjust="spacingAndGlyphs" dy="0.8">IC859455-A-983</text>
<text transform="translate(661.09 139.54) rotate(-4)" textLength="13.23" lengthAdjust="spacingAndGlyphs" dy="0.8">IC443695-A-71</text>
<text transform="translate(661.25 142.2) rotate(-2.8)" textLength="13.09" lengthAdjust="spacingAndGlyphs" dy="0.8">IC779875-A-75</text>
<text transform="translate(661.35 144.85) rotate(-1.6)" textLength="14.64" lengthAdjust="spacingAndGlyphs" dy="0.8">IC101045-A-87</text>
<text transform="translate(661.4 147.51) rotate(-0.4)" textLength="13.85" lengthAdjust="spacingAndGlyphs" dy="0.8">IRGC50034-97</text>
<text transform="translate(661.39 150.17) rotate(0.8)" textLength="14.79" lengthAdjust="spacingAndGlyphs" dy="0.8">IRGC63956-53</text>
<text transform="translate(661.32 152.83) rotate(2)" textLength="14.84" lengthAdjust="spacingAndGlyphs" dy="0.8">IC338321-A-474</text>
<text transform="translate(661.2 155.49) rotate(3.2)" textLength="14.36" lengthAdjust="spacingAndGlyphs" dy="0.8">IC716674-A-0</text>
<text transform="translate(661.03 158.14) rotate(4.4)" textLength="15.3" lengthAdjust="spacingAndGlyphs" dy="0.8">EC136072-B-60</text>
<text transform="translate(660.79 160.79) rotate(5.6)" textLength="13.04" lengthAdjust="spacingAndGlyphs" dy="0.8">IRGC76509-41</text>
<text transform="translate(660.51 163.44) rotate(6.8)" textLength="15.43" lengthAdjust="spacingAndGlyphs" dy="0.8">IC954318-A-89</text>
<text transform="translate(660.16 166.07) rotate(8)" textLength="15.28" lengthAdjust="spacingAndGlyphs" dy="0.8">EC748168-B-71</text>
<text transform="translate(659.77 168.7) rotate(9.2)" textLength="14.71" lengthAdjust="spacingAndGlyphs" dy="0.8">IC555692-A-54</text>
<text transform="translate(659.31 171.33) rotate(10.4)" textLength="14.04" lengthAdjust="spacingAndGlyphs" dy="0.8">EC871285-B-93</text>
<text transform="translate(658.81 173.94) rotate(11.6)" textLength="13.06" lengthAdjust="spacingAndGlyphs" dy="0.8">IRGC95343-82</text>
<text transform="translate(658.24 176.54) rotate(12.8)" textLength="13.15" lengthAdjust="spacingAndGlyphs" dy="0.8">IC888689-A-9</text>
<text transform="translate(657.63 179.12) rotate(14)" textLength="13.67" lengthAdjust="spacingAndGlyphs" dy="0.8">IRGC89769-55</text>
<text transform="translate(656.96 181.7) rotate(15.2)" textLength="14.08" lengthAdjust="spacingAndGlyphs" dy="0.8">IRGC96166-33</text>
<text transform="translate(656.23 184.26) rotate(16.4)" textLength="14.47" lengthAdjust="spacingAndGlyphs" dy="0.8">IC055005-A-13</text>
<text transform="translate(655.46 186.8) rotate(17.6)" textLength="15.54" lengthAdjust="spacingAndGlyphs" dy="0.8">IC495855-A-68</text>
<text transform="translate(654.62 189.33) rotate(18.8)" textLength="15.55" lengthAdjust="spacingAndGlyphs" dy="0.8">IRGC26486-79</text>
<text transform="translate(653.74 191.84) rotate(20)" textLength="15.15" lengthAdjust="spacingAndGlyphs" dy="0.8">IC788111-A-74</text>
<text transform="translate(652.81 194.33) rotate(21.2)" textLength="15.01" lengthAdjust="spacingAndGlyphs" dy="0.8">IC391797-A-894</text>
<text transform="translate(651.82 196.8) rotate(22.4)" textLength="13.42" lengthAdjust="spacingAndGlyphs" dy="0.8">IC900336-A-79</text>
<text transform="translate(650.78 199.24) rotate(23.6)" textLength="15.74" lengthAdjust="spacingAndGlyphs" dy="0.8">IRGC53240-86</text>
<text transform="translate(649.69 201.67) rotate(24.8)" textLength="13.73" lengthAdjust="spacingAndGlyphs" dy="0.8">IC192653-A-600</text>
<text transform="translate(648.55 204.07) rotate(26)" textLength="15.52" lengthAdjust="spacingAndGlyphs" dy="0.8">IRGC39095-98</text>
<text transform="translate(647.36 206.45) rotate(27.2)" textLength="15.36" lengthAdjust="spacingAndGlyphs" dy="0.8">IC953717-A-81</text>
<text transform="translate(646.12 208.8) rotate(28.4)" textLength="14.23" lengthAdjust="spacingAndGlyphs" dy="0.8">IC389861-A-106</text>
<text transform="translate(644.83 211.13) rotate(29.6)" textLength="15.78" lengthAdjust="spacingAndGlyphs" dy="0.8">IC325757-A-485</text>
<text transform="translate(643.49 213.43) rotate(30.8)" textLength="15.67" lengthAdjust="spacingAndGlyphs" dy="0.8">IRGC06791-85</text>
<text transform="translate(642.1 215.7) rotate(32)" textLength="14.65" lengthAdjust="spacingAndGlyphs" dy="0.8">IC321427-A-8</text>
<text transform="translate(640.67 217.94) rotate(33.2)" textLength="13.06" lengthAdjust="spacingAndGlyphs" dy="0.8">IRGC18249-28</text>
<text transform="translate(639.19 220.15) rotate(34.4)" textLength="13.22" lengthAdjust="spacingAndGlyphs" dy="0.8">IC836807-A-347</text>
<text transform="translate(637.66 222.33) rotate(35.6)" textLength="13.23" lengthAdjust="spacingAndGlyphs" dy="0.8">EC457835-B-13</text>
<text transform="translate(636.09 224.48) rotate(36.8)" textLength="15.78" lengthAdjust="spacingAndGlyphs" dy="0.8">IC138961-A-3</text>
<text transform="translate(634.48 226.59) rotate(38)" textLength="15.69" lengthAdjust="spacingAndGlyphs" dy="0.8">IRGC92412-44</text>
<text transform="translate(632.82 228.67) rotate(39.2)" textLength="15.39" lengthAdjust="spacingAndGlyphs" dy="0.8">IC003959-A-58</text>
<text transform="translate(631.12 230.71) rotate(40.4)" textLength="14.12" lengthAdjust="spacingAndGlyphs" dy="0.8">IRGC68080-50</text>
<text transform="translate(629.37 232.72) rotate(41.6)" textLength="14.75" lengthAdjust="spacingAndGlyphs" dy="0.8">EC122225-B-41</text>
<text transform="translate(627.58 234.69) rotate(42.8)" textLength="14.67" lengthAdjust="spacingAndGlyphs" dy="0.8">IC739610-A-37</text>
<text transform="translate(625.76 236.62) rotate(44)" textLength="15.15" lengthAdjust="spacingAndGlyphs" dy="0.8">IRGC99034-77</text>
<text transform="translate(623.89 238.52) rotate(45.2)" textLength="14.87" lengthAdjust="spacingAndGlyphs" dy="0.8">IC829396-A-6</text>
<text transform="translate(621.98 240.37) rotate(46.4)" textLength="15.61" lengthAdjust="spacingAndGlyphs" dy="0.8">IC887423-A-7</text>
<text transform="translate(620.04 242.18) rotate(47.6)" textLength="13.07" lengthAdjust="spacingAndGlyphs" dy="0.8">IC923645-A-43</text>
<text transform="translate(618.05 243.96) rotate(48.8)" textLength="14.12" lengthAdjust="spacingAndGlyphs" dy="0.8">IC858866-A-537</text>
<text transform="translate(616.03 245.69) rotate(50)" textLength="14.94" lengthAdjust="spacingAndGlyphs" dy="0.8">IC250414-A-11</text>
<text transform="translate(613.98 247.38) rotate(51.2)" textLength="13.86" lengthAdjust="spacingAndGlyphs" dy="0.8">IRGC29533-04</text>
<text transform="translate(611.89 249.02) rotate(52.4)" textLength="13.96" lengthAdjust="spacingAndGlyphs" dy="0.8">IRGC30620-45</text>
<text transform="translate(609.76 250.62) rotate(53.6)" textLength="13.48" lengthAdjust="spacingAndGlyphs" dy="0.8">IRGC58432-41</text>
<text transform="translate(607.61 252.18) rotate(54.8)" textLength="14.06" lengthAdjust="spacingAndGlyphs" dy="0.8">IC956765-A-20</text>
<text transform="translate(605.42 253.69) rotate(56)" textLength="15.06" lengthAdjust="spacingAndGlyphs" dy="0.8">IRGC46812-97</text>
<text transform="translate(603.2 255.15) rotate(57.2)" textLength="13.82" lengthAdjust="spacingAndGlyphs" dy="0.8">IRGC80124-32</text>
<text transform="translate(600.95 256.57) rotate(58.4)" textLength="15.28" lengthAdjust="spacingAndGlyphs" dy="0.8">IC294551-A-26</text>
<text transform="translate(598.67 257.94) rotate(59.6)" textLength="14.29" lengthAdjust="spacingAndGlyphs" dy="0.8">EC894076-B-89</text>
<text transform="translate(596.36 259.26) rotate(60.8)" textLength="14.78" lengthAdjust="spacingAndGlyphs" dy="0.8">IRGC12062-97</text>
<text transform="translate(594.02 260.53) rotate(62)" textLength="13.22" lengthAdjust="spacingAndGlyphs" dy="0.8">EC413183-B-95</text>
<text transform="translate(591.66 261.76) rotate(63.2)" textLength="13.3" lengthAdjust="spacingAndGlyphs" dy="0.8">IC428309-A-478</text>
<text transform="translate(589.27 262.93) rotate(64.4)" textLength="13.09" lengthAdjust="spacingAndGlyphs" dy="0.8">IRGC08321-68</text>
<text transform="translate(586.86 264.06) rotate(65.6)" textLength="13.7" lengthAdjust="spacingAndGlyphs" dy="0.8">EC444250-B-32</text>
<text transform="translate(584.43 265.13) rotate(66.8)" textLength="13.25" lengthAdjust="spacingAndGlyphs" dy="0.8">IRGC08259-97</text>
<text transform="translate(581.98 266.15) rotate(68)" textLength="14" lengthAdjust="spacingAndGlyphs" dy="0.8">IC173343-A-102</text>
<text transform="translate(579.5 267.12) rotate(69.2)" textLength="13.79" lengthAdjust="spacingAndGlyphs" dy="0.8">IC712234-A-6</text>
<text transform="translate(577 268.04) rotate(70.4)" textLength="14.85" lengthAdjust="spacingAndGlyphs" dy="0.8">IRGC29830-16</text>
<text transform="translate(574.49 268.91) rotate(71.6)" textLength="15.27" lengthAdjust="spacingAndGlyphs" dy="0.8">IC172372-A-8</text>
<text transform="translate(571.95 269.72) rotate(72.8)" textLength="13.08" lengthAdjust="spacingAndGlyphs" dy="0.8">EC600900-B-35</text>
<text transform="translate(569.41 270.48) rotate(74)" textLength="14.88" lengthAdjust="spacingAndGlyphs" dy="0.8">IC091779-A-136</text>
<text transform="translate(566.84 271.19) rotate(75.2)" textLength="13.75" lengthAdjust="spacingAndGlyphs" dy="0.8">IRGC61780-24</text>
<text transform="translate(564.26 271.84) rotate(76.4)" textLength="15.33" lengthAdjust="spacingAndGlyphs" dy="0.8">IRGC75957-98</text>
<text transform="translate(561.67 272.44) rotate(77.6)" textLength="14.89" lengthAdjust="spacingAndGlyphs" dy="0.8">IC697899-A-41</text>
<text transform="translate(559.07 272.98) rotate(78.8)" textLength="14.02" lengthAdjust="spacingAndGlyphs" dy="0.8">IC263274-A-478</text>
<text transform="translate(556.45 273.47) rotate(80)" textLength="14.5" lengthAdjust="spacingAndGlyphs" dy="0.8">IC013589-A-20</text>
<text transform="translate(553.83 273.91) rotate(81.2)" textLength="14.87" lengthAdjust="spacingAndGlyphs" dy="0.8">IC134920-A-83</text>
<text transform="translate(551.2 274.28) rotate(82.4)" textLength="14.8" lengthAdjust="spacingAndGlyphs" dy="0.8">IRGC08393-22</text>
<text transform="translate(548.56 274.61) rotate(83.6)" textLength="13.67" lengthAdjust="spacingAndGlyphs" dy="0.8">EC584091-B-14</text>
<text transform="translate(545.91 274.88) rotate(84.8)" textLength="15.71" lengthAdjust="spacingAndGlyphs" dy="0.8">IRGC42487-56</text>
<text transform="translate(543.26 275.09) rotate(86)" textLength="14.41" lengthAdjust="spacingAndGlyphs" dy="0.8">IC360212-A-31</text>
<text transform="translate(540.6 275.25) rotate(87.2)" textLength="14.16" lengthAdjust="spacingAndGlyphs" dy="0.8">IC771570-A-12</text>
<text transform="translate(537.95 275.35) rotate(88.4)" textLength="14.7" lengthAdjust="spacingAndGlyphs" dy="0.8">EC652166-B-15</text>
<text transform="translate(535.29 275.4) rotate(89.6)" textLength="13.52" lengthAdjust="spacingAndGlyphs" dy="0.8">IC855756-A-0</text>
<text transform="translate(532.43 289.41) rotate(270.8)" textLength="14.02" lengthAdjust="spacingAndGlyphs" dy="0.8">IC716258-A-7</text>
<text transform="translate(529.47 289.57) rotate(272)" textLength="14.26" lengthAdjust="spacingAndGlyphs" dy="0.8">IC048444-A-51</text>
<text transform="translate(526.47 290.26) rotate(273.2)" textLength="15.08" lengthAdjust="spacingAndGlyphs" dy="0.8">IC016538-A-04</text>
<text transform="translate(523.47 290.47) rotate(274.4)" textLength="15.49" lengthAdjust="spacingAndGlyphs" dy="0.8">IC057419-A-4</text>
<text transform="translate(520.49 290.22) rotate(275.6)" textLength="15.5" lengthAdjust="spacingAndGlyphs" dy="0.8">IC081525-A-4</text>
<text transform="translate(517.71 288.34) rotate(276.8)" textLength="13.93" lengthAdjust="spacingAndGlyphs" dy="0.8">EC230960-B-81</text>
<text transform="translate(514.88 287.29) rotate(278)" textLength="13.25" lengthAdjust="spacingAndGlyphs" dy="0.8">IRGC10054-77</text>
<text transform="translate(511.84 287.69) rotate(279.2)" textLength="14.11" lengthAdjust="spacingAndGlyphs" dy="0.8">IC477247-A-832</text>
<text transform="translate(509.06 286.47) rotate(280.4)" textLength="13.38" lengthAdjust="spacingAndGlyphs" dy="0.8">IRGC19477-71</text>
<text transform="translate(506.05 286.53) rotate(281.6)" textLength="14.01" lengthAdjust="spacingAndGlyphs" dy="0.8">EC886757-B-95</text>
<text transform="translate(502.95 286.83) rotate(282.8)" textLength="14.96" lengthAdjust="spacingAndGlyphs" dy="0.8">IRGC35333-70</text>
<text transform="translate(502.35 276.96) rotate(284)" textLength="5.5" lengthAdjust="spacingAndGlyphs" dy="0.8" fill="#d884d8">EC824030-B-01</text>
<text transform="translate(497.15 285.51) rotate(285.2)" textLength="15.08" lengthAdjust="spacingAndGlyphs" dy="0.8">IRGC59344-66</text>
<text transform="translate(494.65 283.47) rotate(286.4)" textLength="13.8" lengthAdjust="spacingAndGlyphs" dy="0.8">EC289403-B-69</text>
<text transform="translate(491.6 283.33) rotate(287.6)" textLength="14.56" lengthAdjust="spacingAndGlyphs" dy="0.8">IRGC77416-96</text>
<text transform="translate(488.98 281.83) rotate(288.8)" textLength="13.95" lengthAdjust="spacingAndGlyphs" dy="0.8">IRGC20727-87</text>
<text transform="translate(485.98 281.44) rotate(290)" textLength="14.58" lengthAdjust="spacingAndGlyphs" dy="0.8">IC851526-A-0</text>
<text transform="translate(483.75 278.97) rotate(291.2)" textLength="13.05" lengthAdjust="spacingAndGlyphs" dy="0.8">IC834651-A-3</text>
<text transform="translate(480.59 278.95) rotate(292.4)" textLength="14.2" lengthAdjust="spacingAndGlyphs" dy="0.8">EC329083-B-92</text>
<text transform="translate(477.45 278.75) rotate(293.6)" textLength="15.24" lengthAdjust="spacingAndGlyphs" dy="0.8">IC851013-A-431</text>
<text transform="translate(475.61 275.63) rotate(294.8)" textLength="13.16" lengthAdjust="spacingAndGlyphs" dy="0.8">IRGC06833-56</text>
<text transform="translate(472.52 275.28) rotate(296)" textLength="14.16" lengthAdjust="spacingAndGlyphs" dy="0.8">IC130178-A-241</text>
<text transform="translate(469.48 274.73) rotate(297.2)" textLength="15.03" lengthAdjust="spacingAndGlyphs" dy="0.8">IC518719-A-915</text>
<text transform="translate(467.37 272.36) rotate(298.4)" textLength="13.92" lengthAdjust="spacingAndGlyphs" dy="0.8">IC152344-A-6</text>
<text transform="translate(464.74 271.03) rotate(299.6)" textLength="14.03" lengthAdjust="spacingAndGlyphs" dy="0.8">IC879312-A-13</text>
<text transform="translate(461.88 270.05) rotate(300.8)" textLength="14.62" lengthAdjust="spacingAndGlyphs" dy="0.8">IRGC02303-41</text>
<text transform="translate(459.25 268.67) rotate(302)" textLength="14.82" lengthAdjust="spacingAndGlyphs" dy="0.8">IRGC56167-65</text>
<text transform="translate(456.54 267.38) rotate(303.2)" textLength="15.19" lengthAdjust="spacingAndGlyphs" dy="0.8">EC417450-B-26</text>
<text transform="translate(453.72 266.22) rotate(304.4)" textLength="15.8" lengthAdjust="spacingAndGlyphs" dy="0.8">EC981146-B-57</text>
<text transform="translate(451.51 264.18) rotate(305.6)" textLength="15.4" lengthAdjust="spacingAndGlyphs" dy="0.8">EC100209-B-42</text>
<text transform="translate(449.62 261.73) rotate(306.8)" textLength="14.53" lengthAdjust="spacingAndGlyphs" dy="0.8">IC148697-A-85</text>
<text transform="translate(447.72 259.35) rotate(308)" textLength="13.79" lengthAdjust="spacingAndGlyphs" dy="0.8">IRGC94208-01</text>
<text transform="translate(445.29 257.66) rotate(309.2)" textLength="13.99" lengthAdjust="spacingAndGlyphs" dy="0.8">IC259542-A-86</text>
<text transform="translate(442.43 256.46) rotate(310.4)" textLength="14.9" lengthAdjust="spacingAndGlyphs" dy="0.8">IC725990-A-73</text>
<text transform="translate(439.97 254.76) rotate(311.6)" textLength="15.23" lengthAdjust="spacingAndGlyphs" dy="0.8">IC721487-A-1</text>
<text transform="translate(438.65 251.8) rotate(312.8)" textLength="13.92" lengthAdjust="spacingAndGlyphs" dy="0.8">EC026171-B-01</text>
<text transform="translate(437.07 249.19) rotate(314)" textLength="13.11" lengthAdjust="spacingAndGlyphs" dy="0.8">IC456668-A-1</text>
<text transform="translate(434.57 247.53) rotate(315.2)" textLength="13.69" lengthAdjust="spacingAndGlyphs" dy="0.8">IC642649-A-1</text>
<text transform="translate(431.85 246.06) rotate(316.4)" textLength="14.61" lengthAdjust="spacingAndGlyphs" dy="0.8">IC030249-A-35</text>
<text transform="translate(429.56 244.13) rotate(317.6)" textLength="14.97" lengthAdjust="spacingAndGlyphs" dy="0.8">IC915420-A-66</text>
<text transform="translate(427.33 242.14) rotate(318.8)" textLength="15.31" lengthAdjust="spacingAndGlyphs" dy="0.8">IRGC46581-27</text>
<text transform="translate(426.4 239.02) rotate(320)" textLength="13.98" lengthAdjust="spacingAndGlyphs" dy="0.8">IRGC04064-58</text>
<text transform="translate(423.56 237.52) rotate(321.2)" textLength="15.23" lengthAdjust="spacingAndGlyphs" dy="0.8">IRGC17443-04</text>
<text transform="translate(422.33 234.71) rotate(322.4)" textLength="14.45" lengthAdjust="spacingAndGlyphs" dy="0.8">IRGC82432-68</text>
<text transform="translate(420.34 232.5) rotate(323.6)" textLength="14.71" lengthAdjust="spacingAndGlyphs" dy="0.8">IC075645-A-69</text>
<text transform="translate(418.15 230.4) rotate(324.8)" textLength="15.26" lengthAdjust="spacingAndGlyphs" dy="0.8">IC563162-A-783</text>
<text transform="translate(417 227.59) rotate(326)" textLength="14.61" lengthAdjust="spacingAndGlyphs" dy="0.8">IRGC32711-76</text>
<text transform="translate(416.35 224.48) rotate(327.2)" textLength="13.44" lengthAdjust="spacingAndGlyphs" dy="0.8">IRGC83726-45</text>
<text transform="translate(414.6 222.1) rotate(328.4)" textLength="13.66" lengthAdjust="spacingAndGlyphs" dy="0.8">IC944135-A-57</text>
<text transform="translate(412.7 219.8) rotate(329.6)" textLength="14.09" lengthAdjust="spacingAndGlyphs" dy="0.8">IC451297-A-16</text>
<text transform="translate(411.38 217.15) rotate(330.8)" textLength="13.92" lengthAdjust="spacingAndGlyphs" dy="0.8">IC932398-A-35</text>
<text transform="translate(408.88 215.14) rotate(332)" textLength="15.17" lengthAdjust="spacingAndGlyphs" dy="0.8">IC049422-A-0</text>
<text transform="translate(408.37 212.06) rotate(333.2)" textLength="14.19" lengthAdjust="spacingAndGlyphs" dy="0.8">IC553391-A-556</text>
<text transform="translate(408.12 208.9) rotate(334.4)" textLength="13.03" lengthAdjust="spacingAndGlyphs" dy="0.8">EC215080-B-44</text>
<text transform="translate(405.31 206.96) rotate(335.6)" textLength="14.75" lengthAdjust="spacingAndGlyphs" dy="0.8">IC598363-A-638</text>
<text transform="translate(403.2 204.63) rotate(336.8)" textLength="15.75" lengthAdjust="spacingAndGlyphs" dy="0.8">IRGC89746-13</text>
<text transform="translate(403.85 201.15) rotate(338)" textLength="13.8" lengthAdjust="spacingAndGlyphs" dy="0.8">IC759853-A-9</text>
<text transform="translate(402.03 198.68) rotate(339.2)" textLength="14.6" lengthAdjust="spacingAndGlyphs" dy="0.8">IC175352-A-3</text>
<text transform="translate(402.45 195.38) rotate(340.4)" textLength="13.06" lengthAdjust="spacingAndGlyphs" dy="0.8">IC416577-A-385</text>
<text transform="translate(399.09 193.41) rotate(341.6)" textLength="15.6" lengthAdjust="spacingAndGlyphs" dy="0.8">IRGC98135-33</text>
<text transform="translate(398.13 190.58) rotate(342.8)" textLength="15.65" lengthAdjust="spacingAndGlyphs" dy="0.8">EC638109-B-84</text>
<text transform="translate(397.72 187.59) rotate(344)" textLength="15.19" lengthAdjust="spacingAndGlyphs" dy="0.8">IC700294-A-26</text>
<text transform="translate(398.42 184.33) rotate(345.2)" textLength="13.65" lengthAdjust="spacingAndGlyphs" dy="0.8">IC843337-A-666</text>
<text transform="translate(398.06 181.38) rotate(346.4)" textLength="13.28" lengthAdjust="spacingAndGlyphs" dy="0.8">EC270627-B-52</text>
<text transform="translate(397.04 178.6) rotate(347.6)" textLength="13.64" lengthAdjust="spacingAndGlyphs" dy="0.8">IRGC13509-52</text>
<text transform="translate(394.74 176.05) rotate(348.8)" textLength="15.37" lengthAdjust="spacingAndGlyphs" dy="0.8">IRGC49756-97</text>
<text transform="translate(394.77 173.02) rotate(350)" textLength="14.79" lengthAdjust="spacingAndGlyphs" dy="0.8">IC745331-A-92</text>
<text transform="translate(395.58 169.89) rotate(351.2)" textLength="13.47" lengthAdjust="spacingAndGlyphs" dy="0.8">IC461441-A-4</text>
<text transform="translate(395.46 166.94) rotate(352.4)" textLength="13.17" lengthAdjust="spacingAndGlyphs" dy="0.8">IC083216-A-2</text>
<text transform="translate(394.72 164.07) rotate(353.6)" textLength="13.56" lengthAdjust="spacingAndGlyphs" dy="0.8">IC839804-A-82</text>
<text transform="translate(393.92 161.18) rotate(354.8)" textLength="14.06" lengthAdjust="spacingAndGlyphs" dy="0.8">IC799536-A-9</text>
<text transform="translate(393.43 158.26) rotate(356)" textLength="14.31" lengthAdjust="spacingAndGlyphs" dy="0.8">IC359502-A-151</text>
<text transform="translate(392.2 155.35) rotate(357.2)" textLength="15.37" lengthAdjust="spacingAndGlyphs" dy="0.8">EC257482-B-12</text>
<text transform="translate(393.13 152.35) rotate(358.4)" textLength="14.32" lengthAdjust="spacingAndGlyphs" dy="0.8">IC525663-A-5</text>
<text transform="translate(393.41 149.38) rotate(359.6)" textLength="14" lengthAdjust="spacingAndGlyphs" dy="0.8">IRGC20620-97</text>
<text transform="translate(394.18 146.44) rotate(360.8)" textLength="13.24" lengthAdjust="spacingAndGlyphs" dy="0.8">IRGC08937-73</text>
<text transform="translate(392.68 143.45) rotate(362)" textLength="14.81" lengthAdjust="spacingAndGlyphs" dy="0.8">EC103254-B-34</text>
<text transform="translate(393.43 140.52) rotate(363.2)" textLength="14.19" lengthAdjust="spacingAndGlyphs" dy="0.8">IC959629-A-30</text>
<text transform="translate(394.76 137.66) rotate(364.4)" textLength="13.05" lengthAdjust="spacingAndGlyphs" dy="0.8">IC343993-A-17</text>
<text transform="translate(394.69 134.7) rotate(365.6)" textLength="13.38" lengthAdjust="spacingAndGlyphs" dy="0.8">IC252385-A-2</text>
<text transform="translate(394.88 131.76) rotate(366.8)" textLength="13.5" lengthAdjust="spacingAndGlyphs" dy="0.8">IRGC44840-34</text>
<text transform="translate(393.03 128.53) rotate(368)" textLength="15.76" lengthAdjust="spacingAndGlyphs" dy="0.8">IC031267-A-08</text>
<text transform="translate(395.26 125.86) rotate(369.2)" textLength="13.96" lengthAdjust="spacingAndGlyphs" dy="0.8">IC024644-A-498</text>
<text transform="translate(395.81 122.96) rotate(370.4)" textLength="13.9" lengthAdjust="spacingAndGlyphs" dy="0.8">IRGC97411-29</text>
<text transform="translate(396.88 120.17) rotate(371.6)" textLength="13.39" lengthAdjust="spacingAndGlyphs" dy="0.8">IRGC35906-32</text>
<text transform="translate(396.42 117.05) rotate(372.8)" textLength="14.5" lengthAdjust="spacingAndGlyphs" dy="0.8">IC545393-A-090</text>
<text transform="translate(396.2 113.94) rotate(374)" textLength="15.43" lengthAdjust="spacingAndGlyphs" dy="0.8">IRGC58861-63</text>
<text transform="translate(397.02 111.08) rotate(375.2)" textLength="15.36" lengthAdjust="spacingAndGlyphs" dy="0.8">IRGC84826-07</text>
<text transform="translate(398 108.25) rotate(376.4)" textLength="15.19" lengthAdjust="spacingAndGlyphs" dy="0.8">IRGC59802-06</text>
<text transform="translate(400.84 106.03) rotate(377.6)" textLength="13.12" lengthAdjust="spacingAndGlyphs" dy="0.8">IRGC63372-77</text>
<text transform="translate(399.46 102.46) rotate(378.8)" textLength="15.55" lengthAdjust="spacingAndGlyphs" dy="0.8">IC162656-A-4</text>
<text transform="translate(402.14 100.26) rotate(380)" textLength="13.75" lengthAdjust="spacingAndGlyphs" dy="0.8">IC050276-A-644</text>
<text transform="translate(402.91 97.4) rotate(381.2)" textLength="14.04" lengthAdjust="spacingAndGlyphs" dy="0.8">IRGC11676-18</text>
<text transform="translate(402.79 94.15) rotate(382.4)" textLength="15.35" lengthAdjust="spacingAndGlyphs" dy="0.8">EC266630-B-61</text>
<text transform="translate(405.94 92.28) rotate(383.6)" textLength="13.19" lengthAdjust="spacingAndGlyphs" dy="0.8">EC754309-B-79</text>
<text transform="translate(414.12 92.82) rotate(384.8)" textLength="5.5" lengthAdjust="spacingAndGlyphs" dy="0.8" fill="#d884d8">IC402738-A-34</text>
<text transform="translate(406.21 85.88) rotate(386)" textLength="15.63" lengthAdjust="spacingAndGlyphs" dy="0.8">EC758999-B-34</text>
<text transform="translate(407.86 83.37) rotate(387.2)" textLength="15.27" lengthAdjust="spacingAndGlyphs" dy="0.8">EC605926-B-20</text>
<text transform="translate(409.91 81.09) rotate(388.4)" textLength="14.53" lengthAdjust="spacingAndGlyphs" dy="0.8">IC038618-A-8</text>
<text transform="translate(410.46 77.99) rotate(389.6)" textLength="15.55" lengthAdjust="spacingAndGlyphs" dy="0.8">IRGC54163-25</text>
<text transform="translate(413.53 76.35) rotate(390.8)" textLength="13.72" lengthAdjust="spacingAndGlyphs" dy="0.8">IC591530-A-33</text>
<text transform="translate(413.31 72.73) rotate(392)" textLength="15.79" lengthAdjust="spacingAndGlyphs" dy="0.8">IC302842-A-9</text>
<text transform="translate(415.3 70.46) rotate(393.2)" textLength="15.33" lengthAdjust="spacingAndGlyphs" dy="0.8">IC848265-A-6</text>
<text transform="translate(417.97 68.68) rotate(394.4)" textLength="14.11" lengthAdjust="spacingAndGlyphs" dy="0.8">EC895020-B-72</text>
<text transform="translate(419.32 66.01) rotate(395.6)" textLength="14.53" lengthAdjust="spacingAndGlyphs" dy="0.8">IC848181-A-8</text>
<text transform="translate(421.05 63.61) rotate(396.8)" textLength="14.55" lengthAdjust="spacingAndGlyphs" dy="0.8">EC765832-B-84</text>
<text transform="translate(421.9 60.5) rotate(398)" textLength="15.77" lengthAdjust="spacingAndGlyphs" dy="0.8">IC202703-A-103</text>
<text transform="translate(423.93 58.31) rotate(399.2)" textLength="15.55" lengthAdjust="spacingAndGlyphs" dy="0.8">IC875671-A-756</text>
<text transform="translate(426.92 56.93) rotate(400.4)" textLength="14.13" lengthAdjust="spacingAndGlyphs" dy="0.8">EC418570-B-17</text>
<text transform="translate(427.92 53.87) rotate(401.6)" textLength="15.39" lengthAdjust="spacingAndGlyphs" dy="0.8">IC956841-A-81</text>
<text transform="translate(430.68 52.36) rotate(402.8)" textLength="14.36" lengthAdjust="spacingAndGlyphs" dy="0.8">EC328687-B-25</text>
<text transform="translate(433.53 50.99) rotate(404)" textLength="13.23" lengthAdjust="spacingAndGlyphs" dy="0.8">EC524835-B-14</text>
<text transform="translate(435.18 48.49) rotate(405.2)" textLength="13.81" lengthAdjust="spacingAndGlyphs" dy="0.8">IRGC26732-59</text>
<text transform="translate(437.15 46.28) rotate(406.4)" textLength="14.02" lengthAdjust="spacingAndGlyphs" dy="0.8">IC034894-A-89</text>
<text transform="translate(439.82 44.82) rotate(407.6)" textLength="13.27" lengthAdjust="spacingAndGlyphs" dy="0.8">IC403794-A-620</text>
<text transform="translate(442.01 42.87) rotate(408.8)" textLength="13.26" lengthAdjust="spacingAndGlyphs" dy="0.8">IRGC87617-13</text>
<text transform="translate(442.69 39.1) rotate(410)" textLength="15.68" lengthAdjust="spacingAndGlyphs" dy="0.8">EC475512-B-89</text>
<text transform="translate(445.41 37.72) rotate(411.2)" textLength="15.01" lengthAdjust="spacingAndGlyphs" dy="0.8">IC858485-A-239</text>
<text transform="translate(447.5 35.56) rotate(412.4)" textLength="15.42" lengthAdjust="spacingAndGlyphs" dy="0.8">EC928323-B-61</text>
<text transform="translate(455.77 41.75) rotate(413.6)" textLength="5.5" lengthAdjust="spacingAndGlyphs" dy="0.8" fill="#d884d8">EC738495-B-32</text>
<text transform="translate(458.02 40.13) rotate(414.8)" textLength="5.5" lengthAdjust="spacingAndGlyphs" dy="0.8" fill="#d884d8">IRGC94214-39</text>
<text transform="translate(454.6 30.1) rotate(416)" textLength="15.7" lengthAdjust="spacingAndGlyphs" dy="0.8">IC301836-A-95</text>
<text transform="translate(458.01 29.87) rotate(417.2)" textLength="14.01" lengthAdjust="spacingAndGlyphs" dy="0.8">IRGC23669-57</text>
<text transform="translate(460.39 28.1) rotate(418.4)" textLength="14.25" lengthAdjust="spacingAndGlyphs" dy="0.8">EC553931-B-12</text>
<text transform="translate(462.75 26.27) rotate(419.6)" textLength="14.6" lengthAdjust="spacingAndGlyphs" dy="0.8">EC524049-B-24</text>
<text transform="translate(466 26.01) rotate(420.8)" textLength="13.21" lengthAdjust="spacingAndGlyphs" dy="0.8">IRGC50959-35</text>
<text transform="translate(467.54 22.66) rotate(422)" textLength="15.41" lengthAdjust="spacingAndGlyphs" dy="0.8">IC650186-A-088</text>
<text transform="translate(470.29 21.49) rotate(423.2)" textLength="15.18" lengthAdjust="spacingAndGlyphs" dy="0.8">IRGC12144-38</text>
<text transform="translate(473.36 21.01) rotate(424.4)" textLength="14.26" lengthAdjust="spacingAndGlyphs" dy="0.8">IC803837-A-33</text>
<text transform="translate(475.42 18.38) rotate(425.6)" textLength="15.77" lengthAdjust="spacingAndGlyphs" dy="0.8">IC614099-A-0</text>
<text transform="translate(478.96 19.06) rotate(426.8)" textLength="13.72" lengthAdjust="spacingAndGlyphs" dy="0.8">IC770514-A-1</text>
<text transform="translate(481.59 17.69) rotate(428)" textLength="13.97" lengthAdjust="spacingAndGlyphs" dy="0.8">IC025060-A-67</text>
<text transform="translate(484.1 15.99) rotate(429.2)" textLength="14.65" lengthAdjust="spacingAndGlyphs" dy="0.8">IC348675-A-72</text>
<text transform="translate(486.82 14.77) rotate(430.4)" textLength="14.84" lengthAdjust="spacingAndGlyphs" dy="0.8">IC163935-A-8</text>
<text transform="translate(492.58 22.67) rotate(431.6)" textLength="5.5" lengthAdjust="spacingAndGlyphs" dy="0.8" fill="#d884d8">EC628170-B-72</text>
<text transform="translate(492.33 12.48) rotate(432.8)" textLength="15.28" lengthAdjust="spacingAndGlyphs" dy="0.8">EC510832-B-25</text>
<text transform="translate(495.23 11.79) rotate(434)" textLength="15.12" lengthAdjust="spacingAndGlyphs" dy="0.8">IRGC28657-90</text>
<text transform="translate(498.51 12.58) rotate(435.2)" textLength="13.48" lengthAdjust="spacingAndGlyphs" dy="0.8">IRGC17272-88</text>
<text transform="translate(500.91 9.96) rotate(436.4)" textLength="15.44" lengthAdjust="spacingAndGlyphs" dy="0.8">IC682690-A-99</text>
<text transform="translate(504.03 10.28) rotate(437.6)" textLength="14.42" lengthAdjust="spacingAndGlyphs" dy="0.8">IRGC21561-22</text>
<text transform="translate(506.67 8.37) rotate(438.8)" textLength="15.75" lengthAdjust="spacingAndGlyphs" dy="0.8">IRGC44545-90</text>
<text transform="translate(509.83 9.04) rotate(440)" textLength="14.51" lengthAdjust="spacingAndGlyphs" dy="0.8">IC689884-A-117</text>
<text transform="translate(514.13 17.46) rotate(441.2)" textLength="5.5" lengthAdjust="spacingAndGlyphs" dy="0.8" fill="#d884d8">IC671976-A-9</text>
<text transform="translate(515.87 9.56) rotate(442.4)" textLength="13.07" lengthAdjust="spacingAndGlyphs" dy="0.8">IC557525-A-319</text>
<text transform="translate(518.54 7.03) rotate(443.6)" textLength="15.26" lengthAdjust="spacingAndGlyphs" dy="0.8">IC586081-A-2</text>
<text transform="translate(521.51 6.75) rotate(444.8)" textLength="15.24" lengthAdjust="spacingAndGlyphs" dy="0.8">IRGC70475-34</text>
<text transform="translate(524.49 6.74) rotate(446)" textLength="15.01" lengthAdjust="spacingAndGlyphs" dy="0.8">EC149135-B-25</text>
<text transform="translate(527.54 8.23) rotate(447.2)" textLength="13.33" lengthAdjust="spacingAndGlyphs" dy="0.8">IC971404-A-17</text>
<text transform="translate(530.46 7.44) rotate(448.4)" textLength="14.01" lengthAdjust="spacingAndGlyphs" dy="0.8">IC847574-A-66</text>
</g>
<line x1="482.78" y1="124.22" x2="435.87" y2="102.25" stroke="#9c9cf0" stroke-width="0.5"/>
<line x1="530.36" y1="121.7" x2="522.35" y2="68.71" stroke="#4a4ac8" stroke-width="0.7"/>
<line x1="526.87" y1="181.56" x2="520.11" y2="211.3" stroke="#9a9af0" stroke-width="0.55"/>
<text x="477.2" y="6" font-size="5.45" font-weight="bold" font-style="italic" fill="#ff1a1a">UPLRI 7</text>
<text x="502.9" y="6" font-size="5.45" font-weight="bold" font-style="italic" fill="#ff1a1a">Vandana</text>
<text x="409" y="32" font-size="5.45" font-weight="bold" font-style="italic" fill="#ff1a1a">IR 74371-70-1-1</text>
<text x="409" y="38.1" font-size="5.45" font-weight="bold" font-style="italic" fill="#ff1a1a">NSIC Rc192</text>
<text transform="translate(404.3 86.9) rotate(-90)" font-size="5.45" font-weight="bold" font-style="italic" fill="#ff1a1a">Kali Aus</text>
<text x="478.2" y="291.9" font-size="5.45" font-weight="bold" font-style="italic" fill="#ff1a1a">IRRI 125</text>
<line x1="509.8" y1="306.3" x2="521.7" y2="306.3" stroke="#333" stroke-width="0.5"/>
<text x="515.7" y="309.8" font-size="2.4" fill="#333" text-anchor="middle">0.01</text>
<rect x="0" y="0" width="1.9" height="312" fill="#c4c4c4"/>
<path d="M0 0.5H162.4V151.5H0" fill="none" stroke="#7a7a7a" stroke-width="1"/>
<path d="M0 153.4H161.4V311.1H0" fill="none" stroke="#7a7a7a" stroke-width="1"/>
<rect x="176.5" y="0.5" width="204" height="150.5" fill="none" stroke="#7a7a7a" stroke-width="1"/>
<rect x="176.5" y="153.5" width="203" height="157.6" fill="none" stroke="#7a7a7a" stroke-width="1"/>
<rect x="386.5" y="0.5" width="297.7" height="310.7" fill="none" stroke="#666" stroke-width="1.2"/>
<text x="0.6" y="9.0" textLength="13.6" font-size="11.2" font-weight="bold" fill="#111" lengthAdjust="spacingAndGlyphs">(a)</text>
<text x="-1.1" y="165.1" textLength="14.0" font-size="11.2" font-weight="bold" fill="#111" lengthAdjust="spacingAndGlyphs">(b)</text>
<text x="164.4" y="11.9" textLength="11.8" font-size="11.2" font-weight="bold" fill="#111" lengthAdjust="spacingAndGlyphs">(c)</text>
<text x="162.0" y="162.9" textLength="12.9" font-size="11.2" font-weight="bold" fill="#111" lengthAdjust="spacingAndGlyphs">(d)</text>
<text x="389.8" y="13.1" textLength="13.6" font-size="11.2" font-weight="bold" fill="#111" lengthAdjust="spacingAndGlyphs">(e)</text>
</svg>
</body></html>
